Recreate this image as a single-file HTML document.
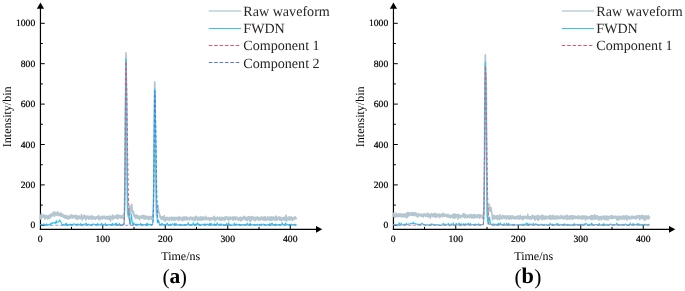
<!DOCTYPE html>
<html><head><meta charset="utf-8"><style>
html,body{margin:0;padding:0;background:#fff;width:685px;height:291px;overflow:hidden}
svg{display:block;will-change:transform}
.tl{stroke:#000;stroke-width:0.22px}
text{font-family:"Liberation Serif",serif;text-rendering:geometricPrecision}
</style></head><body>
<svg width="685" height="291" viewBox="0 0 685 291" fill="#000">
<g transform="translate(0,0)">
<line x1="40.45" y1="229.9" x2="40.45" y2="8" stroke="#000" stroke-width="1.2"/>
<path d="M36.85,8.8 L40.45,2.4 L44.050000000000004,8.8 Z" fill="#000"/>
<line x1="39.85" y1="229.3" x2="316" y2="229.3" stroke="#000" stroke-width="1.2"/>
<path d="M316,225.9 L322.3,229.3 L316,232.70000000000002 Z" fill="#000"/>
<line x1="40.45" y1="225.30" x2="44.75" y2="225.30" stroke="#000" stroke-width="1"/>
<text x="35.2" y="228.30" text-anchor="end" font-size="9.6" class="tl">0</text>
<line x1="40.45" y1="205.10" x2="42.85" y2="205.10" stroke="#000" stroke-width="1"/>
<line x1="40.45" y1="184.90" x2="44.75" y2="184.90" stroke="#000" stroke-width="1"/>
<text x="35.2" y="187.90" text-anchor="end" font-size="9.6" class="tl">200</text>
<line x1="40.45" y1="164.70" x2="42.85" y2="164.70" stroke="#000" stroke-width="1"/>
<line x1="40.45" y1="144.50" x2="44.75" y2="144.50" stroke="#000" stroke-width="1"/>
<text x="35.2" y="147.50" text-anchor="end" font-size="9.6" class="tl">400</text>
<line x1="40.45" y1="124.30" x2="42.85" y2="124.30" stroke="#000" stroke-width="1"/>
<line x1="40.45" y1="104.10" x2="44.75" y2="104.10" stroke="#000" stroke-width="1"/>
<text x="35.2" y="107.10" text-anchor="end" font-size="9.6" class="tl">600</text>
<line x1="40.45" y1="83.90" x2="42.85" y2="83.90" stroke="#000" stroke-width="1"/>
<line x1="40.45" y1="63.70" x2="44.75" y2="63.70" stroke="#000" stroke-width="1"/>
<text x="35.2" y="66.70" text-anchor="end" font-size="9.6" class="tl">800</text>
<line x1="40.45" y1="43.50" x2="42.85" y2="43.50" stroke="#000" stroke-width="1"/>
<line x1="40.45" y1="23.30" x2="44.75" y2="23.30" stroke="#000" stroke-width="1"/>
<text x="35.2" y="26.30" text-anchor="end" font-size="9.6" class="tl">1000</text>
<text x="40.25" y="241.7" text-anchor="middle" font-size="9.6" class="tl">0</text>
<line x1="71.50" y1="229.3" x2="71.50" y2="226.9" stroke="#000" stroke-width="1"/>
<line x1="102.75" y1="229.3" x2="102.75" y2="225.0" stroke="#000" stroke-width="1"/>
<text x="102.75" y="241.7" text-anchor="middle" font-size="9.6" class="tl">100</text>
<line x1="134.00" y1="229.3" x2="134.00" y2="226.9" stroke="#000" stroke-width="1"/>
<line x1="165.25" y1="229.3" x2="165.25" y2="225.0" stroke="#000" stroke-width="1"/>
<text x="165.25" y="241.7" text-anchor="middle" font-size="9.6" class="tl">200</text>
<line x1="196.50" y1="229.3" x2="196.50" y2="226.9" stroke="#000" stroke-width="1"/>
<line x1="227.75" y1="229.3" x2="227.75" y2="225.0" stroke="#000" stroke-width="1"/>
<text x="227.75" y="241.7" text-anchor="middle" font-size="9.6" class="tl">300</text>
<line x1="259.00" y1="229.3" x2="259.00" y2="226.9" stroke="#000" stroke-width="1"/>
<line x1="290.25" y1="229.3" x2="290.25" y2="225.0" stroke="#000" stroke-width="1"/>
<text x="290.25" y="241.7" text-anchor="middle" font-size="9.6" class="tl">400</text>
<text x="180.7" y="260" text-anchor="middle" font-size="12">Time/ns</text>
<text transform="translate(11.2,116.8) rotate(-90)" text-anchor="middle" font-size="12">Intensity/bin</text>
</g>
<g transform="translate(353,0)">
<line x1="40.45" y1="229.9" x2="40.45" y2="8" stroke="#000" stroke-width="1.2"/>
<path d="M36.85,8.8 L40.45,2.4 L44.050000000000004,8.8 Z" fill="#000"/>
<line x1="39.85" y1="229.3" x2="316" y2="229.3" stroke="#000" stroke-width="1.2"/>
<path d="M316,225.9 L322.3,229.3 L316,232.70000000000002 Z" fill="#000"/>
<line x1="40.45" y1="225.30" x2="44.75" y2="225.30" stroke="#000" stroke-width="1"/>
<text x="35.2" y="228.30" text-anchor="end" font-size="9.6" class="tl">0</text>
<line x1="40.45" y1="205.10" x2="42.85" y2="205.10" stroke="#000" stroke-width="1"/>
<line x1="40.45" y1="184.90" x2="44.75" y2="184.90" stroke="#000" stroke-width="1"/>
<text x="35.2" y="187.90" text-anchor="end" font-size="9.6" class="tl">200</text>
<line x1="40.45" y1="164.70" x2="42.85" y2="164.70" stroke="#000" stroke-width="1"/>
<line x1="40.45" y1="144.50" x2="44.75" y2="144.50" stroke="#000" stroke-width="1"/>
<text x="35.2" y="147.50" text-anchor="end" font-size="9.6" class="tl">400</text>
<line x1="40.45" y1="124.30" x2="42.85" y2="124.30" stroke="#000" stroke-width="1"/>
<line x1="40.45" y1="104.10" x2="44.75" y2="104.10" stroke="#000" stroke-width="1"/>
<text x="35.2" y="107.10" text-anchor="end" font-size="9.6" class="tl">600</text>
<line x1="40.45" y1="83.90" x2="42.85" y2="83.90" stroke="#000" stroke-width="1"/>
<line x1="40.45" y1="63.70" x2="44.75" y2="63.70" stroke="#000" stroke-width="1"/>
<text x="35.2" y="66.70" text-anchor="end" font-size="9.6" class="tl">800</text>
<line x1="40.45" y1="43.50" x2="42.85" y2="43.50" stroke="#000" stroke-width="1"/>
<line x1="40.45" y1="23.30" x2="44.75" y2="23.30" stroke="#000" stroke-width="1"/>
<text x="35.2" y="26.30" text-anchor="end" font-size="9.6" class="tl">1000</text>
<text x="40.25" y="241.7" text-anchor="middle" font-size="9.6" class="tl">0</text>
<line x1="71.50" y1="229.3" x2="71.50" y2="226.9" stroke="#000" stroke-width="1"/>
<line x1="102.75" y1="229.3" x2="102.75" y2="225.0" stroke="#000" stroke-width="1"/>
<text x="102.75" y="241.7" text-anchor="middle" font-size="9.6" class="tl">100</text>
<line x1="134.00" y1="229.3" x2="134.00" y2="226.9" stroke="#000" stroke-width="1"/>
<line x1="165.25" y1="229.3" x2="165.25" y2="225.0" stroke="#000" stroke-width="1"/>
<text x="165.25" y="241.7" text-anchor="middle" font-size="9.6" class="tl">200</text>
<line x1="196.50" y1="229.3" x2="196.50" y2="226.9" stroke="#000" stroke-width="1"/>
<line x1="227.75" y1="229.3" x2="227.75" y2="225.0" stroke="#000" stroke-width="1"/>
<text x="227.75" y="241.7" text-anchor="middle" font-size="9.6" class="tl">300</text>
<line x1="259.00" y1="229.3" x2="259.00" y2="226.9" stroke="#000" stroke-width="1"/>
<line x1="290.25" y1="229.3" x2="290.25" y2="225.0" stroke="#000" stroke-width="1"/>
<text x="290.25" y="241.7" text-anchor="middle" font-size="9.6" class="tl">400</text>
<text x="180.7" y="260" text-anchor="middle" font-size="12">Time/ns</text>
<text transform="translate(11.2,116.8) rotate(-90)" text-anchor="middle" font-size="12">Intensity/bin</text>
</g>
<g transform="translate(0,0)" fill="none" stroke-linejoin="round">
<polyline points="40.25,214.72 40.38,218.99 40.50,216.23 40.62,217.14 40.75,217.03 40.88,216.81 41.00,218.49 41.12,216.83 41.25,217.42 41.38,213.53 41.50,216.40 41.62,216.94 41.75,216.88 41.88,217.23 42.00,217.59 42.12,216.98 42.25,216.17 42.38,216.84 42.50,215.72 42.62,216.80 42.75,216.59 42.88,215.18 43.00,216.11 43.12,217.08 43.25,216.78 43.38,216.11 43.50,214.82 43.62,216.86 43.75,216.84 43.88,215.68 44.00,217.44 44.12,216.89 44.25,215.79 44.38,216.07 44.50,216.53 44.62,215.99 44.75,219.24 44.88,215.67 45.00,217.51 45.12,218.16 45.25,216.36 45.38,215.96 45.50,217.03 45.62,217.61 45.75,216.59 45.88,216.66 46.00,215.31 46.12,215.92 46.25,216.43 46.38,215.58 46.50,216.80 46.62,217.47 46.75,216.07 46.88,216.07 47.00,216.81 47.12,217.34 47.25,216.40 47.38,218.93 47.50,215.97 47.62,216.16 47.75,218.14 47.88,216.56 48.00,217.51 48.12,215.91 48.25,218.50 48.38,217.46 48.50,215.95 48.62,215.54 48.75,218.62 48.88,217.08 49.00,216.31 49.12,217.18 49.25,215.14 49.38,217.72 49.50,216.28 49.62,217.59 49.75,215.30 49.88,216.59 50.00,216.86 50.12,218.04 50.25,214.80 50.38,215.56 50.50,215.45 50.62,214.97 50.75,215.57 50.88,216.35 51.00,216.36 51.12,216.22 51.25,214.06 51.38,216.54 51.50,215.60 51.62,215.20 51.75,214.57 51.88,214.12 52.00,215.70 52.12,216.05 52.25,214.36 52.38,213.16 52.50,213.53 52.62,214.00 52.75,214.48 52.88,213.92 53.00,214.42 53.12,213.43 53.25,214.93 53.38,214.07 53.50,214.29 53.62,213.69 53.75,213.98 53.88,211.82 54.00,212.80 54.12,212.80 54.25,216.09 54.38,214.51 54.50,214.76 54.62,213.69 54.75,216.31 54.88,213.10 55.00,213.20 55.12,215.40 55.25,215.10 55.38,214.93 55.50,214.15 55.62,213.59 55.75,212.29 55.88,214.37 56.00,213.48 56.12,214.05 56.25,212.55 56.38,213.50 56.50,212.92 56.62,215.19 56.75,214.37 56.88,214.95 57.00,212.79 57.12,213.58 57.25,214.47 57.38,214.61 57.50,213.74 57.62,214.84 57.75,215.05 57.88,213.74 58.00,211.90 58.12,214.42 58.25,214.71 58.38,215.28 58.50,215.43 58.62,213.70 58.75,213.40 58.88,214.18 59.00,213.88 59.12,214.08 59.25,214.06 59.38,215.61 59.50,214.62 59.62,214.09 59.75,214.92 59.88,214.63 60.00,214.95 60.12,214.50 60.25,213.40 60.38,214.58 60.50,214.38 60.62,213.53 60.75,213.76 60.88,212.87 61.00,216.48 61.12,213.86 61.25,215.22 61.38,214.78 61.50,214.26 61.62,214.18 61.75,214.36 61.88,215.33 62.00,214.12 62.12,216.02 62.25,216.03 62.38,215.29 62.50,216.67 62.62,214.26 62.75,215.43 62.88,214.44 63.00,216.56 63.12,216.95 63.25,216.48 63.38,215.97 63.50,217.21 63.62,216.32 63.75,216.70 63.88,215.19 64.00,217.32 64.12,215.74 64.25,217.32 64.38,217.63 64.50,217.40 64.62,217.86 64.75,216.63 64.88,215.82 65.00,216.64 65.12,216.22 65.25,215.30 65.38,216.58 65.50,216.66 65.62,217.11 65.75,218.36 65.88,216.17 66.00,218.52 66.12,216.29 66.25,216.92 66.38,215.87 66.50,216.99 66.62,217.71 66.75,216.62 66.88,217.48 67.00,217.14 67.12,216.94 67.25,217.11 67.38,217.17 67.50,217.77 67.62,217.18 67.75,218.99 67.88,217.16 68.00,218.13 68.12,215.98 68.25,215.84 68.38,218.83 68.50,216.88 68.62,217.14 68.75,217.99 68.88,216.52 69.00,217.45 69.12,218.66 69.25,217.27 69.38,217.16 69.50,216.92 69.62,218.17 69.75,216.45 69.88,216.34 70.00,218.09 70.12,217.64 70.25,217.10 70.38,217.55 70.50,215.41 70.62,216.84 70.75,217.97 70.88,217.76 71.00,217.09 71.12,214.90 71.25,217.20 71.38,216.92 71.50,216.56 71.62,217.08 71.75,214.93 71.88,217.54 72.00,216.36 72.12,216.90 72.25,216.47 72.38,218.15 72.50,215.41 72.62,217.17 72.75,217.03 72.88,217.93 73.00,217.74 73.12,216.54 73.25,216.15 73.38,216.37 73.50,215.95 73.62,216.41 73.75,217.06 73.88,216.31 74.00,216.54 74.12,217.18 74.25,216.42 74.38,215.90 74.50,216.88 74.62,217.43 74.75,216.44 74.88,215.34 75.00,217.31 75.12,217.20 75.25,217.24 75.38,215.99 75.50,218.83 75.62,216.79 75.75,216.02 75.88,217.89 76.00,215.76 76.12,216.65 76.25,217.66 76.38,216.96 76.50,218.58 76.62,217.68 76.75,215.46 76.88,218.00 77.00,215.45 77.12,217.25 77.25,216.25 77.38,217.14 77.50,219.27 77.62,217.72 77.75,217.02 77.88,218.27 78.00,218.45 78.12,216.86 78.25,217.81 78.38,218.79 78.50,217.85 78.62,216.42 78.75,217.67 78.88,216.36 79.00,215.82 79.12,217.21 79.25,218.29 79.38,218.46 79.50,217.28 79.62,216.44 79.75,217.01 79.88,216.76 80.00,217.68 80.12,217.00 80.25,217.72 80.38,217.59 80.50,218.49 80.62,218.75 80.75,217.75 80.88,218.33 81.00,218.20 81.12,216.69 81.25,217.42 81.38,214.61 81.50,216.47 81.62,217.92 81.75,216.61 81.88,217.01 82.00,217.98 82.12,216.33 82.25,218.07 82.38,220.20 82.50,216.63 82.62,217.94 82.75,215.99 82.88,217.98 83.00,218.48 83.12,215.95 83.25,218.39 83.38,217.21 83.50,216.06 83.62,217.30 83.75,217.49 83.88,217.32 84.00,216.64 84.12,218.18 84.25,216.86 84.38,216.90 84.50,215.27 84.62,217.76 84.75,218.30 84.88,216.77 85.00,217.83 85.12,217.20 85.25,217.35 85.38,216.39 85.50,218.09 85.62,217.57 85.75,219.86 85.88,218.32 86.00,216.07 86.12,218.14 86.25,218.16 86.38,218.65 86.50,216.98 86.62,217.36 86.75,218.63 86.88,216.91 87.00,217.30 87.12,216.84 87.25,218.14 87.38,215.94 87.50,217.17 87.62,217.67 87.75,218.05 87.88,217.80 88.00,216.78 88.12,217.83 88.25,216.58 88.38,217.05 88.50,216.34 88.62,216.84 88.75,217.66 88.88,219.38 89.00,217.33 89.12,216.88 89.25,217.47 89.38,217.11 89.50,218.06 89.62,217.98 89.75,218.51 89.88,216.37 90.00,217.50 90.12,218.11 90.25,218.89 90.38,217.80 90.50,216.32 90.62,217.23 90.75,218.34 90.88,216.34 91.00,216.35 91.12,216.77 91.25,216.95 91.38,216.61 91.50,217.19 91.62,216.97 91.75,218.42 91.88,216.31 92.00,217.49 92.12,215.83 92.25,219.61 92.38,217.06 92.50,216.81 92.62,218.04 92.75,217.31 92.88,217.03 93.00,217.20 93.12,218.24 93.25,217.87 93.38,216.80 93.50,216.56 93.62,217.66 93.75,217.68 93.88,217.57 94.00,216.79 94.12,218.74 94.25,219.00 94.38,217.65 94.50,218.80 94.62,218.32 94.75,217.69 94.88,217.33 95.00,218.77 95.12,217.04 95.25,219.43 95.38,217.28 95.50,219.25 95.62,218.97 95.75,217.20 95.88,218.17 96.00,218.54 96.12,218.21 96.25,217.37 96.38,217.85 96.50,217.83 96.62,216.82 96.75,218.47 96.88,218.25 97.00,218.30 97.12,216.73 97.25,216.89 97.38,216.62 97.50,217.85 97.62,217.96 97.75,217.03 97.88,218.19 98.00,217.05 98.12,217.15 98.25,218.47 98.38,217.90 98.50,217.93 98.62,216.21 98.75,215.42 98.88,217.92 99.00,217.81 99.12,219.95 99.25,217.63 99.38,217.83 99.50,218.82 99.62,217.10 99.75,219.28 99.88,218.03 100.00,217.70 100.12,218.99 100.25,217.03 100.38,216.85 100.50,219.11 100.62,219.13 100.75,217.27 100.88,217.85 101.00,218.95 101.12,218.10 101.25,217.93 101.38,217.96 101.50,217.06 101.62,217.47 101.75,216.18 101.88,216.55 102.00,217.20 102.12,216.83 102.25,216.60 102.38,217.17 102.50,218.96 102.62,217.03 102.75,217.76 102.88,216.32 103.00,217.74 103.12,217.34 103.25,217.52 103.38,216.26 103.50,217.66 103.62,218.08 103.75,217.54 103.88,218.23 104.00,217.68 104.12,217.83 104.25,217.57 104.38,216.04 104.50,218.20 104.62,217.79 104.75,218.01 104.88,217.20 105.00,218.92 105.12,218.47 105.25,217.86 105.38,217.32 105.50,217.87 105.62,218.29 105.75,218.63 105.88,217.35 106.00,216.49 106.12,217.53 106.25,217.65 106.38,217.41 106.50,218.70 106.62,218.12 106.75,218.07 106.88,217.55 107.00,217.86 107.12,218.96 107.25,216.78 107.38,216.25 107.50,218.07 107.62,217.46 107.75,217.58 107.88,217.10 108.00,219.20 108.12,216.33 108.25,218.26 108.38,216.65 108.50,217.75 108.62,218.19 108.75,217.96 108.88,216.99 109.00,218.63 109.12,218.17 109.25,218.27 109.38,219.42 109.50,216.61 109.62,217.28 109.75,217.83 109.88,216.72 110.00,218.68 110.12,217.85 110.25,216.17 110.38,216.86 110.50,219.82 110.62,220.84 110.75,218.70 110.88,216.73 111.00,218.15 111.12,217.90 111.25,217.11 111.38,218.49 111.50,217.45 111.62,216.90 111.75,217.18 111.88,217.23 112.00,218.14 112.12,217.09 112.25,217.94 112.38,216.32 112.50,215.12 112.62,218.18 112.75,219.49 112.88,217.85 113.00,217.08 113.12,216.44 113.25,216.39 113.38,218.10 113.50,218.09 113.62,216.15 113.75,218.33 113.88,216.28 114.00,217.48 114.12,216.54 114.25,216.57 114.38,216.49 114.50,216.43 114.62,218.09 114.75,216.88 114.88,217.12 115.00,216.83 115.12,215.95 115.25,217.33 115.38,217.72 115.50,217.72 115.62,217.31 115.75,216.31 115.88,217.75 116.00,215.90 116.12,216.69 116.25,217.16 116.38,218.17 116.50,216.69 116.62,216.27 116.75,218.54 116.88,215.78 117.00,215.34 117.12,216.55 117.25,216.40 117.38,214.61 117.50,215.70 117.62,217.67 117.75,216.84 117.88,216.97 118.00,216.96 118.12,219.01 118.25,216.11 118.38,217.41 118.50,216.66 118.62,216.94 118.75,216.01 118.88,217.09 119.00,217.56 119.12,216.32 119.25,215.51 119.38,217.11 119.50,215.54 119.62,216.57 119.75,217.31 119.88,215.40 120.00,217.58 120.12,215.87 120.25,217.28 120.38,216.40 120.50,217.96 120.62,217.59 120.75,215.83 120.88,216.64 121.00,216.78 121.12,217.22 121.25,216.40 121.38,218.11 121.50,217.86 121.63,216.96 121.75,217.59 121.88,217.47 122.00,216.88 122.12,216.94 122.25,217.02 122.38,215.27 122.50,215.88 122.62,215.67 122.75,216.84 122.88,217.28 123.00,218.17 123.12,217.14 123.25,218.74 123.38,217.33 123.50,216.05 123.62,215.19 123.75,215.67 123.88,217.11 124.00,215.38 124.13,215.74 124.25,212.81 124.38,211.36 124.50,206.86 124.62,199.91 124.75,193.87 124.88,182.35 125.00,171.27 125.12,155.87 125.25,136.13 125.38,116.22 125.50,98.81 125.62,80.42 125.75,67.48 125.88,57.02 126.00,52.77 126.12,56.91 126.25,66.68 126.38,81.79 126.50,97.95 126.63,117.08 126.75,136.82 126.88,155.32 127.00,172.62 127.12,182.88 127.25,194.78 127.38,202.44 127.50,206.97 127.62,213.26 127.75,213.62 127.88,215.08 128.00,215.39 128.12,214.85 128.25,215.73 128.38,217.68 128.50,215.85 128.62,214.63 128.75,213.72 128.88,213.84 129.00,212.84 129.12,209.43 129.25,208.46 129.38,207.99 129.50,209.25 129.62,206.22 129.75,211.24 129.88,209.87 130.00,208.66 130.12,211.69 130.25,211.95 130.38,213.47 130.50,210.84 130.62,212.59 130.75,210.08 130.88,208.89 131.00,208.59 131.12,205.48 131.25,206.54 131.38,205.14 131.50,204.27 131.62,204.84 131.75,204.68 131.88,205.27 132.00,207.64 132.12,209.18 132.25,210.40 132.38,211.33 132.50,211.07 132.62,212.57 132.75,212.29 132.88,212.85 133.00,213.52 133.12,211.86 133.25,213.57 133.38,212.63 133.50,211.40 133.62,214.06 133.75,213.47 133.88,215.35 134.00,214.83 134.12,216.24 134.25,215.64 134.38,216.19 134.50,215.90 134.62,214.80 134.75,216.20 134.88,215.98 135.00,216.73 135.12,216.97 135.25,217.55 135.38,218.48 135.50,216.75 135.62,215.31 135.75,216.39 135.88,217.33 136.00,215.30 136.12,217.24 136.25,217.42 136.38,217.97 136.50,217.74 136.62,217.08 136.75,215.00 136.88,217.05 137.00,217.82 137.12,217.43 137.25,217.08 137.38,218.47 137.50,216.76 137.62,216.23 137.75,216.59 137.88,216.33 138.00,218.10 138.12,218.48 138.25,215.71 138.38,215.90 138.50,218.35 138.62,216.73 138.75,216.91 138.88,216.43 139.00,216.75 139.12,217.41 139.25,216.77 139.38,216.81 139.50,217.01 139.62,218.69 139.75,219.76 139.88,217.72 140.00,218.51 140.12,216.76 140.25,216.34 140.38,216.77 140.50,217.36 140.62,216.96 140.75,215.95 140.88,217.72 141.00,216.19 141.12,216.40 141.25,216.82 141.38,215.72 141.50,217.75 141.62,216.21 141.75,217.96 141.88,217.82 142.00,218.10 142.12,216.71 142.25,218.00 142.38,217.09 142.50,218.20 142.62,216.16 142.75,215.46 142.88,216.96 143.00,215.65 143.12,216.67 143.25,215.18 143.38,217.12 143.50,218.68 143.62,215.84 143.75,217.35 143.88,218.21 144.00,217.87 144.12,218.78 144.25,217.43 144.38,218.28 144.50,215.91 144.62,216.69 144.75,218.86 144.88,218.73 145.00,217.86 145.12,219.13 145.25,217.46 145.38,217.40 145.50,218.09 145.62,217.89 145.75,216.93 145.88,216.08 146.00,216.02 146.12,217.39 146.25,216.64 146.38,218.13 146.50,217.07 146.62,218.36 146.75,216.80 146.88,218.64 147.00,218.39 147.12,217.52 147.25,217.00 147.38,218.87 147.50,218.04 147.62,217.43 147.75,217.35 147.88,218.35 148.00,217.49 148.12,217.84 148.25,216.30 148.38,217.10 148.50,218.86 148.62,219.68 148.75,217.56 148.88,216.56 149.00,217.51 149.12,216.86 149.25,218.14 149.38,218.97 149.50,217.02 149.62,217.63 149.75,217.10 149.88,219.03 150.00,217.59 150.12,218.35 150.25,217.03 150.38,218.33 150.50,218.37 150.62,218.36 150.75,216.65 150.88,217.81 151.00,218.55 151.12,218.81 151.25,218.84 151.38,216.52 151.50,219.57 151.62,218.69 151.75,217.32 151.88,216.82 152.00,218.06 152.12,217.19 152.25,217.20 152.38,216.95 152.50,217.72 152.62,216.03 152.75,216.98 152.88,215.06 153.00,216.33 153.12,212.51 153.25,211.56 153.38,207.35 153.50,199.20 153.62,191.95 153.75,179.89 153.88,168.11 154.00,150.50 154.12,135.73 154.25,120.56 154.38,104.54 154.50,91.97 154.62,85.77 154.75,81.89 154.88,83.16 155.00,92.02 155.12,104.76 155.25,120.10 155.38,135.28 155.50,153.49 155.62,170.03 155.75,181.01 155.88,192.24 156.00,198.04 156.12,205.72 156.25,211.02 156.38,213.89 156.50,213.85 156.62,215.68 156.75,215.36 156.88,214.31 157.00,213.20 157.12,212.00 157.25,210.70 157.38,208.33 157.50,206.84 157.62,209.10 157.75,204.68 157.88,206.85 158.00,206.10 158.12,208.55 158.25,208.38 158.38,209.42 158.50,210.44 158.62,210.58 158.75,211.47 158.88,213.52 159.00,213.09 159.12,212.62 159.25,212.94 159.38,214.20 159.50,214.51 159.62,214.82 159.75,216.19 159.88,216.87 160.00,214.74 160.12,217.05 160.25,217.03 160.38,218.19 160.50,216.58 160.62,216.38 160.75,218.38 160.88,217.81 161.00,219.07 161.12,216.78 161.25,217.59 161.38,219.25 161.50,217.32 161.62,218.16 161.75,218.11 161.88,218.17 162.00,219.13 162.12,219.01 162.25,217.94 162.38,218.57 162.50,219.41 162.62,216.64 162.75,218.73 162.88,219.06 163.00,219.19 163.12,217.90 163.25,217.64 163.38,218.32 163.50,217.75 163.62,219.95 163.75,218.90 163.88,219.00 164.00,218.56 164.12,218.11 164.25,220.46 164.38,215.66 164.50,219.38 164.62,218.25 164.75,217.81 164.88,217.78 165.00,218.35 165.12,221.28 165.25,219.59 165.38,217.88 165.50,219.44 165.62,219.57 165.75,220.78 165.88,217.46 166.00,218.12 166.12,219.42 166.25,218.72 166.38,218.69 166.50,219.64 166.62,218.86 166.75,218.37 166.88,218.09 167.00,217.43 167.12,218.58 167.25,219.04 167.38,218.24 167.50,219.20 167.62,219.78 167.75,217.55 167.88,218.97 168.00,218.50 168.12,218.01 168.25,219.64 168.38,218.02 168.50,218.20 168.62,218.71 168.75,218.25 168.88,219.32 169.00,220.67 169.12,218.88 169.25,219.46 169.38,217.81 169.50,218.37 169.62,219.11 169.75,218.57 169.88,217.36 170.00,217.56 170.12,218.27 170.25,218.22 170.38,218.88 170.50,218.74 170.62,218.07 170.75,218.73 170.88,218.34 171.00,219.66 171.12,220.17 171.25,220.20 171.38,219.03 171.50,217.38 171.62,217.52 171.75,219.55 171.88,220.07 172.00,217.88 172.12,218.19 172.25,219.89 172.38,217.64 172.50,218.46 172.62,217.39 172.75,218.30 172.88,217.79 173.00,218.32 173.12,219.51 173.25,218.84 173.38,219.25 173.50,217.85 173.62,219.55 173.75,220.05 173.88,217.99 174.00,217.56 174.12,217.28 174.25,217.61 174.38,220.02 174.50,219.27 174.62,219.13 174.75,218.64 174.88,220.62 175.00,218.63 175.12,218.37 175.25,219.51 175.38,218.51 175.50,217.52 175.62,218.58 175.75,217.64 175.88,217.68 176.00,218.24 176.12,218.27 176.25,218.97 176.38,217.47 176.50,219.06 176.62,219.27 176.75,217.97 176.88,219.30 177.00,218.23 177.12,217.64 177.25,218.55 177.38,218.52 177.50,217.77 177.62,217.92 177.75,220.05 177.88,219.84 178.00,217.38 178.12,218.26 178.25,220.55 178.38,219.87 178.50,218.60 178.62,219.53 178.75,218.18 178.88,218.55 179.00,218.16 179.12,219.70 179.25,218.04 179.38,216.80 179.50,219.35 179.62,217.39 179.75,217.70 179.88,218.02 180.00,218.68 180.12,219.69 180.25,219.43 180.38,217.90 180.50,217.70 180.62,217.48 180.75,217.72 180.88,217.77 181.00,219.02 181.12,219.73 181.25,218.42 181.38,218.15 181.50,218.53 181.62,220.02 181.75,219.10 181.88,219.98 182.00,218.48 182.12,219.59 182.25,218.77 182.38,218.31 182.50,218.48 182.62,217.34 182.75,219.64 182.88,220.64 183.00,217.73 183.12,217.31 183.25,217.28 183.38,218.34 183.50,218.11 183.62,218.49 183.75,219.81 183.88,219.14 184.00,218.15 184.12,219.14 184.25,216.83 184.38,220.04 184.50,219.01 184.62,217.57 184.75,219.17 184.88,219.66 185.00,219.87 185.12,219.28 185.25,217.20 185.38,218.23 185.50,218.12 185.62,219.09 185.75,217.82 185.88,218.50 186.00,219.46 186.12,219.02 186.25,218.42 186.38,217.52 186.50,218.66 186.62,218.14 186.75,216.73 186.88,219.35 187.00,219.76 187.12,217.69 187.25,218.20 187.38,218.69 187.50,218.36 187.62,218.91 187.75,218.12 187.88,218.91 188.00,217.86 188.12,219.69 188.25,219.36 188.38,218.49 188.50,219.04 188.62,217.95 188.75,218.64 188.88,219.10 189.00,218.41 189.12,219.09 189.25,220.05 189.38,219.66 189.50,219.34 189.62,219.04 189.75,218.51 189.88,217.75 190.00,218.08 190.12,216.94 190.25,217.41 190.38,218.77 190.50,217.06 190.62,217.50 190.75,219.01 190.88,218.30 191.00,217.58 191.12,218.37 191.25,217.65 191.38,218.22 191.50,217.94 191.62,218.89 191.75,218.24 191.88,218.93 192.00,217.96 192.12,220.16 192.25,218.28 192.38,217.43 192.50,218.05 192.62,218.61 192.75,218.09 192.88,219.38 193.00,219.36 193.12,218.92 193.25,218.73 193.38,217.69 193.50,219.42 193.62,217.66 193.75,220.05 193.88,219.32 194.00,218.62 194.12,217.51 194.25,219.16 194.38,220.58 194.50,218.20 194.62,218.62 194.75,219.60 194.88,219.56 195.00,219.24 195.12,218.50 195.25,217.97 195.38,219.96 195.50,216.46 195.62,218.63 195.75,218.94 195.88,217.97 196.00,218.49 196.12,216.42 196.25,217.57 196.38,218.93 196.50,218.96 196.62,219.05 196.75,218.91 196.88,217.97 197.00,219.19 197.12,217.09 197.25,218.67 197.38,218.73 197.50,217.71 197.62,220.43 197.75,219.46 197.88,218.04 198.00,218.58 198.12,218.61 198.25,218.23 198.38,219.15 198.50,218.75 198.62,219.86 198.75,220.34 198.88,217.42 199.00,219.46 199.12,219.26 199.25,217.30 199.38,217.61 199.50,219.09 199.62,219.09 199.75,218.67 199.88,219.48 200.00,218.09 200.12,218.46 200.25,218.48 200.38,217.90 200.50,217.93 200.62,216.89 200.75,217.19 200.88,220.19 201.00,217.76 201.13,219.64 201.25,219.93 201.38,217.94 201.50,219.25 201.62,218.89 201.75,217.60 201.88,219.21 202.00,219.43 202.12,218.29 202.25,217.46 202.38,218.11 202.50,220.04 202.62,219.20 202.75,218.74 202.88,216.80 203.00,217.77 203.12,217.81 203.25,217.48 203.38,218.89 203.50,218.15 203.63,218.14 203.75,219.51 203.88,218.61 204.00,218.07 204.12,219.60 204.25,217.85 204.38,217.89 204.50,217.64 204.62,219.32 204.75,218.50 204.88,217.25 205.00,217.86 205.12,219.33 205.25,218.39 205.38,217.28 205.50,218.67 205.62,218.24 205.75,216.21 205.88,218.63 206.00,218.70 206.13,219.53 206.25,219.21 206.38,217.22 206.50,218.73 206.62,219.70 206.75,219.47 206.88,218.60 207.00,217.89 207.12,219.30 207.25,217.94 207.38,219.06 207.50,218.28 207.62,218.13 207.75,218.05 207.88,219.01 208.00,218.77 208.12,218.14 208.25,219.82 208.38,218.46 208.50,218.14 208.63,217.65 208.75,218.66 208.88,218.79 209.00,218.49 209.12,219.31 209.25,218.82 209.38,218.25 209.50,218.37 209.62,219.60 209.75,218.93 209.88,220.60 210.00,217.89 210.12,219.13 210.25,218.41 210.38,219.66 210.50,218.72 210.62,218.23 210.75,217.73 210.88,219.91 211.00,217.86 211.13,218.80 211.25,219.37 211.38,218.20 211.50,218.92 211.62,218.92 211.75,219.30 211.88,218.44 212.00,218.62 212.12,218.81 212.25,219.54 212.38,219.13 212.50,218.28 212.62,217.46 212.75,218.68 212.88,217.34 213.00,218.66 213.12,219.67 213.25,218.07 213.38,219.55 213.50,218.28 213.63,217.66 213.75,218.94 213.88,218.73 214.00,216.36 214.12,218.43 214.25,218.41 214.38,217.93 214.50,218.74 214.62,218.73 214.75,218.30 214.88,220.87 215.00,217.34 215.12,219.64 215.25,219.65 215.38,218.15 215.50,218.63 215.62,219.81 215.75,218.45 215.88,219.71 216.00,219.30 216.13,220.05 216.25,219.42 216.38,218.28 216.50,218.54 216.62,218.36 216.75,217.80 216.88,218.69 217.00,219.26 217.12,218.91 217.25,217.12 217.38,218.62 217.50,218.35 217.62,218.74 217.75,218.42 217.88,218.25 218.00,218.66 218.12,218.79 218.25,219.38 218.38,219.44 218.50,218.27 218.63,217.96 218.75,217.79 218.88,218.60 219.00,219.42 219.12,218.07 219.25,218.08 219.38,220.04 219.50,217.91 219.62,218.11 219.75,217.11 219.88,219.70 220.00,219.84 220.12,217.92 220.25,220.31 220.38,219.33 220.50,219.66 220.62,219.59 220.75,220.42 220.88,218.87 221.00,217.74 221.13,218.24 221.25,218.23 221.38,218.98 221.50,217.31 221.62,218.16 221.75,217.67 221.88,220.08 222.00,218.33 222.12,219.70 222.25,218.32 222.38,218.46 222.50,219.69 222.62,218.48 222.75,217.57 222.88,218.18 223.00,218.09 223.12,219.44 223.25,219.27 223.38,219.67 223.50,218.51 223.63,217.54 223.75,218.23 223.88,218.64 224.00,219.67 224.12,218.22 224.25,218.85 224.38,220.40 224.50,220.23 224.62,218.95 224.75,219.46 224.88,217.10 225.00,218.60 225.12,219.59 225.25,219.08 225.38,217.16 225.50,219.51 225.62,217.92 225.75,218.23 225.88,217.27 226.00,218.14 226.13,219.00 226.25,218.14 226.38,218.57 226.50,217.73 226.62,218.69 226.75,216.80 226.88,218.72 227.00,218.22 227.12,219.23 227.25,218.51 227.38,218.60 227.50,218.47 227.62,217.79 227.75,219.12 227.88,219.41 228.00,217.60 228.12,218.89 228.25,219.24 228.38,217.55 228.50,217.90 228.63,221.07 228.75,218.97 228.88,217.89 229.00,217.85 229.12,219.09 229.25,217.17 229.38,219.35 229.50,218.83 229.62,218.50 229.75,218.62 229.88,217.87 230.00,217.67 230.12,218.66 230.25,217.32 230.38,219.25 230.50,218.81 230.62,217.02 230.75,218.52 230.88,217.62 231.00,219.01 231.13,218.85 231.25,218.71 231.38,218.45 231.50,218.92 231.62,218.59 231.75,217.99 231.88,217.49 232.00,218.50 232.12,218.01 232.25,217.76 232.38,219.60 232.50,220.06 232.62,217.11 232.75,217.38 232.88,218.55 233.00,218.28 233.12,219.47 233.25,219.88 233.38,218.31 233.50,219.98 233.63,217.76 233.75,219.23 233.88,218.34 234.00,216.82 234.13,216.86 234.25,218.86 234.38,217.62 234.50,219.56 234.62,219.15 234.75,218.26 234.88,217.32 235.00,219.14 235.12,218.11 235.25,218.51 235.38,219.78 235.50,218.73 235.62,217.22 235.75,218.69 235.88,218.14 236.00,217.84 236.13,219.29 236.25,217.47 236.38,217.22 236.50,217.13 236.63,217.39 236.75,219.04 236.88,219.15 237.00,219.34 237.12,219.45 237.25,219.35 237.38,217.69 237.50,217.26 237.62,219.21 237.75,217.86 237.88,219.79 238.00,218.92 238.12,219.54 238.25,220.12 238.38,218.57 238.50,218.54 238.63,218.99 238.75,219.10 238.88,219.53 239.00,218.74 239.13,219.18 239.25,218.40 239.38,219.74 239.50,218.41 239.62,218.15 239.75,217.47 239.88,217.65 240.00,218.45 240.12,219.26 240.25,220.32 240.38,218.63 240.50,217.31 240.62,217.09 240.75,220.98 240.88,219.33 241.00,218.95 241.13,219.59 241.25,218.45 241.38,218.59 241.50,219.11 241.63,218.66 241.75,220.11 241.88,219.53 242.00,219.46 242.12,217.80 242.25,220.14 242.38,218.83 242.50,217.91 242.62,218.68 242.75,217.88 242.88,219.23 243.00,218.22 243.12,217.79 243.25,216.55 243.38,217.95 243.50,217.30 243.63,218.62 243.75,218.53 243.88,217.17 244.00,218.08 244.13,217.31 244.25,217.96 244.38,216.65 244.50,216.41 244.62,219.40 244.75,216.89 244.88,218.22 245.00,218.18 245.12,218.72 245.25,217.95 245.38,219.65 245.50,219.29 245.62,219.32 245.75,218.34 245.88,217.76 246.00,217.93 246.13,218.27 246.25,219.16 246.38,220.24 246.50,218.23 246.63,218.47 246.75,218.28 246.88,217.28 247.00,218.78 247.12,218.79 247.25,220.76 247.38,218.09 247.50,218.65 247.62,219.29 247.75,218.25 247.88,219.58 248.00,219.11 248.12,216.78 248.25,217.91 248.38,217.75 248.50,217.91 248.63,218.01 248.75,218.43 248.88,216.48 249.00,218.68 249.13,217.93 249.25,218.81 249.38,218.94 249.50,220.88 249.62,220.40 249.75,217.17 249.88,217.23 250.00,219.02 250.12,218.64 250.25,218.05 250.38,219.54 250.50,216.97 250.62,219.58 250.75,219.29 250.88,221.19 251.00,217.21 251.13,218.56 251.25,217.11 251.38,219.55 251.50,218.31 251.63,218.55 251.75,218.43 251.88,216.69 252.00,216.51 252.12,217.34 252.25,218.99 252.38,217.79 252.50,217.37 252.62,218.10 252.75,218.09 252.88,218.17 253.00,219.46 253.12,218.39 253.25,217.13 253.38,219.55 253.50,218.55 253.63,217.85 253.75,219.89 253.88,218.75 254.00,220.20 254.13,219.19 254.25,219.93 254.38,219.46 254.50,219.08 254.62,218.88 254.75,218.82 254.88,220.87 255.00,217.15 255.12,218.89 255.25,219.65 255.38,219.22 255.50,218.34 255.62,219.56 255.75,219.02 255.88,219.07 256.00,218.13 256.12,219.33 256.25,218.21 256.38,218.31 256.50,218.77 256.62,217.48 256.75,218.62 256.88,219.73 257.00,218.36 257.12,218.52 257.25,218.67 257.38,218.42 257.50,216.45 257.62,218.42 257.75,218.21 257.88,218.86 258.00,217.42 258.12,218.69 258.25,219.38 258.38,219.77 258.50,218.14 258.62,217.94 258.75,220.11 258.88,219.31 259.00,218.04 259.12,217.68 259.25,219.86 259.38,219.01 259.50,217.86 259.62,219.13 259.75,219.05 259.88,219.14 260.00,219.85 260.12,218.59 260.25,218.35 260.38,219.94 260.50,218.54 260.62,217.61 260.75,218.44 260.88,217.76 261.00,219.15 261.12,217.36 261.25,219.37 261.38,216.88 261.50,219.05 261.62,219.30 261.75,219.47 261.88,219.02 262.00,219.09 262.12,219.28 262.25,218.94 262.38,218.02 262.50,217.82 262.62,218.95 262.75,217.49 262.88,219.56 263.00,219.59 263.12,219.69 263.25,218.08 263.38,220.08 263.50,219.93 263.62,217.45 263.75,217.05 263.88,217.39 264.00,220.02 264.12,218.63 264.25,217.87 264.38,218.55 264.50,220.14 264.62,218.96 264.75,220.22 264.88,219.79 265.00,216.64 265.12,218.01 265.25,220.00 265.38,220.04 265.50,218.22 265.62,219.21 265.75,218.11 265.88,219.24 266.00,218.83 266.12,218.42 266.25,219.60 266.38,220.43 266.50,219.75 266.62,219.29 266.75,218.83 266.88,218.70 267.00,218.71 267.12,218.17 267.25,219.47 267.38,217.35 267.50,216.79 267.62,218.31 267.75,218.47 267.88,217.49 268.00,218.05 268.12,218.47 268.25,218.80 268.38,219.33 268.50,219.73 268.62,218.03 268.75,217.54 268.88,219.63 269.00,218.72 269.12,218.45 269.25,219.04 269.38,219.36 269.50,219.01 269.62,220.48 269.75,218.71 269.88,218.92 270.00,216.68 270.12,217.78 270.25,218.97 270.38,218.66 270.50,217.06 270.62,217.16 270.75,218.48 270.88,218.77 271.00,219.99 271.12,218.95 271.25,218.81 271.38,219.33 271.50,217.04 271.62,220.39 271.75,218.78 271.88,218.27 272.00,218.24 272.12,217.08 272.25,219.95 272.38,219.35 272.50,218.56 272.62,218.53 272.75,219.01 272.88,219.36 273.00,217.65 273.12,219.63 273.25,219.18 273.38,217.31 273.50,217.04 273.62,217.84 273.75,219.45 273.88,219.44 274.00,219.49 274.12,219.70 274.25,219.04 274.38,217.47 274.50,218.44 274.62,219.35 274.75,219.37 274.88,219.74 275.00,217.53 275.12,220.53 275.25,218.40 275.38,219.99 275.50,219.64 275.62,220.04 275.75,217.76 275.88,218.73 276.00,216.11 276.12,219.62 276.25,219.68 276.38,218.11 276.50,218.14 276.62,218.92 276.75,220.54 276.88,217.32 277.00,218.14 277.12,218.30 277.25,219.22 277.38,218.07 277.50,219.19 277.62,218.63 277.75,218.85 277.88,217.50 278.00,219.11 278.12,219.00 278.25,217.65 278.38,218.47 278.50,218.70 278.62,218.90 278.75,217.80 278.88,219.29 279.00,218.24 279.12,216.80 279.25,218.31 279.38,219.41 279.50,219.80 279.62,218.55 279.75,219.83 279.88,220.17 280.00,219.39 280.12,219.71 280.25,217.88 280.38,220.04 280.50,217.22 280.62,219.39 280.75,218.58 280.88,218.07 281.00,218.49 281.12,218.03 281.25,219.61 281.38,220.81 281.50,218.89 281.62,220.26 281.75,219.24 281.88,217.82 282.00,218.89 282.12,219.25 282.25,219.75 282.38,218.98 282.50,218.87 282.62,220.18 282.75,218.43 282.88,219.71 283.00,218.51 283.12,219.13 283.25,217.79 283.38,217.91 283.50,218.70 283.62,218.81 283.75,218.30 283.88,217.42 284.00,217.71 284.12,218.55 284.25,218.40 284.38,217.23 284.50,220.21 284.62,218.18 284.75,219.52 284.88,217.42 285.00,219.14 285.12,218.78 285.25,219.68 285.38,218.66 285.50,217.93 285.62,217.11 285.75,219.84 285.88,219.07 286.00,215.02 286.12,217.78 286.25,218.66 286.38,218.16 286.50,221.13 286.62,217.14 286.75,218.50 286.88,219.98 287.00,217.55 287.12,219.23 287.25,219.59 287.38,218.15 287.50,218.26 287.62,219.06 287.75,218.70 287.88,219.89 288.00,219.98 288.12,217.80 288.25,217.41 288.38,218.23 288.50,218.29 288.62,219.00 288.75,218.75 288.88,219.50 289.00,217.00 289.12,219.16 289.25,218.25 289.38,218.63 289.50,219.94 289.62,216.83 289.75,218.98 289.88,219.35 290.00,218.53 290.12,219.47 290.25,218.61 290.38,219.53 290.50,218.11 290.62,218.58 290.75,219.91 290.88,217.67 291.00,218.45 291.12,219.66 291.25,218.30 291.38,218.23 291.50,216.90 291.62,219.43 291.75,217.83 291.88,218.72 292.00,218.05 292.12,218.87 292.25,218.68 292.38,218.16 292.50,219.73 292.62,220.58 292.75,218.63 292.88,219.04 293.00,218.54 293.12,218.02 293.25,218.82 293.38,217.51 293.50,218.66 293.62,218.51 293.75,217.84 293.88,218.07 294.00,218.69 294.12,218.49 294.25,219.31 294.38,219.18 294.50,218.51 294.62,217.85 294.75,219.01 294.88,217.82 295.00,216.79 295.12,216.60 295.25,218.57 295.38,217.62 295.50,218.03 295.62,217.86 295.75,217.81 295.88,218.10 296.00,217.82 296.12,218.41 296.25,218.83 296.38,218.35 296.50,218.13" stroke="#b4c6d0" stroke-width="1.6"/>
<polyline points="40.25,224.33 40.38,224.39 40.50,224.45 40.62,224.51 40.75,224.57 40.88,224.55 41.00,224.52 41.12,224.49 41.25,224.47 41.38,224.42 41.50,224.37 41.62,224.32 41.75,224.27 41.88,224.44 42.00,224.61 42.12,224.78 42.25,224.94 42.38,224.90 42.50,224.85 42.62,224.80 42.75,224.75 42.88,224.70 43.00,224.64 43.12,224.58 43.25,224.53 43.38,224.33 43.50,224.14 43.62,223.94 43.75,223.75 43.88,224.05 44.00,224.36 44.12,224.66 44.25,224.97 44.38,224.82 44.50,224.68 44.62,224.54 44.75,224.40 44.88,224.47 45.00,224.55 45.12,224.62 45.25,224.70 45.38,224.76 45.50,224.83 45.62,224.90 45.75,224.96 45.88,224.76 46.00,224.55 46.12,224.35 46.25,224.14 46.38,224.13 46.50,224.11 46.62,224.09 46.75,224.08 46.88,224.23 47.00,224.38 47.12,224.53 47.25,224.68 47.38,224.73 47.50,224.78 47.62,224.82 47.75,224.87 47.88,224.81 48.00,224.76 48.12,224.70 48.25,224.65 48.38,224.62 48.50,224.58 48.62,224.55 48.75,224.52 48.88,224.62 49.00,224.72 49.12,224.81 49.25,224.91 49.38,224.86 49.50,224.81 49.62,224.76 49.75,224.71 49.88,224.44 50.00,224.17 50.12,223.90 50.25,223.63 50.38,223.93 50.50,224.23 50.62,224.54 50.75,224.84 50.88,224.46 51.00,224.08 51.12,223.71 51.25,223.33 51.38,223.32 51.50,223.30 51.62,223.29 51.75,223.28 51.88,223.11 52.00,222.94 52.12,222.77 52.25,222.59 52.38,222.77 52.50,222.95 52.62,223.12 52.75,223.30 52.88,223.25 53.00,223.20 53.12,223.14 53.25,223.09 53.38,223.03 53.50,222.97 53.62,222.91 53.75,222.85 53.88,222.86 54.00,222.88 54.12,222.89 54.25,222.91 54.38,222.76 54.50,222.61 54.62,222.46 54.75,222.31 54.88,222.55 55.00,222.80 55.12,223.04 55.25,223.28 55.38,223.22 55.50,223.17 55.62,223.11 55.75,223.05 55.88,222.46 56.00,221.86 56.12,221.27 56.25,220.67 56.38,221.19 56.50,221.71 56.62,222.23 56.75,222.75 56.88,222.59 57.00,222.44 57.12,222.29 57.25,222.13 57.38,222.15 57.50,222.16 57.62,222.18 57.75,222.19 57.88,222.07 58.00,221.96 58.12,221.84 58.25,221.73 58.38,221.71 58.50,221.70 58.62,221.68 58.75,221.66 58.88,221.57 59.00,221.48 59.12,221.39 59.25,221.30 59.38,220.91 59.50,220.52 59.62,220.13 59.75,219.74 59.88,220.08 60.00,220.42 60.12,220.76 60.25,221.09 60.38,221.25 60.50,221.41 60.62,221.57 60.75,221.73 60.88,221.94 61.00,222.14 61.12,222.35 61.25,222.56 61.38,222.86 61.50,223.17 61.62,223.48 61.75,223.78 61.88,224.03 62.00,224.28 62.12,224.53 62.25,224.78 62.38,224.84 62.50,224.91 62.62,224.97 62.75,225.04 62.88,224.84 63.00,224.64 63.12,224.44 63.25,224.25 63.38,224.32 63.50,224.40 63.62,224.47 63.75,224.54 63.88,224.75 64.00,224.95 64.12,225.15 64.25,225.36 64.38,225.18 64.50,224.99 64.62,224.81 64.75,224.63 64.88,224.43 65.00,224.22 65.12,224.02 65.25,223.81 65.38,223.98 65.50,224.14 65.62,224.31 65.75,224.47 65.88,224.15 66.00,223.83 66.12,223.51 66.25,223.19 66.38,223.62 66.50,224.04 66.62,224.47 66.75,224.89 66.88,224.84 67.00,224.79 67.12,224.73 67.25,224.68 67.38,224.84 67.50,225.00 67.62,225.16 67.75,225.33 67.88,225.15 68.00,224.97 68.12,224.79 68.25,224.60 68.38,224.59 68.50,224.58 68.62,224.56 68.75,224.55 68.88,224.71 69.00,224.88 69.12,225.04 69.25,225.20 69.38,225.01 69.50,224.82 69.62,224.63 69.75,224.44 69.88,224.33 70.00,224.22 70.12,224.10 70.25,223.99 70.38,224.15 70.50,224.31 70.62,224.47 70.75,224.63 70.88,224.74 71.00,224.86 71.12,224.97 71.25,225.08 71.38,224.94 71.50,224.80 71.62,224.65 71.75,224.51 71.88,224.51 72.00,224.51 72.12,224.51 72.25,224.52 72.38,224.56 72.50,224.60 72.62,224.64 72.75,224.68 72.88,224.46 73.00,224.23 73.12,224.01 73.25,223.78 73.38,223.95 73.50,224.12 73.62,224.29 73.75,224.46 73.88,224.43 74.00,224.40 74.12,224.36 74.25,224.33 74.38,224.22 74.50,224.12 74.62,224.02 74.75,223.92 74.88,224.04 75.00,224.16 75.12,224.28 75.25,224.40 75.38,224.51 75.50,224.62 75.62,224.73 75.75,224.84 75.88,224.79 76.00,224.74 76.12,224.69 76.25,224.63 76.38,224.62 76.50,224.60 76.62,224.59 76.75,224.57 76.88,224.59 77.00,224.60 77.12,224.62 77.25,224.64 77.38,224.45 77.50,224.26 77.62,224.07 77.75,223.88 77.88,224.05 78.00,224.22 78.12,224.39 78.25,224.56 78.38,224.63 78.50,224.69 78.62,224.76 78.75,224.83 78.88,224.73 79.00,224.64 79.12,224.54 79.25,224.44 79.38,224.57 79.50,224.71 79.62,224.85 79.75,224.98 79.88,224.88 80.00,224.77 80.12,224.67 80.25,224.57 80.38,224.31 80.50,224.05 80.62,223.79 80.75,223.53 80.88,223.85 81.00,224.17 81.12,224.49 81.25,224.81 81.38,224.80 81.50,224.79 81.62,224.77 81.75,224.76 81.88,224.81 82.00,224.85 82.12,224.89 82.25,224.94 82.38,224.86 82.50,224.78 82.62,224.71 82.75,224.63 82.88,224.69 83.00,224.75 83.12,224.80 83.25,224.86 83.38,224.69 83.50,224.52 83.62,224.35 83.75,224.18 83.88,224.25 84.00,224.33 84.12,224.41 84.25,224.48 84.38,224.55 84.50,224.61 84.62,224.67 84.75,224.73 84.88,224.50 85.00,224.28 85.12,224.05 85.25,223.82 85.38,223.89 85.50,223.96 85.62,224.02 85.75,224.09 85.88,223.83 86.00,223.57 86.12,223.32 86.25,223.06 86.38,223.43 86.50,223.79 86.62,224.16 86.75,224.53 86.88,224.55 87.00,224.57 87.12,224.59 87.25,224.61 87.38,224.61 87.50,224.61 87.62,224.61 87.75,224.62 87.88,224.66 88.00,224.71 88.12,224.75 88.25,224.80 88.38,224.63 88.50,224.46 88.62,224.30 88.75,224.13 88.88,224.25 89.00,224.37 89.12,224.49 89.25,224.61 89.38,224.72 89.50,224.84 89.62,224.96 89.75,225.07 89.88,225.02 90.00,224.96 90.12,224.91 90.25,224.85 90.38,224.99 90.50,225.12 90.62,225.26 90.75,225.40 90.88,225.17 91.00,224.94 91.12,224.71 91.25,224.48 91.38,224.47 91.50,224.46 91.62,224.46 91.75,224.45 91.88,224.38 92.00,224.31 92.12,224.23 92.25,224.16 92.38,224.14 92.50,224.12 92.62,224.09 92.75,224.07 92.88,224.06 93.00,224.04 93.12,224.03 93.25,224.01 93.38,224.14 93.50,224.27 93.62,224.41 93.75,224.54 93.88,224.50 94.00,224.46 94.12,224.42 94.25,224.38 94.38,224.40 94.50,224.41 94.62,224.43 94.75,224.44 94.88,224.53 95.00,224.62 95.12,224.72 95.25,224.81 95.38,224.72 95.50,224.62 95.62,224.53 95.75,224.44 95.88,224.46 96.00,224.48 96.12,224.50 96.25,224.53 96.38,224.46 96.50,224.40 96.62,224.34 96.75,224.28 96.88,224.38 97.00,224.48 97.12,224.58 97.25,224.67 97.38,224.39 97.50,224.11 97.62,223.82 97.75,223.54 97.88,223.85 98.00,224.17 98.12,224.49 98.25,224.81 98.38,224.80 98.50,224.79 98.62,224.78 98.75,224.77 98.88,224.80 99.00,224.83 99.12,224.86 99.25,224.88 99.38,224.85 99.50,224.82 99.62,224.79 99.75,224.76 99.88,224.70 100.00,224.65 100.12,224.59 100.25,224.53 100.38,224.53 100.50,224.53 100.62,224.54 100.75,224.54 100.88,224.27 101.00,224.00 101.12,223.73 101.25,223.46 101.38,223.50 101.50,223.54 101.62,223.58 101.75,223.62 101.88,223.84 102.00,224.06 102.12,224.28 102.25,224.49 102.38,224.62 102.50,224.74 102.62,224.87 102.75,225.00 102.88,224.87 103.00,224.75 103.12,224.63 103.25,224.51 103.38,224.47 103.50,224.43 103.62,224.38 103.75,224.34 103.88,224.52 104.00,224.69 104.12,224.87 104.25,225.04 104.38,225.03 104.50,225.01 104.62,225.00 104.75,224.99 104.88,224.59 105.00,224.19 105.12,223.80 105.25,223.40 105.38,223.79 105.50,224.18 105.62,224.58 105.75,224.97 105.88,224.91 106.00,224.86 106.12,224.81 106.25,224.76 106.38,224.80 106.50,224.85 106.62,224.89 106.75,224.94 106.88,224.85 107.00,224.75 107.12,224.66 107.25,224.57 107.38,224.68 107.50,224.79 107.62,224.91 107.75,225.02 107.88,224.94 108.00,224.87 108.12,224.79 108.25,224.71 108.38,224.74 108.50,224.77 108.62,224.79 108.75,224.82 108.88,224.85 109.00,224.88 109.12,224.92 109.25,224.95 109.38,224.81 109.50,224.67 109.62,224.53 109.75,224.38 109.88,224.46 110.00,224.53 110.12,224.60 110.25,224.67 110.38,224.63 110.50,224.60 110.62,224.56 110.75,224.52 110.88,224.59 111.00,224.65 111.12,224.71 111.25,224.77 111.38,224.70 111.50,224.63 111.62,224.55 111.75,224.48 111.88,224.22 112.00,223.96 112.12,223.70 112.25,223.44 112.38,223.45 112.50,223.45 112.62,223.45 112.75,223.46 112.88,223.89 113.00,224.32 113.12,224.75 113.25,225.18 113.38,225.00 113.50,224.81 113.62,224.63 113.75,224.45 113.88,224.45 114.00,224.46 114.12,224.47 114.25,224.48 114.38,224.52 114.50,224.55 114.62,224.59 114.75,224.63 114.88,224.37 115.00,224.12 115.12,223.86 115.25,223.60 115.38,223.86 115.50,224.12 115.62,224.38 115.75,224.64 115.88,224.23 116.00,223.81 116.12,223.40 116.25,222.99 116.38,223.48 116.50,223.97 116.62,224.47 116.75,224.96 116.88,224.89 117.00,224.83 117.12,224.76 117.25,224.69 117.38,224.67 117.50,224.64 117.62,224.61 117.75,224.59 117.88,224.65 118.00,224.72 118.12,224.79 118.25,224.85 118.38,224.88 118.50,224.90 118.62,224.93 118.75,224.95 118.88,224.53 119.00,224.12 119.12,223.70 119.25,223.28 119.38,223.59 119.50,223.89 119.62,224.20 119.75,224.51 119.88,224.57 120.00,224.64 120.12,224.70 120.25,224.76 120.38,224.78 120.50,224.79 120.62,224.80 120.75,224.82 120.88,224.97 121.00,225.12 121.12,225.27 121.25,225.43 121.38,225.34 121.50,225.25 121.63,225.17 121.75,225.08 121.88,225.00 122.00,224.91 122.12,224.83 122.25,224.75 122.38,224.64 122.50,224.53 122.62,224.42 122.75,224.31 122.88,224.31 123.00,224.31 123.12,224.31 123.25,224.30 123.38,224.43 123.50,224.54 123.62,224.61 123.75,224.62 123.88,224.18 124.00,223.52 124.13,222.49 124.25,220.87 124.38,218.45 124.50,214.73 124.62,209.25 124.75,201.52 124.88,191.39 125.00,178.37 125.12,162.51 125.25,144.33 125.38,124.15 125.50,104.01 125.62,85.59 125.75,70.68 125.88,61.74 126.00,58.94 126.12,61.35 126.25,67.50 126.38,76.54 126.50,88.32 126.63,102.11 126.75,117.08 126.88,132.06 127.00,146.69 127.12,160.40 127.25,172.73 127.38,184.08 127.50,193.63 127.62,201.35 127.75,207.27 127.88,211.30 128.00,213.72 128.12,214.72 128.25,214.58 128.38,213.40 128.50,212.01 128.62,210.93 128.75,210.58 128.88,211.56 129.00,213.37 129.12,215.74 129.25,218.28 129.38,220.33 129.50,221.98 129.62,223.15 129.75,223.87 129.88,224.05 130.00,223.96 130.12,223.67 130.25,223.19 130.38,223.03 130.50,222.64 130.62,221.98 130.75,221.05 130.88,219.31 131.00,217.48 131.12,215.75 131.25,214.32 131.38,214.14 131.50,214.54 131.62,215.52 131.75,216.98 131.88,218.30 132.00,219.71 132.12,221.05 132.25,222.18 132.38,223.12 132.50,223.81 132.62,224.27 132.75,224.57 132.88,224.70 133.00,224.76 133.12,224.78 133.25,224.78 133.38,224.26 133.50,223.74 133.62,223.22 133.75,222.69 133.88,223.07 134.00,223.44 134.12,223.81 134.25,224.18 134.38,224.24 134.50,224.31 134.62,224.37 134.75,224.43 134.88,224.38 135.00,224.33 135.12,224.28 135.25,224.24 135.38,224.38 135.50,224.53 135.62,224.67 135.75,224.82 135.88,224.68 136.00,224.54 136.12,224.40 136.25,224.26 136.38,224.33 136.50,224.39 136.62,224.45 136.75,224.52 136.88,224.46 137.00,224.40 137.12,224.35 137.25,224.29 137.38,224.41 137.50,224.54 137.62,224.67 137.75,224.79 137.88,224.78 138.00,224.77 138.12,224.76 138.25,224.74 138.38,224.63 138.50,224.52 138.62,224.40 138.75,224.29 138.88,224.34 139.00,224.40 139.12,224.45 139.25,224.50 139.38,224.54 139.50,224.58 139.62,224.61 139.75,224.65 139.88,224.70 140.00,224.76 140.12,224.82 140.25,224.87 140.38,224.46 140.50,224.04 140.62,223.63 140.75,223.22 140.88,223.55 141.00,223.88 141.12,224.21 141.25,224.54 141.38,224.52 141.50,224.51 141.62,224.49 141.75,224.47 141.88,224.57 142.00,224.66 142.12,224.75 142.25,224.84 142.38,224.82 142.50,224.81 142.62,224.79 142.75,224.78 142.88,224.72 143.00,224.67 143.12,224.61 143.25,224.56 143.38,224.67 143.50,224.78 143.62,224.89 143.75,224.99 143.88,224.85 144.00,224.71 144.12,224.56 144.25,224.42 144.38,224.48 144.50,224.55 144.62,224.62 144.75,224.69 144.88,224.69 145.00,224.70 145.12,224.71 145.25,224.72 145.38,224.88 145.50,225.05 145.62,225.21 145.75,225.37 145.88,225.31 146.00,225.25 146.12,225.20 146.25,225.14 146.38,224.69 146.50,224.24 146.62,223.79 146.75,223.34 146.88,223.32 147.00,223.31 147.12,223.29 147.25,223.27 147.38,223.70 147.50,224.14 147.62,224.57 147.75,225.00 147.88,224.90 148.00,224.79 148.12,224.69 148.25,224.59 148.38,224.60 148.50,224.62 148.62,224.64 148.75,224.66 148.88,224.68 149.00,224.71 149.12,224.74 149.25,224.77 149.38,224.61 149.50,224.44 149.62,224.28 149.75,224.12 149.88,224.16 150.00,224.21 150.12,224.25 150.25,224.30 150.38,224.42 150.50,224.54 150.62,224.65 150.75,224.77 150.88,224.71 151.00,224.65 151.12,224.59 151.25,224.53 151.38,224.62 151.50,224.70 151.62,224.79 151.75,224.88 151.88,224.82 152.00,224.76 152.12,224.68 152.25,224.56 152.38,224.39 152.50,224.12 152.62,223.69 152.75,222.99 152.88,221.98 153.00,220.37 153.12,217.94 153.25,214.40 153.38,208.99 153.50,201.89 153.62,192.90 153.75,181.92 153.88,169.96 154.00,156.51 154.12,142.20 154.25,127.90 154.38,114.06 154.50,102.38 154.62,93.89 154.75,89.35 154.88,89.37 155.00,92.02 155.12,96.93 155.25,103.85 155.38,112.09 155.50,121.61 155.62,131.98 155.75,142.76 155.88,153.54 156.00,163.96 156.12,173.73 156.25,182.65 156.38,190.76 156.50,197.81 156.62,203.79 156.75,208.76 156.88,212.72 157.00,215.85 157.12,218.25 157.25,220.02 157.38,221.33 157.50,222.19 157.62,222.64 157.75,222.76 157.88,222.30 158.00,221.66 158.12,220.95 158.25,220.27 158.38,220.17 158.50,220.29 158.62,220.67 158.75,221.29 158.88,221.70 159.00,222.19 159.12,222.69 159.25,223.11 159.38,223.61 159.50,224.00 159.62,224.27 159.75,224.45 159.88,224.49 160.00,224.50 160.12,224.48 160.25,224.44 160.38,224.40 160.50,224.37 160.62,224.33 160.75,224.28 160.88,224.44 161.00,224.59 161.12,224.74 161.25,224.90 161.38,224.50 161.50,224.11 161.62,223.72 161.75,223.33 161.88,223.38 162.00,223.44 162.12,223.50 162.25,223.56 162.38,223.96 162.50,224.37 162.62,224.78 162.75,225.18 162.88,225.01 163.00,224.83 163.12,224.65 163.25,224.47 163.38,224.55 163.50,224.64 163.62,224.73 163.75,224.81 163.88,224.77 164.00,224.73 164.12,224.69 164.25,224.65 164.38,224.57 164.50,224.48 164.62,224.39 164.75,224.30 164.88,224.40 165.00,224.50 165.12,224.60 165.25,224.70 165.38,224.74 165.50,224.79 165.62,224.83 165.75,224.88 165.88,224.84 166.00,224.80 166.12,224.76 166.25,224.72 166.38,224.49 166.50,224.25 166.62,224.01 166.75,223.77 166.88,223.58 167.00,223.39 167.12,223.21 167.25,223.02 167.38,223.49 167.50,223.95 167.62,224.42 167.75,224.89 167.88,225.02 168.00,225.16 168.12,225.29 168.25,225.43 168.38,225.20 168.50,224.97 168.62,224.75 168.75,224.52 168.88,224.59 169.00,224.66 169.12,224.72 169.25,224.79 169.38,224.83 169.50,224.87 169.62,224.91 169.75,224.95 169.88,224.71 170.00,224.48 170.12,224.24 170.25,224.00 170.38,224.18 170.50,224.36 170.62,224.54 170.75,224.72 170.88,224.81 171.00,224.90 171.12,224.99 171.25,225.08 171.38,225.03 171.50,224.98 171.62,224.93 171.75,224.88 171.88,224.63 172.00,224.38 172.12,224.12 172.25,223.87 172.38,223.87 172.50,223.87 172.62,223.87 172.75,223.87 172.88,223.99 173.00,224.11 173.12,224.23 173.25,224.35 173.38,224.37 173.50,224.38 173.62,224.39 173.75,224.41 173.88,224.54 174.00,224.67 174.12,224.80 174.25,224.93 174.38,224.50 174.50,224.08 174.62,223.65 174.75,223.23 174.88,223.55 175.00,223.88 175.12,224.20 175.25,224.52 175.38,224.60 175.50,224.67 175.62,224.75 175.75,224.82 175.88,224.57 176.00,224.31 176.12,224.06 176.25,223.81 176.38,223.97 176.50,224.13 176.62,224.29 176.75,224.46 176.88,224.49 177.00,224.52 177.12,224.55 177.25,224.58 177.38,224.71 177.50,224.84 177.62,224.97 177.75,225.10 177.88,225.04 178.00,224.98 178.12,224.92 178.25,224.86 178.38,224.85 178.50,224.84 178.62,224.83 178.75,224.82 178.88,224.80 179.00,224.78 179.12,224.76 179.25,224.74 179.38,224.78 179.50,224.82 179.62,224.87 179.75,224.91 179.88,224.76 180.00,224.62 180.12,224.47 180.25,224.33 180.38,224.49 180.50,224.65 180.62,224.82 180.75,224.98 180.88,224.99 181.00,225.00 181.12,225.00 181.25,225.01 181.38,224.92 181.50,224.83 181.62,224.74 181.75,224.65 181.88,224.82 182.00,224.99 182.12,225.17 182.25,225.34 182.38,225.26 182.50,225.17 182.62,225.08 182.75,225.00 182.88,224.88 183.00,224.76 183.12,224.65 183.25,224.53 183.38,224.67 183.50,224.80 183.62,224.94 183.75,225.08 183.88,225.05 184.00,225.01 184.12,224.98 184.25,224.94 184.38,224.81 184.50,224.67 184.62,224.53 184.75,224.40 184.88,224.44 185.00,224.49 185.12,224.53 185.25,224.58 185.38,224.60 185.50,224.63 185.62,224.66 185.75,224.69 185.88,224.68 186.00,224.66 186.12,224.65 186.25,224.64 186.38,224.70 186.50,224.77 186.62,224.83 186.75,224.90 186.88,224.83 187.00,224.76 187.12,224.69 187.25,224.62 187.38,224.65 187.50,224.69 187.62,224.72 187.75,224.76 187.88,224.22 188.00,223.68 188.12,223.14 188.25,222.59 188.38,223.08 188.50,223.57 188.62,224.06 188.75,224.55 188.88,224.61 189.00,224.67 189.12,224.74 189.25,224.80 189.38,224.78 189.50,224.76 189.62,224.74 189.75,224.72 189.88,224.71 190.00,224.70 190.12,224.69 190.25,224.69 190.38,224.79 190.50,224.89 190.62,224.99 190.75,225.09 190.88,225.05 191.00,225.01 191.12,224.97 191.25,224.93 191.38,224.77 191.50,224.60 191.62,224.44 191.75,224.27 191.88,224.48 192.00,224.68 192.12,224.89 192.25,225.10 192.38,225.04 192.50,224.98 192.62,224.92 192.75,224.87 192.88,224.32 193.00,223.78 193.12,223.24 193.25,222.69 193.38,223.09 193.50,223.48 193.62,223.88 193.75,224.27 193.88,224.45 194.00,224.63 194.12,224.81 194.25,224.99 194.38,224.81 194.50,224.64 194.62,224.46 194.75,224.29 194.88,224.42 195.00,224.54 195.12,224.67 195.25,224.80 195.38,224.66 195.50,224.52 195.62,224.37 195.75,224.23 195.88,224.08 196.00,223.93 196.12,223.78 196.25,223.62 196.38,223.91 196.50,224.20 196.62,224.49 196.75,224.78 196.88,224.71 197.00,224.64 197.12,224.56 197.25,224.49 197.38,224.09 197.50,223.69 197.62,223.29 197.75,222.89 197.88,223.40 198.00,223.90 198.12,224.41 198.25,224.92 198.38,224.71 198.50,224.50 198.62,224.30 198.75,224.09 198.88,224.27 199.00,224.44 199.12,224.62 199.25,224.80 199.38,224.69 199.50,224.58 199.62,224.48 199.75,224.37 199.88,224.49 200.00,224.60 200.12,224.72 200.25,224.84 200.38,224.93 200.50,225.03 200.62,225.12 200.75,225.21 200.88,225.16 201.00,225.12 201.13,225.07 201.25,225.02 201.38,224.94 201.50,224.87 201.62,224.80 201.75,224.73 201.88,224.67 202.00,224.62 202.12,224.56 202.25,224.50 202.38,224.43 202.50,224.35 202.62,224.28 202.75,224.20 202.88,224.32 203.00,224.44 203.12,224.56 203.25,224.67 203.38,224.70 203.50,224.73 203.63,224.75 203.75,224.78 203.88,224.84 204.00,224.91 204.12,224.98 204.25,225.05 204.38,224.75 204.50,224.46 204.62,224.16 204.75,223.87 204.88,224.05 205.00,224.24 205.12,224.43 205.25,224.61 205.38,224.55 205.50,224.49 205.62,224.43 205.75,224.37 205.88,224.36 206.00,224.35 206.13,224.34 206.25,224.33 206.38,224.34 206.50,224.35 206.62,224.36 206.75,224.38 206.88,224.30 207.00,224.22 207.12,224.13 207.25,224.05 207.38,224.28 207.50,224.50 207.62,224.73 207.75,224.96 207.88,224.89 208.00,224.82 208.12,224.75 208.25,224.69 208.38,224.69 208.50,224.69 208.63,224.69 208.75,224.69 208.88,224.79 209.00,224.88 209.12,224.98 209.25,225.07 209.38,224.62 209.50,224.17 209.62,223.72 209.75,223.27 209.88,223.70 210.00,224.12 210.12,224.55 210.25,224.98 210.38,224.87 210.50,224.77 210.62,224.66 210.75,224.55 210.88,224.27 211.00,223.98 211.13,223.69 211.25,223.41 211.38,223.64 211.50,223.86 211.62,224.09 211.75,224.32 211.88,224.44 212.00,224.57 212.12,224.69 212.25,224.81 212.38,224.88 212.50,224.95 212.62,225.02 212.75,225.10 212.88,224.97 213.00,224.84 213.12,224.71 213.25,224.58 213.38,224.58 213.50,224.59 213.63,224.59 213.75,224.59 213.88,224.39 214.00,224.18 214.12,223.97 214.25,223.76 214.38,223.90 214.50,224.05 214.62,224.20 214.75,224.35 214.88,224.48 215.00,224.61 215.12,224.74 215.25,224.87 215.38,224.77 215.50,224.67 215.62,224.57 215.75,224.47 215.88,224.60 216.00,224.73 216.13,224.86 216.25,224.98 216.38,224.90 216.50,224.82 216.62,224.74 216.75,224.66 216.88,224.17 217.00,223.68 217.12,223.19 217.25,222.70 217.38,223.21 217.50,223.72 217.62,224.23 217.75,224.73 217.88,224.71 218.00,224.69 218.12,224.66 218.25,224.64 218.38,224.75 218.50,224.87 218.63,224.98 218.75,225.09 218.88,225.04 219.00,224.99 219.12,224.94 219.25,224.88 219.38,224.83 219.50,224.77 219.62,224.71 219.75,224.66 219.88,224.46 220.00,224.26 220.12,224.06 220.25,223.86 220.38,224.13 220.50,224.40 220.62,224.67 220.75,224.94 220.88,224.71 221.00,224.48 221.13,224.24 221.25,224.01 221.38,224.17 221.50,224.32 221.62,224.47 221.75,224.63 221.88,224.70 222.00,224.78 222.12,224.86 222.25,224.93 222.38,224.95 222.50,224.96 222.62,224.98 222.75,224.99 222.88,224.82 223.00,224.65 223.12,224.48 223.25,224.31 223.38,224.61 223.50,224.91 223.63,225.20 223.75,225.50 223.88,225.33 224.00,225.15 224.12,224.98 224.25,224.81 224.38,224.74 224.50,224.67 224.62,224.61 224.75,224.54 224.88,224.63 225.00,224.71 225.12,224.79 225.25,224.88 225.38,224.80 225.50,224.73 225.62,224.65 225.75,224.57 225.88,224.69 226.00,224.80 226.13,224.91 226.25,225.02 226.38,224.59 226.50,224.15 226.62,223.71 226.75,223.28 226.88,223.64 227.00,224.00 227.12,224.36 227.25,224.71 227.38,224.72 227.50,224.72 227.62,224.72 227.75,224.72 227.88,224.71 228.00,224.70 228.12,224.69 228.25,224.69 228.38,224.25 228.50,223.81 228.63,223.37 228.75,222.93 228.88,223.30 229.00,223.67 229.12,224.04 229.25,224.41 229.38,224.51 229.50,224.61 229.62,224.70 229.75,224.80 229.88,224.83 230.00,224.85 230.12,224.87 230.25,224.90 230.38,224.87 230.50,224.85 230.62,224.83 230.75,224.81 230.88,224.81 231.00,224.81 231.13,224.81 231.25,224.82 231.38,224.90 231.50,224.99 231.62,225.07 231.75,225.16 231.88,225.19 232.00,225.22 232.12,225.24 232.25,225.27 232.38,225.23 232.50,225.19 232.62,225.15 232.75,225.11 232.88,225.00 233.00,224.88 233.12,224.77 233.25,224.65 233.38,224.72 233.50,224.79 233.63,224.85 233.75,224.92 233.88,224.48 234.00,224.04 234.13,223.60 234.25,223.15 234.38,223.34 234.50,223.54 234.62,223.73 234.75,223.92 234.88,224.04 235.00,224.17 235.12,224.29 235.25,224.41 235.38,224.51 235.50,224.60 235.62,224.70 235.75,224.79 235.88,224.62 236.00,224.45 236.13,224.28 236.25,224.11 236.38,224.17 236.50,224.23 236.63,224.28 236.75,224.34 236.88,224.49 237.00,224.65 237.12,224.80 237.25,224.95 237.38,224.81 237.50,224.67 237.62,224.52 237.75,224.38 237.88,224.43 238.00,224.47 238.12,224.52 238.25,224.57 238.38,224.51 238.50,224.45 238.63,224.40 238.75,224.34 238.88,224.49 239.00,224.64 239.13,224.79 239.25,224.94 239.38,224.82 239.50,224.71 239.62,224.59 239.75,224.48 239.88,224.67 240.00,224.86 240.12,225.05 240.25,225.24 240.38,225.13 240.50,225.01 240.62,224.90 240.75,224.78 240.88,224.69 241.00,224.60 241.13,224.52 241.25,224.43 241.38,224.45 241.50,224.48 241.63,224.51 241.75,224.54 241.88,224.71 242.00,224.89 242.12,225.07 242.25,225.25 242.38,225.07 242.50,224.90 242.62,224.72 242.75,224.54 242.88,224.56 243.00,224.57 243.12,224.59 243.25,224.60 243.38,224.64 243.50,224.68 243.63,224.71 243.75,224.75 243.88,224.80 244.00,224.84 244.13,224.89 244.25,224.94 244.38,224.91 244.50,224.88 244.62,224.84 244.75,224.81 244.88,224.83 245.00,224.85 245.12,224.88 245.25,224.90 245.38,224.79 245.50,224.68 245.62,224.57 245.75,224.47 245.88,224.50 246.00,224.53 246.13,224.57 246.25,224.60 246.38,224.56 246.50,224.52 246.63,224.47 246.75,224.43 246.88,224.12 247.00,223.80 247.12,223.49 247.25,223.18 247.38,223.66 247.50,224.14 247.62,224.62 247.75,225.10 247.88,225.00 248.00,224.90 248.12,224.80 248.25,224.70 248.38,224.55 248.50,224.41 248.63,224.27 248.75,224.13 248.88,224.36 249.00,224.59 249.13,224.82 249.25,225.05 249.38,224.95 249.50,224.85 249.62,224.75 249.75,224.65 249.88,224.31 250.00,223.96 250.12,223.62 250.25,223.27 250.38,223.70 250.50,224.13 250.62,224.56 250.75,224.99 250.88,224.91 251.00,224.83 251.13,224.75 251.25,224.67 251.38,224.62 251.50,224.57 251.63,224.52 251.75,224.47 251.88,224.48 252.00,224.50 252.12,224.51 252.25,224.52 252.38,224.54 252.50,224.56 252.62,224.58 252.75,224.60 252.88,224.57 253.00,224.53 253.12,224.50 253.25,224.46 253.38,224.65 253.50,224.83 253.63,225.01 253.75,225.20 253.88,225.02 254.00,224.85 254.13,224.68 254.25,224.50 254.38,224.53 254.50,224.56 254.62,224.59 254.75,224.62 254.88,224.66 255.00,224.70 255.12,224.74 255.25,224.79 255.38,224.77 255.50,224.76 255.62,224.75 255.75,224.74 255.88,224.80 256.00,224.86 256.12,224.92 256.25,224.98 256.38,224.83 256.50,224.69 256.62,224.55 256.75,224.40 256.88,224.37 257.00,224.34 257.12,224.31 257.25,224.28 257.38,224.50 257.50,224.72 257.62,224.93 257.75,225.15 257.88,225.05 258.00,224.94 258.12,224.84 258.25,224.74 258.38,224.78 258.50,224.82 258.62,224.86 258.75,224.90 258.88,224.86 259.00,224.83 259.12,224.79 259.25,224.75 259.38,224.64 259.50,224.53 259.62,224.42 259.75,224.31 259.88,224.42 260.00,224.54 260.12,224.66 260.25,224.77 260.38,224.75 260.50,224.74 260.62,224.72 260.75,224.70 260.88,224.55 261.00,224.40 261.12,224.24 261.25,224.09 261.38,224.35 261.50,224.61 261.62,224.87 261.75,225.13 261.88,225.01 262.00,224.88 262.12,224.76 262.25,224.63 262.38,224.57 262.50,224.52 262.62,224.46 262.75,224.40 262.88,224.38 263.00,224.35 263.12,224.33 263.25,224.30 263.38,224.25 263.50,224.20 263.62,224.15 263.75,224.10 263.88,224.30 264.00,224.51 264.12,224.71 264.25,224.92 264.38,224.83 264.50,224.74 264.62,224.65 264.75,224.56 264.88,224.61 265.00,224.66 265.12,224.71 265.25,224.76 265.38,224.78 265.50,224.81 265.62,224.84 265.75,224.86 265.88,224.88 266.00,224.90 266.12,224.92 266.25,224.94 266.38,224.99 266.50,225.04 266.62,225.09 266.75,225.15 266.88,225.02 267.00,224.89 267.12,224.76 267.25,224.64 267.38,224.61 267.50,224.58 267.62,224.55 267.75,224.52 267.88,224.65 268.00,224.78 268.12,224.90 268.25,225.03 268.38,224.90 268.50,224.77 268.62,224.64 268.75,224.52 268.88,224.61 269.00,224.70 269.12,224.79 269.25,224.89 269.38,224.63 269.50,224.37 269.62,224.12 269.75,223.86 269.88,224.26 270.00,224.67 270.12,225.07 270.25,225.48 270.38,225.21 270.50,224.95 270.62,224.68 270.75,224.42 270.88,224.16 271.00,223.91 271.12,223.66 271.25,223.41 271.38,223.57 271.50,223.73 271.62,223.89 271.75,224.05 271.88,223.85 272.00,223.66 272.12,223.46 272.25,223.26 272.38,223.72 272.50,224.18 272.62,224.64 272.75,225.10 272.88,224.97 273.00,224.84 273.12,224.71 273.25,224.58 273.38,224.62 273.50,224.67 273.62,224.71 273.75,224.75 273.88,224.71 274.00,224.66 274.12,224.62 274.25,224.58 274.38,224.60 274.50,224.63 274.62,224.65 274.75,224.68 274.88,224.79 275.00,224.90 275.12,225.02 275.25,225.13 275.38,224.83 275.50,224.53 275.62,224.23 275.75,223.93 275.88,224.10 276.00,224.27 276.12,224.44 276.25,224.61 276.38,224.76 276.50,224.91 276.62,225.06 276.75,225.21 276.88,225.07 277.00,224.93 277.12,224.79 277.25,224.65 277.38,224.60 277.50,224.56 277.62,224.51 277.75,224.47 277.88,224.62 278.00,224.78 278.12,224.94 278.25,225.09 278.38,224.95 278.50,224.81 278.62,224.67 278.75,224.53 278.88,224.58 279.00,224.62 279.12,224.67 279.25,224.71 279.38,224.68 279.50,224.64 279.62,224.61 279.75,224.57 279.88,224.65 280.00,224.74 280.12,224.82 280.25,224.90 280.38,224.86 280.50,224.81 280.62,224.77 280.75,224.72 280.88,224.69 281.00,224.66 281.12,224.63 281.25,224.60 281.38,224.50 281.50,224.40 281.62,224.30 281.75,224.20 281.88,223.83 282.00,223.46 282.12,223.10 282.25,222.73 282.38,223.19 282.50,223.65 282.62,224.11 282.75,224.57 282.88,224.70 283.00,224.83 283.12,224.96 283.25,225.08 283.38,224.97 283.50,224.85 283.62,224.74 283.75,224.62 283.88,224.69 284.00,224.76 284.12,224.84 284.25,224.91 284.38,224.86 284.50,224.82 284.62,224.78 284.75,224.73 284.88,224.40 285.00,224.07 285.12,223.74 285.25,223.41 285.38,223.32 285.50,223.22 285.62,223.13 285.75,223.04 285.88,223.42 286.00,223.79 286.12,224.17 286.25,224.54 286.38,224.57 286.50,224.60 286.62,224.63 286.75,224.66 286.88,224.67 287.00,224.69 287.12,224.71 287.25,224.73 287.38,224.62 287.50,224.52 287.62,224.42 287.75,224.32 287.88,224.48 288.00,224.64 288.12,224.80 288.25,224.96 288.38,224.89 288.50,224.83 288.62,224.76 288.75,224.70 288.88,224.60 289.00,224.51 289.12,224.41 289.25,224.32 289.38,224.43 289.50,224.54 289.62,224.65 289.75,224.76 289.88,224.69 290.00,224.62 290.12,224.54 290.25,224.47 290.38,224.47 290.50,224.46 290.62,224.46 290.75,224.45 290.88,224.38 291.00,224.30 291.12,224.22 291.25,224.14 291.38,224.20 291.50,224.26 291.62,224.32 291.75,224.38 291.88,224.58 292.00,224.78 292.12,224.98 292.25,225.18 292.38,225.06 292.50,224.94 292.62,224.82 292.75,224.71 292.88,224.69 293.00,224.66 293.12,224.64 293.25,224.62 293.38,224.59 293.50,224.55 293.62,224.51 293.75,224.47 293.88,224.50 294.00,224.53 294.12,224.57 294.25,224.60 294.38,224.49 294.50,224.38 294.62,224.28 294.75,224.17 294.88,224.23 295.00,224.28 295.12,224.34 295.25,224.40 295.38,224.56 295.50,224.72 295.62,224.88 295.75,225.05 295.88,225.01 296.00,224.97 296.12,224.93 296.25,224.89 296.38,224.89 296.50,224.89" stroke="#36c4eb" stroke-width="1.15"/>
<polyline points="118.38,225.30 118.50,225.30 118.62,225.30 118.75,225.30 118.88,225.30 119.00,225.30 119.12,225.30 119.25,225.30 119.38,225.30 119.50,225.30 119.62,225.30 119.75,225.30 119.88,225.30 120.00,225.30 120.12,225.30 120.25,225.30 120.38,225.30 120.50,225.30 120.62,225.30 120.75,225.30 120.88,225.30 121.00,225.30 121.12,225.30 121.25,225.30 121.38,225.30 121.50,225.30 121.63,225.30 121.75,225.30 121.88,225.30 122.00,225.30 122.12,225.30 122.25,225.30 122.38,225.30 122.50,225.30 122.62,225.30 122.75,225.30 122.88,225.30 123.00,225.30 123.12,225.29 123.25,225.28 123.38,225.25 123.50,225.18 123.62,225.05 123.75,224.79 123.88,224.32 124.00,223.48 124.13,222.05 124.25,219.73 124.38,216.12 124.50,210.75 124.62,203.16 124.75,192.92 124.88,179.81 125.00,163.89 125.12,145.66 125.25,126.06 125.38,106.49 125.50,88.63 125.62,74.26 125.75,64.92 125.88,61.68 126.00,62.35 126.12,64.36 126.25,67.65 126.38,72.15 126.50,77.74 126.63,84.30 126.75,91.67 126.88,99.70 127.00,108.22 127.12,117.06 127.25,126.06 127.38,135.06 127.50,143.91 127.62,152.51 127.75,160.73 127.88,168.49 128.00,175.73 128.12,182.41 128.25,188.49 128.38,193.97 128.50,198.85 128.62,203.16 128.75,206.91 128.88,210.16 129.00,212.93 129.12,215.28 129.25,217.25 129.38,218.89 129.50,220.24 129.62,221.33 129.75,222.22 129.88,222.92 130.00,223.48 130.12,223.92 130.25,224.26 130.38,224.53 130.50,224.73 130.62,224.88 130.75,225.00 130.88,225.08 131.00,225.14 131.12,225.19 131.25,225.22 131.38,225.25 131.50,225.26 131.62,225.27 131.75,225.28 131.88,225.29 132.00,225.29 132.12,225.29 132.25,225.30 132.38,225.30 132.50,225.30 132.62,225.30 132.75,225.30 132.88,225.30 133.00,225.30 133.12,225.30 133.25,225.30 133.38,225.30 133.50,225.30 133.62,225.30 133.75,225.30 133.88,225.30 134.00,225.30" stroke="#e0566e" stroke-width="1" stroke-dasharray="3,2"/>
<polyline points="40.25,225.30 40.38,225.30 40.50,225.30 40.62,225.30 40.75,225.30 40.88,225.30 41.00,225.30 41.12,225.30 41.25,225.30 41.38,225.30 41.50,225.30 41.62,225.30 41.75,225.30 41.88,225.30 42.00,225.30 42.12,225.30 42.25,225.30 42.38,225.30 42.50,225.30 42.62,225.30 42.75,225.30 42.88,225.30 43.00,225.30 43.12,225.30 43.25,225.30 43.38,225.30 43.50,225.30 43.62,225.30 43.75,225.30 43.88,225.30 44.00,225.30 44.12,225.30 44.25,225.30 44.38,225.30 44.50,225.30 44.62,225.30 44.75,225.30 44.88,225.30 45.00,225.30 45.12,225.30 45.25,225.30 45.38,225.30 45.50,225.30 45.62,225.30 45.75,225.30 45.88,225.30 46.00,225.30 46.12,225.30 46.25,225.30 46.38,225.30 46.50,225.30 46.62,225.30 46.75,225.30 46.88,225.30 47.00,225.30 47.12,225.30 47.25,225.30 47.38,225.30 47.50,225.30 47.62,225.30 47.75,225.30 47.88,225.30 48.00,225.30 48.12,225.30 48.25,225.30 48.38,225.30 48.50,225.30 48.62,225.30 48.75,225.30 48.88,225.30 49.00,225.30 49.12,225.30 49.25,225.30 49.38,225.30 49.50,225.30 49.62,225.30 49.75,225.30 49.88,225.30 50.00,225.30 50.12,225.30 50.25,225.30 50.38,225.30 50.50,225.30 50.62,225.30 50.75,225.30 50.88,225.30 51.00,225.30 51.12,225.30 51.25,225.30 51.38,225.30 51.50,225.30 51.62,225.30 51.75,225.30 51.88,225.30 52.00,225.30 52.12,225.30 52.25,225.30 52.38,225.30 52.50,225.30 52.62,225.30 52.75,225.30 52.88,225.30 53.00,225.30 53.12,225.30 53.25,225.30 53.38,225.30 53.50,225.30 53.62,225.30 53.75,225.30 53.88,225.30 54.00,225.30 54.12,225.30 54.25,225.30 54.38,225.30 54.50,225.30 54.62,225.30 54.75,225.30 54.88,225.30 55.00,225.30 55.12,225.30 55.25,225.30 55.38,225.30 55.50,225.30 55.62,225.30 55.75,225.30 55.88,225.30 56.00,225.30 56.12,225.30 56.25,225.30 56.38,225.30 56.50,225.30 56.62,225.30 56.75,225.30 56.88,225.30 57.00,225.30 57.12,225.30 57.25,225.30 57.38,225.30 57.50,225.30 57.62,225.30 57.75,225.30 57.88,225.30 58.00,225.30 58.12,225.30 58.25,225.30 58.38,225.30 58.50,225.30 58.62,225.30 58.75,225.30 58.88,225.30 59.00,225.30 59.12,225.30 59.25,225.30 59.38,225.30 59.50,225.30 59.62,225.30 59.75,225.30 59.88,225.30 60.00,225.30 60.12,225.30 60.25,225.30 60.38,225.30 60.50,225.30 60.62,225.30 60.75,225.30 60.88,225.30 61.00,225.30 61.12,225.30 61.25,225.30 61.38,225.30 61.50,225.30 61.62,225.30 61.75,225.30 61.88,225.30 62.00,225.30 62.12,225.30 62.25,225.30 62.38,225.30 62.50,225.30 62.62,225.30 62.75,225.30 62.88,225.30 63.00,225.30 63.12,225.30 63.25,225.30 63.38,225.30 63.50,225.30 63.62,225.30 63.75,225.30 63.88,225.30 64.00,225.30 64.12,225.30 64.25,225.30 64.38,225.30 64.50,225.30 64.62,225.30 64.75,225.30 64.88,225.30 65.00,225.30 65.12,225.30 65.25,225.30 65.38,225.30 65.50,225.30 65.62,225.30 65.75,225.30 65.88,225.30 66.00,225.30 66.12,225.30 66.25,225.30 66.38,225.30 66.50,225.30 66.62,225.30 66.75,225.30 66.88,225.30 67.00,225.30 67.12,225.30 67.25,225.30 67.38,225.30 67.50,225.30 67.62,225.30 67.75,225.30 67.88,225.30 68.00,225.30 68.12,225.30 68.25,225.30 68.38,225.30 68.50,225.30 68.62,225.30 68.75,225.30 68.88,225.30 69.00,225.30 69.12,225.30 69.25,225.30 69.38,225.30 69.50,225.30 69.62,225.30 69.75,225.30 69.88,225.30 70.00,225.30 70.12,225.30 70.25,225.30 70.38,225.30 70.50,225.30 70.62,225.30 70.75,225.30 70.88,225.30 71.00,225.30 71.12,225.30 71.25,225.30 71.38,225.30 71.50,225.30 71.62,225.30 71.75,225.30 71.88,225.30 72.00,225.30 72.12,225.30 72.25,225.30 72.38,225.30 72.50,225.30 72.62,225.30 72.75,225.30 72.88,225.30 73.00,225.30 73.12,225.30 73.25,225.30 73.38,225.30 73.50,225.30 73.62,225.30 73.75,225.30 73.88,225.30 74.00,225.30 74.12,225.30 74.25,225.30 74.38,225.30 74.50,225.30 74.62,225.30 74.75,225.30 74.88,225.30 75.00,225.30 75.12,225.30 75.25,225.30 75.38,225.30 75.50,225.30 75.62,225.30 75.75,225.30 75.88,225.30 76.00,225.30 76.12,225.30 76.25,225.30 76.38,225.30 76.50,225.30 76.62,225.30 76.75,225.30 76.88,225.30 77.00,225.30 77.12,225.30 77.25,225.30 77.38,225.30 77.50,225.30 77.62,225.30 77.75,225.30 77.88,225.30 78.00,225.30 78.12,225.30 78.25,225.30 78.38,225.30 78.50,225.30 78.62,225.30 78.75,225.30 78.88,225.30 79.00,225.30 79.12,225.30 79.25,225.30 79.38,225.30 79.50,225.30 79.62,225.30 79.75,225.30 79.88,225.30 80.00,225.30 80.12,225.30 80.25,225.30 80.38,225.30 80.50,225.30 80.62,225.30 80.75,225.30 80.88,225.30 81.00,225.30 81.12,225.30 81.25,225.30 81.38,225.30 81.50,225.30 81.62,225.30 81.75,225.30 81.88,225.30 82.00,225.30 82.12,225.30 82.25,225.30 82.38,225.30 82.50,225.30 82.62,225.30 82.75,225.30 82.88,225.30 83.00,225.30 83.12,225.30 83.25,225.30 83.38,225.30 83.50,225.30 83.62,225.30 83.75,225.30 83.88,225.30 84.00,225.30 84.12,225.30 84.25,225.30 84.38,225.30 84.50,225.30 84.62,225.30 84.75,225.30 84.88,225.30 85.00,225.30 85.12,225.30 85.25,225.30 85.38,225.30 85.50,225.30 85.62,225.30 85.75,225.30 85.88,225.30 86.00,225.30 86.12,225.30 86.25,225.30 86.38,225.30 86.50,225.30 86.62,225.30 86.75,225.30 86.88,225.30 87.00,225.30 87.12,225.30 87.25,225.30 87.38,225.30 87.50,225.30 87.62,225.30 87.75,225.30 87.88,225.30 88.00,225.30 88.12,225.30 88.25,225.30 88.38,225.30 88.50,225.30 88.62,225.30 88.75,225.30 88.88,225.30 89.00,225.30 89.12,225.30 89.25,225.30 89.38,225.30 89.50,225.30 89.62,225.30 89.75,225.30 89.88,225.30 90.00,225.30 90.12,225.30 90.25,225.30 90.38,225.30 90.50,225.30 90.62,225.30 90.75,225.30 90.88,225.30 91.00,225.30 91.12,225.30 91.25,225.30 91.38,225.30 91.50,225.30 91.62,225.30 91.75,225.30 91.88,225.30 92.00,225.30 92.12,225.30 92.25,225.30 92.38,225.30 92.50,225.30 92.62,225.30 92.75,225.30 92.88,225.30 93.00,225.30 93.12,225.30 93.25,225.30 93.38,225.30 93.50,225.30 93.62,225.30 93.75,225.30 93.88,225.30 94.00,225.30 94.12,225.30 94.25,225.30 94.38,225.30 94.50,225.30 94.62,225.30 94.75,225.30 94.88,225.30 95.00,225.30 95.12,225.30 95.25,225.30 95.38,225.30 95.50,225.30 95.62,225.30 95.75,225.30 95.88,225.30 96.00,225.30 96.12,225.30 96.25,225.30 96.38,225.30 96.50,225.30 96.62,225.30 96.75,225.30 96.88,225.30 97.00,225.30 97.12,225.30 97.25,225.30 97.38,225.30 97.50,225.30 97.62,225.30 97.75,225.30 97.88,225.30 98.00,225.30 98.12,225.30 98.25,225.30 98.38,225.30 98.50,225.30 98.62,225.30 98.75,225.30 98.88,225.30 99.00,225.30 99.12,225.30 99.25,225.30 99.38,225.30 99.50,225.30 99.62,225.30 99.75,225.30 99.88,225.30 100.00,225.30 100.12,225.30 100.25,225.30 100.38,225.30 100.50,225.30 100.62,225.30 100.75,225.30 100.88,225.30 101.00,225.30 101.12,225.30 101.25,225.30 101.38,225.30 101.50,225.30 101.62,225.30 101.75,225.30 101.88,225.30 102.00,225.30 102.12,225.30 102.25,225.30 102.38,225.30 102.50,225.30 102.62,225.30 102.75,225.30 102.88,225.30 103.00,225.30 103.12,225.30 103.25,225.30 103.38,225.30 103.50,225.30 103.62,225.30 103.75,225.30 103.88,225.30 104.00,225.30 104.12,225.30 104.25,225.30 104.38,225.30 104.50,225.30 104.62,225.30 104.75,225.30 104.88,225.30 105.00,225.30 105.12,225.30 105.25,225.30 105.38,225.30 105.50,225.30 105.62,225.30 105.75,225.30 105.88,225.30 106.00,225.30 106.12,225.30 106.25,225.30 106.38,225.30 106.50,225.30 106.62,225.30 106.75,225.30 106.88,225.30 107.00,225.30 107.12,225.30 107.25,225.30 107.38,225.30 107.50,225.30 107.62,225.30 107.75,225.30 107.88,225.30 108.00,225.30 108.12,225.30 108.25,225.30 108.38,225.30 108.50,225.30 108.62,225.30 108.75,225.30 108.88,225.30 109.00,225.30 109.12,225.30 109.25,225.30 109.38,225.30 109.50,225.30 109.62,225.30 109.75,225.30 109.88,225.30 110.00,225.30 110.12,225.30 110.25,225.30 110.38,225.30 110.50,225.30 110.62,225.30 110.75,225.30 110.88,225.30 111.00,225.30 111.12,225.30 111.25,225.30 111.38,225.30 111.50,225.30 111.62,225.30 111.75,225.30 111.88,225.30 112.00,225.30 112.12,225.30 112.25,225.30 112.38,225.30 112.50,225.30 112.62,225.30 112.75,225.30 112.88,225.30 113.00,225.30 113.12,225.30 113.25,225.30 113.38,225.30 113.50,225.30 113.62,225.30 113.75,225.30 113.88,225.30 114.00,225.30 114.12,225.30 114.25,225.30 114.38,225.30 114.50,225.30 114.62,225.30 114.75,225.30 114.88,225.30 115.00,225.30 115.12,225.30 115.25,225.30 115.38,225.30 115.50,225.30 115.62,225.30 115.75,225.30 115.88,225.30 116.00,225.30 116.12,225.30 116.25,225.30 116.38,225.30 116.50,225.30 116.62,225.30 116.75,225.30 116.88,225.30 117.00,225.30 117.12,225.30 117.25,225.30 117.38,225.30 117.50,225.30 117.62,225.30 117.75,225.30 117.88,225.30 118.00,225.30 118.12,225.30 118.25,225.30 118.38,225.30 118.50,225.30 118.62,225.30 118.75,225.30 118.88,225.30 119.00,225.30 119.12,225.30 119.25,225.30 119.38,225.30 119.50,225.30 119.62,225.30 119.75,225.30 119.88,225.30 120.00,225.30 120.12,225.30 120.25,225.30 120.38,225.30 120.50,225.30 120.62,225.30 120.75,225.30 120.88,225.30 121.00,225.30 121.12,225.30 121.25,225.30 121.38,225.30 121.50,225.30 121.63,225.30 121.75,225.30 121.88,225.30 122.00,225.30 122.12,225.30 122.25,225.30 122.38,225.30 122.50,225.30 122.62,225.30 122.75,225.30 122.88,225.30 123.00,225.30 123.12,225.30 123.25,225.30 123.38,225.30 123.50,225.30 123.62,225.30 123.75,225.30 123.88,225.30 124.00,225.30 124.13,225.30 124.25,225.30 124.38,225.30 124.50,225.30 124.62,225.30 124.75,225.30 124.88,225.30 125.00,225.30 125.12,225.30 125.25,225.30 125.38,225.30 125.50,225.30 125.62,225.30 125.75,225.30 125.88,225.30 126.00,225.30 126.12,225.30 126.25,225.30 126.38,225.30 126.50,225.30 126.63,225.30 126.75,225.30 126.88,225.30 127.00,225.30 127.12,225.30 127.25,225.30 127.38,225.30 127.50,225.30 127.62,225.30 127.75,225.30 127.88,225.30 128.00,225.30 128.12,225.30 128.25,225.30 128.38,225.30 128.50,225.30 128.62,225.30 128.75,225.30 128.88,225.30 129.00,225.30 129.12,225.30 129.25,225.30 129.38,225.30 129.50,225.30 129.62,225.30 129.75,225.30 129.88,225.30 130.00,225.30 130.12,225.30 130.25,225.30 130.38,225.30 130.50,225.30 130.62,225.30 130.75,225.30 130.88,225.30 131.00,225.30 131.12,225.30 131.25,225.30 131.38,225.30 131.50,225.30 131.62,225.30 131.75,225.30 131.88,225.30 132.00,225.30 132.12,225.30 132.25,225.30 132.38,225.30 132.50,225.30 132.62,225.30 132.75,225.30 132.88,225.30 133.00,225.30 133.12,225.30 133.25,225.30 133.38,225.30 133.50,225.30 133.62,225.30 133.75,225.30 133.88,225.30 134.00,225.30 134.12,225.30 134.25,225.30 134.38,225.30 134.50,225.30 134.62,225.30 134.75,225.30 134.88,225.30 135.00,225.30 135.12,225.30 135.25,225.30 135.38,225.30 135.50,225.30 135.62,225.30 135.75,225.30 135.88,225.30 136.00,225.30 136.12,225.30 136.25,225.30 136.38,225.30 136.50,225.30 136.62,225.30 136.75,225.30 136.88,225.30 137.00,225.30 137.12,225.30 137.25,225.30 137.38,225.30 137.50,225.30 137.62,225.30 137.75,225.30 137.88,225.30 138.00,225.30 138.12,225.30 138.25,225.30 138.38,225.30 138.50,225.30 138.62,225.30 138.75,225.30 138.88,225.30 139.00,225.30 139.12,225.30 139.25,225.30 139.38,225.30 139.50,225.30 139.62,225.30 139.75,225.30 139.88,225.30 140.00,225.30 140.12,225.30 140.25,225.30 140.38,225.30 140.50,225.30 140.62,225.30 140.75,225.30 140.88,225.30 141.00,225.30 141.12,225.30 141.25,225.30 141.38,225.30 141.50,225.30 141.62,225.30 141.75,225.30 141.88,225.30 142.00,225.30 142.12,225.30 142.25,225.30 142.38,225.30 142.50,225.30 142.62,225.30 142.75,225.30 142.88,225.30 143.00,225.30 143.12,225.30 143.25,225.30 143.38,225.30 143.50,225.30 143.62,225.30 143.75,225.30 143.88,225.30 144.00,225.30 144.12,225.30 144.25,225.30 144.38,225.30 144.50,225.30 144.62,225.30 144.75,225.30 144.88,225.30 145.00,225.30 145.12,225.30 145.25,225.30 145.38,225.30 145.50,225.30 145.62,225.30 145.75,225.30 145.88,225.30 146.00,225.30 146.12,225.30 146.25,225.30 146.38,225.30 146.50,225.30 146.62,225.30 146.75,225.30 146.88,225.30 147.00,225.30 147.12,225.30 147.25,225.30 147.38,225.30 147.50,225.30 147.62,225.30 147.75,225.30 147.88,225.30 148.00,225.30 148.12,225.30 148.25,225.30 148.38,225.30 148.50,225.30 148.62,225.30 148.75,225.30 148.88,225.30 149.00,225.30 149.12,225.30 149.25,225.30 149.38,225.30 149.50,225.30 149.62,225.30 149.75,225.30 149.88,225.30 150.00,225.30 150.12,225.30 150.25,225.30 150.38,225.30 150.50,225.30 150.62,225.30 150.75,225.30 150.88,225.30 151.00,225.30 151.12,225.30 151.25,225.30 151.38,225.30 151.50,225.30 151.62,225.30 151.75,225.29 151.88,225.29 152.00,225.27 152.12,225.24 152.25,225.17 152.38,225.05 152.50,224.83 152.62,224.45 152.75,223.81 152.88,222.77 153.00,221.14 153.12,218.69 153.25,215.15 153.38,210.21 153.50,203.59 153.62,195.08 153.75,184.61 153.88,172.29 154.00,158.48 154.12,143.82 154.25,129.18 154.38,115.59 154.50,104.15 154.62,95.87 154.75,91.52 154.88,91.16 155.00,92.63 155.12,95.54 155.25,99.78 155.38,105.23 155.50,111.70 155.62,119.00 155.75,126.94 155.88,135.28 156.00,143.82 156.12,152.37 156.25,160.74 156.38,168.78 156.50,176.36 156.62,183.39 156.75,189.81 156.88,195.57 157.00,200.68 157.12,205.13 157.25,208.96 157.38,212.21 157.50,214.93 157.62,217.17 157.75,219.00 157.88,220.47 158.00,221.64 158.12,222.56 158.25,223.26 158.38,223.81 158.50,224.22 158.62,224.52 158.75,224.75 158.88,224.91 159.00,225.03 159.12,225.12 159.25,225.18 159.38,225.22 159.50,225.24 159.62,225.26 159.75,225.28 159.88,225.28 160.00,225.29 160.12,225.29 160.25,225.30 160.38,225.30 160.50,225.30 160.62,225.30 160.75,225.30 160.88,225.30 161.00,225.30 161.12,225.30 161.25,225.30 161.38,225.30 161.50,225.30 161.62,225.30 161.75,225.30 161.88,225.30 162.00,225.30 162.12,225.30 162.25,225.30 162.38,225.30 162.50,225.30 162.62,225.30 162.75,225.30 162.88,225.30 163.00,225.30 163.12,225.30 163.25,225.30 163.38,225.30 163.50,225.30 163.62,225.30 163.75,225.30 163.88,225.30 164.00,225.30 164.12,225.30 164.25,225.30 164.38,225.30 164.50,225.30 164.62,225.30 164.75,225.30 164.88,225.30 165.00,225.30 165.12,225.30 165.25,225.30 165.38,225.30 165.50,225.30 165.62,225.30 165.75,225.30 165.88,225.30 166.00,225.30 166.12,225.30 166.25,225.30 166.38,225.30 166.50,225.30 166.62,225.30 166.75,225.30 166.88,225.30 167.00,225.30 167.12,225.30 167.25,225.30 167.38,225.30 167.50,225.30 167.62,225.30 167.75,225.30 167.88,225.30 168.00,225.30 168.12,225.30 168.25,225.30 168.38,225.30 168.50,225.30 168.62,225.30 168.75,225.30 168.88,225.30 169.00,225.30 169.12,225.30 169.25,225.30 169.38,225.30 169.50,225.30 169.62,225.30 169.75,225.30 169.88,225.30 170.00,225.30 170.12,225.30 170.25,225.30 170.38,225.30 170.50,225.30 170.62,225.30 170.75,225.30 170.88,225.30 171.00,225.30 171.12,225.30 171.25,225.30 171.38,225.30 171.50,225.30 171.62,225.30 171.75,225.30 171.88,225.30 172.00,225.30 172.12,225.30 172.25,225.30 172.38,225.30 172.50,225.30 172.62,225.30 172.75,225.30 172.88,225.30 173.00,225.30 173.12,225.30 173.25,225.30 173.38,225.30 173.50,225.30 173.62,225.30 173.75,225.30 173.88,225.30 174.00,225.30 174.12,225.30 174.25,225.30 174.38,225.30 174.50,225.30 174.62,225.30 174.75,225.30 174.88,225.30 175.00,225.30 175.12,225.30 175.25,225.30 175.38,225.30 175.50,225.30 175.62,225.30 175.75,225.30 175.88,225.30 176.00,225.30 176.12,225.30 176.25,225.30 176.38,225.30 176.50,225.30 176.62,225.30 176.75,225.30 176.88,225.30 177.00,225.30 177.12,225.30 177.25,225.30 177.38,225.30 177.50,225.30 177.62,225.30 177.75,225.30 177.88,225.30 178.00,225.30 178.12,225.30 178.25,225.30 178.38,225.30 178.50,225.30 178.62,225.30 178.75,225.30 178.88,225.30 179.00,225.30 179.12,225.30 179.25,225.30 179.38,225.30 179.50,225.30 179.62,225.30 179.75,225.30 179.88,225.30 180.00,225.30 180.12,225.30 180.25,225.30 180.38,225.30 180.50,225.30 180.62,225.30 180.75,225.30 180.88,225.30 181.00,225.30 181.12,225.30 181.25,225.30 181.38,225.30 181.50,225.30 181.62,225.30 181.75,225.30 181.88,225.30 182.00,225.30 182.12,225.30 182.25,225.30 182.38,225.30 182.50,225.30 182.62,225.30 182.75,225.30 182.88,225.30 183.00,225.30 183.12,225.30 183.25,225.30 183.38,225.30 183.50,225.30 183.62,225.30 183.75,225.30 183.88,225.30 184.00,225.30 184.12,225.30 184.25,225.30 184.38,225.30 184.50,225.30 184.62,225.30 184.75,225.30 184.88,225.30 185.00,225.30 185.12,225.30 185.25,225.30 185.38,225.30 185.50,225.30 185.62,225.30 185.75,225.30 185.88,225.30 186.00,225.30 186.12,225.30 186.25,225.30 186.38,225.30 186.50,225.30 186.62,225.30 186.75,225.30 186.88,225.30 187.00,225.30 187.12,225.30 187.25,225.30 187.38,225.30 187.50,225.30 187.62,225.30 187.75,225.30 187.88,225.30 188.00,225.30 188.12,225.30 188.25,225.30 188.38,225.30 188.50,225.30 188.62,225.30 188.75,225.30 188.88,225.30 189.00,225.30 189.12,225.30 189.25,225.30 189.38,225.30 189.50,225.30 189.62,225.30 189.75,225.30 189.88,225.30 190.00,225.30 190.12,225.30 190.25,225.30 190.38,225.30 190.50,225.30 190.62,225.30 190.75,225.30 190.88,225.30 191.00,225.30 191.12,225.30 191.25,225.30 191.38,225.30 191.50,225.30 191.62,225.30 191.75,225.30 191.88,225.30 192.00,225.30 192.12,225.30 192.25,225.30 192.38,225.30 192.50,225.30 192.62,225.30 192.75,225.30 192.88,225.30 193.00,225.30 193.12,225.30 193.25,225.30 193.38,225.30 193.50,225.30 193.62,225.30 193.75,225.30 193.88,225.30 194.00,225.30 194.12,225.30 194.25,225.30 194.38,225.30 194.50,225.30 194.62,225.30 194.75,225.30 194.88,225.30 195.00,225.30 195.12,225.30 195.25,225.30 195.38,225.30 195.50,225.30 195.62,225.30 195.75,225.30 195.88,225.30 196.00,225.30 196.12,225.30 196.25,225.30 196.38,225.30 196.50,225.30 196.62,225.30 196.75,225.30 196.88,225.30 197.00,225.30 197.12,225.30 197.25,225.30 197.38,225.30 197.50,225.30 197.62,225.30 197.75,225.30 197.88,225.30 198.00,225.30 198.12,225.30 198.25,225.30 198.38,225.30 198.50,225.30 198.62,225.30 198.75,225.30 198.88,225.30 199.00,225.30 199.12,225.30 199.25,225.30 199.38,225.30 199.50,225.30 199.62,225.30 199.75,225.30 199.88,225.30 200.00,225.30 200.12,225.30 200.25,225.30 200.38,225.30 200.50,225.30 200.62,225.30 200.75,225.30 200.88,225.30 201.00,225.30 201.13,225.30 201.25,225.30 201.38,225.30 201.50,225.30 201.62,225.30 201.75,225.30 201.88,225.30 202.00,225.30 202.12,225.30 202.25,225.30 202.38,225.30 202.50,225.30 202.62,225.30 202.75,225.30 202.88,225.30 203.00,225.30 203.12,225.30 203.25,225.30 203.38,225.30 203.50,225.30 203.63,225.30 203.75,225.30 203.88,225.30 204.00,225.30 204.12,225.30 204.25,225.30 204.38,225.30 204.50,225.30 204.62,225.30 204.75,225.30 204.88,225.30 205.00,225.30 205.12,225.30 205.25,225.30 205.38,225.30 205.50,225.30 205.62,225.30 205.75,225.30 205.88,225.30 206.00,225.30 206.13,225.30 206.25,225.30 206.38,225.30 206.50,225.30 206.62,225.30 206.75,225.30 206.88,225.30 207.00,225.30 207.12,225.30 207.25,225.30 207.38,225.30 207.50,225.30 207.62,225.30 207.75,225.30 207.88,225.30 208.00,225.30 208.12,225.30 208.25,225.30 208.38,225.30 208.50,225.30 208.63,225.30 208.75,225.30 208.88,225.30 209.00,225.30 209.12,225.30 209.25,225.30 209.38,225.30 209.50,225.30 209.62,225.30 209.75,225.30 209.88,225.30 210.00,225.30 210.12,225.30 210.25,225.30 210.38,225.30 210.50,225.30 210.62,225.30 210.75,225.30 210.88,225.30 211.00,225.30 211.13,225.30 211.25,225.30 211.38,225.30 211.50,225.30 211.62,225.30 211.75,225.30 211.88,225.30 212.00,225.30 212.12,225.30 212.25,225.30 212.38,225.30 212.50,225.30 212.62,225.30 212.75,225.30 212.88,225.30 213.00,225.30 213.12,225.30 213.25,225.30 213.38,225.30 213.50,225.30 213.63,225.30 213.75,225.30 213.88,225.30 214.00,225.30 214.12,225.30 214.25,225.30 214.38,225.30 214.50,225.30 214.62,225.30 214.75,225.30 214.88,225.30 215.00,225.30 215.12,225.30 215.25,225.30 215.38,225.30 215.50,225.30 215.62,225.30 215.75,225.30 215.88,225.30 216.00,225.30 216.13,225.30 216.25,225.30 216.38,225.30 216.50,225.30 216.62,225.30 216.75,225.30 216.88,225.30 217.00,225.30 217.12,225.30 217.25,225.30 217.38,225.30 217.50,225.30 217.62,225.30 217.75,225.30 217.88,225.30 218.00,225.30 218.12,225.30 218.25,225.30 218.38,225.30 218.50,225.30 218.63,225.30 218.75,225.30 218.88,225.30 219.00,225.30 219.12,225.30 219.25,225.30 219.38,225.30 219.50,225.30 219.62,225.30 219.75,225.30 219.88,225.30 220.00,225.30 220.12,225.30 220.25,225.30 220.38,225.30 220.50,225.30 220.62,225.30 220.75,225.30 220.88,225.30 221.00,225.30 221.13,225.30 221.25,225.30 221.38,225.30 221.50,225.30 221.62,225.30 221.75,225.30 221.88,225.30 222.00,225.30 222.12,225.30 222.25,225.30 222.38,225.30 222.50,225.30 222.62,225.30 222.75,225.30 222.88,225.30 223.00,225.30 223.12,225.30 223.25,225.30 223.38,225.30 223.50,225.30 223.63,225.30 223.75,225.30 223.88,225.30 224.00,225.30 224.12,225.30 224.25,225.30 224.38,225.30 224.50,225.30 224.62,225.30 224.75,225.30 224.88,225.30 225.00,225.30 225.12,225.30 225.25,225.30 225.38,225.30 225.50,225.30 225.62,225.30 225.75,225.30 225.88,225.30 226.00,225.30 226.13,225.30 226.25,225.30 226.38,225.30 226.50,225.30 226.62,225.30 226.75,225.30 226.88,225.30 227.00,225.30 227.12,225.30 227.25,225.30 227.38,225.30 227.50,225.30 227.62,225.30 227.75,225.30 227.88,225.30 228.00,225.30 228.12,225.30 228.25,225.30 228.38,225.30 228.50,225.30 228.63,225.30 228.75,225.30 228.88,225.30 229.00,225.30 229.12,225.30 229.25,225.30 229.38,225.30 229.50,225.30 229.62,225.30 229.75,225.30 229.88,225.30 230.00,225.30 230.12,225.30 230.25,225.30 230.38,225.30 230.50,225.30 230.62,225.30 230.75,225.30 230.88,225.30 231.00,225.30 231.13,225.30 231.25,225.30 231.38,225.30 231.50,225.30 231.62,225.30 231.75,225.30 231.88,225.30 232.00,225.30 232.12,225.30 232.25,225.30 232.38,225.30 232.50,225.30 232.62,225.30 232.75,225.30 232.88,225.30 233.00,225.30 233.12,225.30 233.25,225.30 233.38,225.30 233.50,225.30 233.63,225.30 233.75,225.30 233.88,225.30 234.00,225.30 234.13,225.30 234.25,225.30 234.38,225.30 234.50,225.30 234.62,225.30 234.75,225.30 234.88,225.30 235.00,225.30 235.12,225.30 235.25,225.30 235.38,225.30 235.50,225.30 235.62,225.30 235.75,225.30 235.88,225.30 236.00,225.30 236.13,225.30 236.25,225.30 236.38,225.30 236.50,225.30 236.63,225.30 236.75,225.30 236.88,225.30 237.00,225.30 237.12,225.30 237.25,225.30 237.38,225.30 237.50,225.30 237.62,225.30 237.75,225.30 237.88,225.30 238.00,225.30 238.12,225.30 238.25,225.30 238.38,225.30 238.50,225.30 238.63,225.30 238.75,225.30 238.88,225.30 239.00,225.30 239.13,225.30 239.25,225.30 239.38,225.30 239.50,225.30 239.62,225.30 239.75,225.30 239.88,225.30 240.00,225.30 240.12,225.30 240.25,225.30 240.38,225.30 240.50,225.30 240.62,225.30 240.75,225.30 240.88,225.30 241.00,225.30 241.13,225.30 241.25,225.30 241.38,225.30 241.50,225.30 241.63,225.30 241.75,225.30 241.88,225.30 242.00,225.30 242.12,225.30 242.25,225.30 242.38,225.30 242.50,225.30 242.62,225.30 242.75,225.30 242.88,225.30 243.00,225.30 243.12,225.30 243.25,225.30 243.38,225.30 243.50,225.30 243.63,225.30 243.75,225.30 243.88,225.30 244.00,225.30 244.13,225.30 244.25,225.30 244.38,225.30 244.50,225.30 244.62,225.30 244.75,225.30 244.88,225.30 245.00,225.30 245.12,225.30 245.25,225.30 245.38,225.30 245.50,225.30 245.62,225.30 245.75,225.30 245.88,225.30 246.00,225.30 246.13,225.30 246.25,225.30 246.38,225.30 246.50,225.30 246.63,225.30 246.75,225.30 246.88,225.30 247.00,225.30 247.12,225.30 247.25,225.30 247.38,225.30 247.50,225.30 247.62,225.30 247.75,225.30 247.88,225.30 248.00,225.30 248.12,225.30 248.25,225.30 248.38,225.30 248.50,225.30 248.63,225.30 248.75,225.30 248.88,225.30 249.00,225.30 249.13,225.30 249.25,225.30 249.38,225.30 249.50,225.30 249.62,225.30 249.75,225.30 249.88,225.30 250.00,225.30 250.12,225.30 250.25,225.30 250.38,225.30 250.50,225.30 250.62,225.30 250.75,225.30 250.88,225.30 251.00,225.30 251.13,225.30 251.25,225.30 251.38,225.30 251.50,225.30 251.63,225.30 251.75,225.30 251.88,225.30 252.00,225.30 252.12,225.30 252.25,225.30 252.38,225.30 252.50,225.30 252.62,225.30 252.75,225.30 252.88,225.30 253.00,225.30 253.12,225.30 253.25,225.30 253.38,225.30 253.50,225.30 253.63,225.30 253.75,225.30 253.88,225.30 254.00,225.30 254.13,225.30 254.25,225.30 254.38,225.30 254.50,225.30 254.62,225.30 254.75,225.30 254.88,225.30 255.00,225.30 255.12,225.30 255.25,225.30 255.38,225.30 255.50,225.30 255.62,225.30 255.75,225.30 255.88,225.30 256.00,225.30 256.12,225.30 256.25,225.30 256.38,225.30 256.50,225.30 256.62,225.30 256.75,225.30 256.88,225.30 257.00,225.30 257.12,225.30 257.25,225.30 257.38,225.30 257.50,225.30 257.62,225.30 257.75,225.30 257.88,225.30 258.00,225.30 258.12,225.30 258.25,225.30 258.38,225.30 258.50,225.30 258.62,225.30 258.75,225.30 258.88,225.30 259.00,225.30 259.12,225.30 259.25,225.30 259.38,225.30 259.50,225.30 259.62,225.30 259.75,225.30 259.88,225.30 260.00,225.30 260.12,225.30 260.25,225.30 260.38,225.30 260.50,225.30 260.62,225.30 260.75,225.30 260.88,225.30 261.00,225.30 261.12,225.30 261.25,225.30 261.38,225.30 261.50,225.30 261.62,225.30 261.75,225.30 261.88,225.30 262.00,225.30 262.12,225.30 262.25,225.30 262.38,225.30 262.50,225.30 262.62,225.30 262.75,225.30 262.88,225.30 263.00,225.30 263.12,225.30 263.25,225.30 263.38,225.30 263.50,225.30 263.62,225.30 263.75,225.30 263.88,225.30 264.00,225.30 264.12,225.30 264.25,225.30 264.38,225.30 264.50,225.30 264.62,225.30 264.75,225.30 264.88,225.30 265.00,225.30 265.12,225.30 265.25,225.30 265.38,225.30 265.50,225.30 265.62,225.30 265.75,225.30 265.88,225.30 266.00,225.30 266.12,225.30 266.25,225.30 266.38,225.30 266.50,225.30 266.62,225.30 266.75,225.30 266.88,225.30 267.00,225.30 267.12,225.30 267.25,225.30 267.38,225.30 267.50,225.30 267.62,225.30 267.75,225.30 267.88,225.30 268.00,225.30 268.12,225.30 268.25,225.30 268.38,225.30 268.50,225.30 268.62,225.30 268.75,225.30 268.88,225.30 269.00,225.30 269.12,225.30 269.25,225.30 269.38,225.30 269.50,225.30 269.62,225.30 269.75,225.30 269.88,225.30 270.00,225.30 270.12,225.30 270.25,225.30 270.38,225.30 270.50,225.30 270.62,225.30 270.75,225.30 270.88,225.30 271.00,225.30 271.12,225.30 271.25,225.30 271.38,225.30 271.50,225.30 271.62,225.30 271.75,225.30 271.88,225.30 272.00,225.30 272.12,225.30 272.25,225.30 272.38,225.30 272.50,225.30 272.62,225.30 272.75,225.30 272.88,225.30 273.00,225.30 273.12,225.30 273.25,225.30 273.38,225.30 273.50,225.30 273.62,225.30 273.75,225.30 273.88,225.30 274.00,225.30 274.12,225.30 274.25,225.30 274.38,225.30 274.50,225.30 274.62,225.30 274.75,225.30 274.88,225.30 275.00,225.30 275.12,225.30 275.25,225.30 275.38,225.30 275.50,225.30 275.62,225.30 275.75,225.30 275.88,225.30 276.00,225.30 276.12,225.30 276.25,225.30 276.38,225.30 276.50,225.30 276.62,225.30 276.75,225.30 276.88,225.30 277.00,225.30 277.12,225.30 277.25,225.30 277.38,225.30 277.50,225.30 277.62,225.30 277.75,225.30 277.88,225.30 278.00,225.30 278.12,225.30 278.25,225.30 278.38,225.30 278.50,225.30 278.62,225.30 278.75,225.30 278.88,225.30 279.00,225.30 279.12,225.30 279.25,225.30 279.38,225.30 279.50,225.30 279.62,225.30 279.75,225.30 279.88,225.30 280.00,225.30 280.12,225.30 280.25,225.30 280.38,225.30 280.50,225.30 280.62,225.30 280.75,225.30 280.88,225.30 281.00,225.30 281.12,225.30 281.25,225.30 281.38,225.30 281.50,225.30 281.62,225.30 281.75,225.30 281.88,225.30 282.00,225.30 282.12,225.30 282.25,225.30 282.38,225.30 282.50,225.30 282.62,225.30 282.75,225.30 282.88,225.30 283.00,225.30 283.12,225.30 283.25,225.30 283.38,225.30 283.50,225.30 283.62,225.30 283.75,225.30 283.88,225.30 284.00,225.30 284.12,225.30 284.25,225.30 284.38,225.30 284.50,225.30 284.62,225.30 284.75,225.30 284.88,225.30 285.00,225.30 285.12,225.30 285.25,225.30 285.38,225.30 285.50,225.30 285.62,225.30 285.75,225.30 285.88,225.30 286.00,225.30 286.12,225.30 286.25,225.30 286.38,225.30 286.50,225.30 286.62,225.30 286.75,225.30 286.88,225.30 287.00,225.30 287.12,225.30 287.25,225.30 287.38,225.30 287.50,225.30 287.62,225.30 287.75,225.30 287.88,225.30 288.00,225.30 288.12,225.30 288.25,225.30 288.38,225.30 288.50,225.30 288.62,225.30 288.75,225.30 288.88,225.30 289.00,225.30 289.12,225.30 289.25,225.30 289.38,225.30 289.50,225.30 289.62,225.30 289.75,225.30 289.88,225.30 290.00,225.30 290.12,225.30 290.25,225.30 290.38,225.30 290.50,225.30 290.62,225.30 290.75,225.30 290.88,225.30 291.00,225.30 291.12,225.30 291.25,225.30 291.38,225.30 291.50,225.30 291.62,225.30 291.75,225.30 291.88,225.30 292.00,225.30 292.12,225.30 292.25,225.30 292.38,225.30 292.50,225.30 292.62,225.30 292.75,225.30 292.88,225.30 293.00,225.30 293.12,225.30 293.25,225.30 293.38,225.30 293.50,225.30 293.62,225.30 293.75,225.30 293.88,225.30 294.00,225.30 294.12,225.30 294.25,225.30 294.38,225.30 294.50,225.30 294.62,225.30 294.75,225.30 294.88,225.30 295.00,225.30 295.12,225.30 295.25,225.30 295.38,225.30 295.50,225.30 295.62,225.30 295.75,225.30 295.88,225.30 296.00,225.30 296.12,225.30 296.25,225.30 296.38,225.30 296.50,225.30" stroke="#5577d6" stroke-width="1" stroke-dasharray="3,2"/>
</g>
<g transform="translate(353,0)" fill="none" stroke-linejoin="round">
<polyline points="40.25,214.96 40.38,214.34 40.50,214.70 40.62,213.37 40.75,215.82 40.88,216.56 41.00,214.84 41.12,214.12 41.25,215.72 41.38,215.29 41.50,215.90 41.62,216.47 41.75,215.98 41.88,217.22 42.00,215.05 42.12,214.87 42.25,214.48 42.38,216.07 42.50,215.90 42.62,216.87 42.75,216.66 42.88,214.48 43.00,212.68 43.12,216.29 43.25,215.67 43.38,214.44 43.50,215.95 43.62,214.77 43.75,215.59 43.88,215.59 44.00,214.47 44.12,215.54 44.25,216.49 44.38,214.54 44.50,215.28 44.62,215.82 44.75,216.05 44.88,214.77 45.00,215.98 45.12,215.19 45.25,214.37 45.38,215.41 45.50,214.29 45.62,216.59 45.75,214.74 45.88,214.81 46.00,213.56 46.12,215.28 46.25,214.47 46.38,215.45 46.50,216.29 46.62,216.12 46.75,215.96 46.88,214.58 47.00,216.03 47.12,215.26 47.25,214.46 47.38,214.14 47.50,214.43 47.62,213.91 47.75,216.35 47.88,215.75 48.00,215.00 48.12,214.26 48.25,214.83 48.38,216.00 48.50,215.47 48.62,216.82 48.75,214.54 48.88,216.95 49.00,215.08 49.12,214.28 49.25,214.44 49.38,216.78 49.50,215.08 49.62,215.60 49.75,215.55 49.88,213.74 50.00,215.00 50.12,216.60 50.25,216.26 50.38,214.60 50.50,215.04 50.62,216.30 50.75,216.80 50.88,215.76 51.00,215.65 51.12,214.47 51.25,215.80 51.38,214.60 51.50,214.09 51.62,216.70 51.75,215.75 51.88,213.75 52.00,215.60 52.12,215.19 52.25,214.27 52.38,215.87 52.50,215.54 52.62,216.68 52.75,214.62 52.88,215.58 53.00,215.45 53.12,217.49 53.25,214.18 53.38,214.43 53.50,215.80 53.62,213.90 53.75,217.30 53.88,215.07 54.00,216.56 54.12,212.44 54.25,217.39 54.38,216.07 54.50,215.62 54.62,214.15 54.75,214.10 54.88,214.49 55.00,215.06 55.12,212.81 55.25,215.45 55.38,214.46 55.50,213.10 55.62,215.85 55.75,215.43 55.88,213.62 56.00,214.20 56.12,215.82 56.25,214.54 56.38,212.75 56.50,214.75 56.62,213.73 56.75,214.34 56.88,215.07 57.00,212.90 57.12,213.47 57.25,213.23 57.38,214.46 57.50,214.20 57.62,214.06 57.75,213.83 57.88,214.54 58.00,214.66 58.12,212.95 58.25,215.18 58.38,214.54 58.50,214.46 58.62,214.57 58.75,215.20 58.88,214.78 59.00,213.30 59.12,214.37 59.25,214.71 59.38,212.45 59.50,215.24 59.62,213.02 59.75,213.65 59.88,215.24 60.00,214.35 60.12,214.33 60.25,212.76 60.38,213.12 60.50,214.23 60.62,215.08 60.75,215.56 60.88,214.15 61.00,215.31 61.12,214.18 61.25,214.21 61.38,213.68 61.50,213.12 61.62,213.96 61.75,213.64 61.88,214.26 62.00,213.15 62.12,213.38 62.25,212.67 62.38,212.90 62.50,214.89 62.62,215.59 62.75,213.65 62.88,213.21 63.00,214.93 63.12,212.93 63.25,214.27 63.38,214.47 63.50,214.08 63.62,215.76 63.75,216.01 63.88,214.83 64.00,215.63 64.12,214.59 64.25,214.60 64.38,217.03 64.50,215.41 64.62,214.20 64.75,216.89 64.88,215.07 65.00,216.04 65.12,216.64 65.25,213.80 65.38,213.86 65.50,215.28 65.62,215.38 65.75,213.65 65.88,213.85 66.00,215.00 66.12,214.20 66.25,214.94 66.38,215.35 66.50,214.50 66.62,215.49 66.75,214.57 66.88,215.36 67.00,215.58 67.12,215.70 67.25,214.76 67.38,214.33 67.50,214.82 67.62,216.04 67.75,214.67 67.88,216.09 68.00,216.32 68.12,215.47 68.25,214.54 68.38,214.66 68.50,214.79 68.62,214.03 68.75,214.52 68.88,215.66 69.00,214.61 69.12,215.59 69.25,214.98 69.38,214.80 69.50,215.42 69.62,216.74 69.75,215.49 69.88,215.65 70.00,215.46 70.12,215.76 70.25,216.41 70.38,216.86 70.50,214.76 70.62,214.64 70.75,215.03 70.88,215.42 71.00,213.57 71.12,214.76 71.25,215.36 71.38,214.61 71.50,215.45 71.62,214.73 71.75,215.12 71.88,214.89 72.00,215.33 72.12,215.80 72.25,214.92 72.38,214.35 72.50,216.23 72.62,215.88 72.75,216.39 72.88,214.58 73.00,215.59 73.12,214.57 73.25,216.12 73.38,214.63 73.50,215.92 73.62,215.82 73.75,214.90 73.88,215.75 74.00,215.94 74.12,214.57 74.25,215.46 74.38,214.25 74.50,213.07 74.62,215.92 74.75,215.71 74.88,216.80 75.00,216.49 75.12,214.85 75.25,215.13 75.38,215.15 75.50,214.99 75.62,216.19 75.75,216.96 75.88,214.42 76.00,215.19 76.12,214.37 76.25,215.45 76.38,214.72 76.50,215.90 76.62,215.43 76.75,215.57 76.88,215.08 77.00,214.14 77.12,214.83 77.25,218.09 77.38,215.53 77.50,215.42 77.62,214.69 77.75,215.31 77.88,216.08 78.00,216.16 78.12,215.75 78.25,216.09 78.38,214.14 78.50,214.89 78.62,215.40 78.75,214.56 78.88,213.47 79.00,215.64 79.12,215.48 79.25,215.73 79.38,216.59 79.50,216.04 79.62,216.32 79.75,215.02 79.88,215.05 80.00,214.66 80.12,216.18 80.25,214.56 80.38,216.37 80.50,215.64 80.62,214.29 80.75,214.34 80.88,214.48 81.00,213.54 81.12,214.52 81.25,215.71 81.38,215.68 81.50,216.19 81.62,215.27 81.75,216.18 81.88,216.06 82.00,216.39 82.12,217.04 82.25,213.21 82.38,214.67 82.50,217.40 82.62,215.09 82.75,216.01 82.88,217.47 83.00,215.70 83.12,215.31 83.25,214.98 83.38,214.49 83.50,216.29 83.62,215.56 83.75,214.90 83.88,215.02 84.00,215.16 84.12,215.43 84.25,214.39 84.38,216.68 84.50,216.90 84.62,213.93 84.75,215.14 84.88,214.51 85.00,215.32 85.12,215.87 85.25,215.96 85.38,215.41 85.50,215.97 85.62,215.60 85.75,215.61 85.88,214.79 86.00,214.81 86.12,214.07 86.25,216.19 86.38,215.58 86.50,214.66 86.62,215.22 86.75,217.78 86.88,215.21 87.00,215.55 87.12,215.98 87.25,215.92 87.38,216.20 87.50,214.47 87.62,214.91 87.75,215.35 87.88,214.52 88.00,214.69 88.12,216.30 88.25,216.51 88.38,216.47 88.50,214.86 88.62,215.56 88.75,214.43 88.88,215.07 89.00,215.73 89.12,216.70 89.25,215.79 89.38,213.50 89.50,216.18 89.62,216.30 89.75,215.75 89.88,214.31 90.00,215.59 90.12,216.57 90.25,216.12 90.38,215.69 90.50,215.49 90.62,214.64 90.75,213.29 90.88,214.33 91.00,215.00 91.12,215.60 91.25,216.32 91.38,215.06 91.50,214.42 91.62,214.84 91.75,215.71 91.88,214.99 92.00,215.80 92.12,215.75 92.25,215.82 92.38,215.55 92.50,215.69 92.62,214.70 92.75,215.63 92.88,215.72 93.00,214.69 93.12,215.01 93.25,214.62 93.38,216.34 93.50,214.46 93.62,215.67 93.75,216.62 93.88,215.81 94.00,216.80 94.12,216.59 94.25,216.06 94.38,214.83 94.50,216.92 94.62,215.44 94.75,215.95 94.88,214.30 95.00,215.54 95.12,215.18 95.25,214.45 95.38,216.72 95.50,216.04 95.62,217.09 95.75,216.51 95.88,215.46 96.00,215.91 96.12,215.39 96.25,216.13 96.38,216.40 96.50,215.90 96.62,216.58 96.75,216.80 96.88,217.24 97.00,215.92 97.12,215.42 97.25,216.93 97.38,216.26 97.50,217.92 97.62,216.93 97.75,215.81 97.88,217.05 98.00,215.49 98.12,216.25 98.25,215.56 98.38,216.40 98.50,217.19 98.62,215.93 98.75,215.26 98.88,216.39 99.00,215.57 99.12,216.56 99.25,216.24 99.38,214.81 99.50,215.96 99.62,216.78 99.75,215.45 99.88,215.90 100.00,216.42 100.12,215.33 100.25,218.57 100.38,215.44 100.50,214.25 100.62,215.69 100.75,217.66 100.88,214.74 101.00,213.70 101.12,215.45 101.25,216.92 101.38,216.57 101.50,216.09 101.62,215.80 101.75,214.92 101.88,215.47 102.00,218.00 102.12,216.25 102.25,216.11 102.38,214.31 102.50,216.51 102.62,217.24 102.75,216.27 102.88,215.75 103.00,217.65 103.12,215.02 103.25,216.12 103.38,215.26 103.50,215.39 103.62,215.53 103.75,214.75 103.88,214.51 104.00,216.38 104.12,216.08 104.25,215.08 104.38,215.88 104.50,216.56 104.62,215.94 104.75,216.80 104.88,216.48 105.00,219.13 105.12,215.91 105.25,214.38 105.38,215.38 105.50,215.41 105.62,215.87 105.75,216.73 105.88,215.59 106.00,215.99 106.12,216.17 106.25,215.83 106.38,216.56 106.50,215.93 106.62,215.46 106.75,215.15 106.88,215.93 107.00,215.32 107.12,215.90 107.25,218.11 107.38,217.82 107.50,216.25 107.62,217.08 107.75,215.56 107.88,217.27 108.00,216.45 108.12,216.58 108.25,216.76 108.38,216.62 108.50,216.11 108.62,216.01 108.75,216.57 108.88,215.94 109.00,215.61 109.12,216.28 109.25,216.73 109.38,216.72 109.50,216.54 109.62,216.59 109.75,216.04 109.88,213.68 110.00,215.10 110.12,216.08 110.25,215.58 110.38,215.58 110.50,214.97 110.62,214.83 110.75,216.99 110.88,214.10 111.00,216.89 111.12,216.03 111.25,216.87 111.38,217.66 111.50,217.74 111.62,214.33 111.75,214.77 111.88,217.01 112.00,217.13 112.12,214.77 112.25,217.00 112.38,215.71 112.50,214.28 112.62,215.44 112.75,214.78 112.88,215.93 113.00,217.68 113.12,216.88 113.25,217.76 113.38,215.85 113.50,217.34 113.62,216.04 113.75,216.61 113.88,216.79 114.00,215.70 114.12,216.60 114.25,216.93 114.38,215.27 114.50,216.21 114.62,217.53 114.75,215.10 114.88,217.48 115.00,215.98 115.12,215.72 115.25,216.44 115.38,216.96 115.50,216.50 115.62,216.53 115.75,217.22 115.88,215.43 116.00,216.77 116.12,216.88 116.25,214.97 116.38,216.90 116.50,217.62 116.62,216.29 116.75,216.22 116.88,216.20 117.00,214.33 117.12,216.75 117.25,215.01 117.38,215.43 117.50,214.91 117.62,216.32 117.75,216.52 117.88,216.42 118.00,215.95 118.12,215.35 118.25,214.72 118.38,217.85 118.50,215.25 118.62,215.89 118.75,216.19 118.88,217.18 119.00,215.92 119.12,217.90 119.25,215.09 119.38,217.09 119.50,216.34 119.62,216.39 119.75,215.71 119.88,217.46 120.00,215.48 120.12,215.86 120.25,214.82 120.38,215.97 120.50,216.36 120.62,217.98 120.75,216.59 120.88,214.74 121.00,216.67 121.12,216.71 121.25,216.38 121.38,215.47 121.50,217.87 121.63,214.60 121.75,215.72 121.88,215.60 122.00,216.27 122.12,214.45 122.25,216.66 122.38,215.51 122.50,216.17 122.62,217.42 122.75,216.39 122.88,215.61 123.00,216.52 123.12,216.64 123.25,216.28 123.38,217.06 123.50,217.29 123.62,216.20 123.75,217.13 123.88,215.75 124.00,215.62 124.13,215.09 124.25,215.38 124.38,216.53 124.50,215.89 124.62,217.33 124.75,215.88 124.88,216.73 125.00,215.03 125.12,216.92 125.25,216.12 125.38,216.98 125.50,215.71 125.62,215.70 125.75,217.20 125.88,214.48 126.00,215.83 126.12,217.58 126.25,217.11 126.38,217.96 126.50,218.12 126.63,216.42 126.75,218.20 126.88,215.94 127.00,217.79 127.12,216.64 127.25,214.72 127.38,216.62 127.50,216.32 127.62,215.15 127.75,216.58 127.88,215.80 128.00,217.04 128.12,216.64 128.25,216.18 128.38,216.29 128.50,217.01 128.62,216.11 128.75,215.76 128.88,215.74 129.00,216.30 129.12,217.20 129.25,215.72 129.38,215.57 129.50,217.26 129.62,218.47 129.75,216.52 129.88,215.38 130.00,215.44 130.12,217.15 130.25,214.52 130.38,215.95 130.50,213.20 130.62,212.64 130.75,208.50 130.88,204.57 131.00,198.91 131.12,189.30 131.25,179.06 131.38,164.45 131.50,147.46 131.62,129.14 131.75,107.98 131.88,89.29 132.00,74.03 132.12,63.00 132.25,55.20 132.38,54.69 132.50,58.70 132.62,66.42 132.75,73.29 132.88,75.12 133.00,76.43 133.12,75.02 133.25,80.87 133.38,93.96 133.50,118.18 133.62,146.70 133.75,172.30 133.88,193.18 134.00,204.59 134.12,211.88 134.25,214.99 134.38,217.52 134.50,215.85 134.62,215.65 134.75,216.87 134.88,216.05 135.00,216.49 135.12,214.27 135.25,213.85 135.38,211.24 135.50,210.34 135.62,208.32 135.75,208.39 135.88,208.18 136.00,206.03 136.12,206.24 136.25,204.19 136.38,206.20 136.50,205.93 136.62,207.74 136.75,209.50 136.88,211.44 137.00,210.84 137.12,210.33 137.25,210.77 137.38,210.21 137.50,209.71 137.62,210.63 137.75,208.62 137.88,209.30 138.00,208.54 138.12,207.50 138.25,211.10 138.38,210.34 138.50,210.77 138.62,211.18 138.75,213.18 138.88,215.00 139.00,214.39 139.12,215.30 139.25,218.00 139.38,216.74 139.50,218.66 139.62,219.71 139.75,218.34 139.88,218.36 140.00,219.50 140.12,215.86 140.25,218.79 140.38,217.24 140.50,216.92 140.62,215.58 140.75,217.89 140.88,216.09 141.00,218.61 141.12,217.59 141.25,217.93 141.38,218.47 141.50,217.24 141.62,215.79 141.75,215.60 141.88,216.92 142.00,218.59 142.12,218.29 142.25,216.98 142.38,217.01 142.50,217.02 142.62,217.79 142.75,218.38 142.88,217.12 143.00,217.56 143.12,216.23 143.25,218.18 143.38,216.75 143.50,216.28 143.62,215.71 143.75,215.72 143.88,218.48 144.00,218.62 144.12,217.39 144.25,218.33 144.38,219.73 144.50,216.16 144.62,217.07 144.75,216.57 144.88,217.35 145.00,216.44 145.12,217.28 145.25,217.39 145.38,215.74 145.50,218.59 145.62,217.02 145.75,218.99 145.88,216.13 146.00,217.73 146.12,218.64 146.25,219.21 146.38,217.73 146.50,215.69 146.62,217.06 146.75,218.97 146.88,219.42 147.00,214.89 147.12,218.06 147.25,218.90 147.38,217.40 147.50,216.99 147.62,216.06 147.75,217.72 147.88,218.20 148.00,216.90 148.12,218.29 148.25,217.20 148.38,217.37 148.50,216.62 148.62,218.19 148.75,218.17 148.88,217.27 149.00,217.10 149.12,218.91 149.25,218.30 149.38,217.38 149.50,217.89 149.62,215.41 149.75,216.87 149.88,216.37 150.00,217.62 150.12,217.46 150.25,217.43 150.38,216.55 150.50,217.85 150.62,216.07 150.75,218.23 150.88,216.61 151.00,217.29 151.12,217.88 151.25,216.06 151.38,216.62 151.50,217.71 151.62,218.26 151.75,216.76 151.88,218.29 152.00,217.03 152.12,218.38 152.25,217.44 152.38,218.35 152.50,217.72 152.62,215.99 152.75,215.91 152.88,217.98 153.00,217.79 153.12,219.10 153.25,217.26 153.38,216.48 153.50,218.33 153.62,218.39 153.75,217.21 153.88,218.07 154.00,217.36 154.12,216.09 154.25,217.10 154.38,216.90 154.50,215.77 154.62,217.30 154.75,216.88 154.88,217.47 155.00,218.24 155.12,216.03 155.25,218.83 155.38,217.45 155.50,218.61 155.62,218.30 155.75,218.73 155.88,217.77 156.00,217.09 156.12,216.31 156.25,219.29 156.38,217.32 156.50,217.90 156.62,218.11 156.75,217.64 156.88,217.34 157.00,217.63 157.12,217.52 157.25,215.49 157.38,217.43 157.50,217.21 157.62,218.59 157.75,216.51 157.88,218.01 158.00,217.61 158.12,218.24 158.25,217.61 158.38,218.39 158.50,218.73 158.62,218.82 158.75,217.88 158.88,217.51 159.00,216.85 159.12,215.98 159.25,215.79 159.38,218.11 159.50,218.18 159.62,216.82 159.75,218.34 159.88,216.47 160.00,216.54 160.12,218.40 160.25,216.81 160.38,216.17 160.50,217.08 160.62,217.76 160.75,217.65 160.88,217.05 161.00,218.17 161.12,217.17 161.25,217.70 161.38,218.17 161.50,218.39 161.62,216.97 161.75,218.32 161.88,217.28 162.00,219.19 162.12,217.67 162.25,217.38 162.38,217.16 162.50,216.61 162.62,217.00 162.75,216.96 162.88,217.73 163.00,218.44 163.12,218.56 163.25,218.19 163.38,217.26 163.50,216.55 163.62,217.16 163.75,217.29 163.88,216.78 164.00,217.78 164.12,217.32 164.25,217.58 164.38,217.29 164.50,217.68 164.62,218.67 164.75,217.83 164.88,218.23 165.00,215.89 165.12,216.16 165.25,218.06 165.38,218.28 165.50,217.47 165.62,218.87 165.75,216.34 165.88,217.54 166.00,217.93 166.12,216.53 166.25,216.31 166.38,217.36 166.50,216.57 166.62,219.03 166.75,218.20 166.88,218.28 167.00,219.00 167.12,216.71 167.25,215.30 167.38,218.72 167.50,218.03 167.62,216.53 167.75,217.78 167.88,217.52 168.00,218.25 168.12,217.21 168.25,218.41 168.38,216.82 168.50,217.04 168.62,217.17 168.75,218.22 168.88,217.72 169.00,217.09 169.12,218.34 169.25,218.42 169.38,219.61 169.50,218.02 169.62,217.66 169.75,216.65 169.88,218.63 170.00,218.86 170.12,216.42 170.25,216.52 170.38,218.57 170.50,217.99 170.62,219.21 170.75,217.59 170.88,216.34 171.00,216.80 171.12,218.50 171.25,217.27 171.38,218.19 171.50,217.24 171.62,218.03 171.75,216.95 171.88,216.37 172.00,217.23 172.12,217.19 172.25,217.16 172.38,216.72 172.50,217.90 172.62,217.68 172.75,217.66 172.88,216.31 173.00,217.37 173.12,217.00 173.25,217.85 173.38,218.76 173.50,217.80 173.62,217.08 173.75,217.80 173.88,218.04 174.00,217.86 174.12,217.04 174.25,217.12 174.38,217.51 174.50,218.38 174.62,218.14 174.75,214.21 174.88,217.67 175.00,216.95 175.12,217.24 175.25,218.78 175.38,216.30 175.50,217.44 175.62,218.34 175.75,216.82 175.88,218.04 176.00,217.23 176.12,218.73 176.25,217.68 176.38,216.91 176.50,217.97 176.62,218.81 176.75,218.27 176.88,216.91 177.00,218.98 177.12,218.80 177.25,216.82 177.38,217.42 177.50,217.57 177.62,217.94 177.75,217.17 177.88,216.77 178.00,217.12 178.12,219.13 178.25,216.95 178.38,219.04 178.50,215.96 178.62,217.94 178.75,216.98 178.88,217.23 179.00,218.12 179.12,216.43 179.25,217.32 179.38,215.58 179.50,216.91 179.62,217.21 179.75,215.21 179.88,216.23 180.00,217.48 180.12,218.23 180.25,215.73 180.38,216.36 180.50,216.36 180.62,217.78 180.75,218.04 180.88,218.30 181.00,216.43 181.12,217.62 181.25,216.88 181.38,219.48 181.50,216.54 181.62,218.15 181.75,219.99 181.88,218.67 182.00,217.12 182.12,216.10 182.25,220.04 182.38,218.77 182.50,217.39 182.62,218.95 182.75,217.92 182.88,218.48 183.00,217.45 183.12,218.91 183.25,217.86 183.38,218.33 183.50,217.43 183.62,217.61 183.75,216.62 183.88,217.33 184.00,215.92 184.12,219.03 184.25,217.78 184.38,216.83 184.50,217.44 184.62,219.98 184.75,217.24 184.88,217.99 185.00,215.26 185.12,217.63 185.25,216.90 185.38,218.42 185.50,216.89 185.62,220.12 185.75,218.48 185.88,217.89 186.00,219.02 186.12,216.62 186.25,217.52 186.38,215.99 186.50,218.85 186.62,218.30 186.75,216.92 186.88,218.00 187.00,216.75 187.12,216.92 187.25,218.22 187.38,217.41 187.50,217.02 187.62,217.29 187.75,217.71 187.88,217.97 188.00,217.73 188.12,216.60 188.25,215.59 188.38,218.84 188.50,218.46 188.62,217.67 188.75,216.16 188.88,218.31 189.00,215.34 189.12,215.38 189.25,219.74 189.38,216.87 189.50,216.94 189.62,217.90 189.75,219.24 189.88,217.24 190.00,217.87 190.12,216.39 190.25,216.96 190.38,218.37 190.50,215.65 190.62,215.76 190.75,216.08 190.88,217.42 191.00,216.60 191.12,217.37 191.25,217.98 191.38,219.22 191.50,217.20 191.62,219.32 191.75,216.80 191.88,218.74 192.00,217.26 192.12,217.73 192.25,218.53 192.38,218.43 192.50,218.00 192.62,216.06 192.75,217.11 192.88,217.72 193.00,216.69 193.12,218.57 193.25,218.90 193.38,218.31 193.50,216.51 193.62,217.76 193.75,217.38 193.88,217.38 194.00,217.89 194.12,216.33 194.25,216.83 194.38,218.31 194.50,218.48 194.62,217.55 194.75,218.38 194.88,217.52 195.00,216.83 195.12,217.47 195.25,217.34 195.38,217.99 195.50,218.28 195.62,218.49 195.75,216.30 195.88,218.25 196.00,217.45 196.12,217.42 196.25,217.11 196.38,217.84 196.50,219.04 196.62,215.55 196.75,218.54 196.88,216.96 197.00,218.55 197.12,216.90 197.25,218.54 197.38,215.92 197.50,217.09 197.62,219.03 197.75,215.93 197.88,219.32 198.00,217.85 198.12,216.47 198.25,217.90 198.38,216.31 198.50,217.49 198.62,218.09 198.75,216.34 198.88,217.49 199.00,217.98 199.12,216.63 199.25,217.78 199.38,218.84 199.50,218.23 199.62,215.19 199.75,215.36 199.88,219.02 200.00,216.78 200.12,216.36 200.25,217.80 200.38,216.89 200.50,218.51 200.62,217.86 200.75,216.54 200.88,217.60 201.00,217.70 201.13,217.79 201.25,218.84 201.38,218.52 201.50,218.07 201.62,217.68 201.75,218.39 201.88,215.76 202.00,219.24 202.12,218.60 202.25,218.18 202.38,217.06 202.50,218.94 202.62,217.32 202.75,218.38 202.88,218.32 203.00,217.15 203.12,216.77 203.25,216.57 203.38,218.68 203.50,216.57 203.63,216.55 203.75,217.24 203.88,217.12 204.00,217.51 204.12,217.69 204.25,216.72 204.38,215.94 204.50,217.78 204.62,217.19 204.75,216.63 204.88,218.86 205.00,215.96 205.12,217.17 205.25,216.13 205.38,217.79 205.50,218.35 205.62,217.65 205.75,217.22 205.88,218.40 206.00,216.63 206.13,217.25 206.25,218.52 206.38,217.05 206.50,217.64 206.62,217.46 206.75,217.88 206.88,218.18 207.00,218.66 207.12,217.38 207.25,217.44 207.38,217.02 207.50,218.16 207.62,217.06 207.75,216.68 207.88,218.60 208.00,217.29 208.12,215.37 208.25,217.97 208.38,217.79 208.50,217.54 208.63,218.00 208.75,216.67 208.88,217.58 209.00,217.61 209.12,218.26 209.25,216.99 209.38,217.60 209.50,217.90 209.62,217.81 209.75,216.00 209.88,217.52 210.00,217.26 210.12,216.23 210.25,217.61 210.38,216.60 210.50,218.48 210.62,216.89 210.75,219.53 210.88,217.38 211.00,217.93 211.13,218.20 211.25,216.49 211.38,216.82 211.50,216.70 211.62,216.09 211.75,217.02 211.88,216.97 212.00,217.57 212.12,215.73 212.25,216.67 212.38,218.26 212.50,218.34 212.62,218.23 212.75,218.22 212.88,216.30 213.00,217.24 213.12,216.52 213.25,218.25 213.38,218.25 213.50,216.37 213.63,219.43 213.75,218.66 213.88,219.53 214.00,218.17 214.12,215.09 214.25,218.26 214.38,216.54 214.50,215.98 214.62,218.16 214.75,218.21 214.88,217.22 215.00,216.90 215.12,219.02 215.25,218.30 215.38,215.98 215.50,218.30 215.62,217.18 215.75,216.56 215.88,217.85 216.00,217.70 216.13,218.06 216.25,218.16 216.38,218.11 216.50,219.08 216.62,218.01 216.75,217.74 216.88,216.86 217.00,217.93 217.12,218.16 217.25,215.75 217.38,217.55 217.50,217.75 217.62,218.03 217.75,217.54 217.88,218.35 218.00,218.02 218.12,218.34 218.25,218.68 218.38,217.96 218.50,218.84 218.63,215.91 218.75,218.63 218.88,215.88 219.00,217.23 219.12,216.70 219.25,216.16 219.38,219.09 219.50,215.99 219.62,217.07 219.75,217.98 219.88,218.23 220.00,217.18 220.12,219.03 220.25,215.83 220.38,217.66 220.50,216.77 220.62,217.39 220.75,217.89 220.88,217.85 221.00,218.30 221.13,216.30 221.25,217.49 221.38,216.99 221.50,217.03 221.62,216.84 221.75,217.05 221.88,216.28 222.00,218.07 222.12,218.40 222.25,217.57 222.38,217.77 222.50,217.40 222.62,216.36 222.75,216.55 222.88,216.92 223.00,218.18 223.12,216.97 223.25,217.28 223.38,216.74 223.50,217.45 223.63,217.82 223.75,217.33 223.88,218.12 224.00,218.27 224.12,217.23 224.25,217.44 224.38,216.52 224.50,217.31 224.62,218.54 224.75,216.17 224.88,215.93 225.00,218.47 225.12,218.01 225.25,216.54 225.38,217.28 225.50,218.83 225.62,216.40 225.75,217.38 225.88,217.16 226.00,216.37 226.13,218.08 226.25,218.14 226.38,216.86 226.50,216.61 226.62,217.37 226.75,216.40 226.88,217.08 227.00,216.46 227.12,218.23 227.25,217.67 227.38,216.50 227.50,218.27 227.62,218.22 227.75,217.36 227.88,217.74 228.00,218.36 228.12,219.01 228.25,216.24 228.38,217.44 228.50,216.18 228.63,218.31 228.75,217.43 228.88,217.64 229.00,217.41 229.12,218.95 229.25,216.37 229.38,217.77 229.50,217.31 229.62,218.42 229.75,216.09 229.88,218.92 230.00,215.77 230.12,217.89 230.25,217.84 230.38,218.15 230.50,216.23 230.62,218.31 230.75,218.33 230.88,218.40 231.00,217.08 231.13,217.03 231.25,218.19 231.38,217.05 231.50,216.11 231.62,216.89 231.75,217.18 231.88,218.47 232.00,216.10 232.12,216.90 232.25,218.84 232.38,218.22 232.50,220.08 232.62,217.07 232.75,218.68 232.88,217.79 233.00,216.27 233.12,218.86 233.25,216.76 233.38,217.84 233.50,218.56 233.63,216.37 233.75,217.18 233.88,218.20 234.00,217.08 234.13,218.12 234.25,218.37 234.38,217.92 234.50,216.65 234.62,219.05 234.75,218.78 234.88,216.76 235.00,218.87 235.12,217.77 235.25,217.86 235.38,218.77 235.50,218.27 235.62,217.70 235.75,217.66 235.88,217.00 236.00,217.38 236.13,216.74 236.25,217.39 236.38,217.98 236.50,217.00 236.63,217.17 236.75,216.78 236.88,217.72 237.00,217.70 237.12,217.69 237.25,218.95 237.38,217.16 237.50,218.19 237.62,218.27 237.75,217.91 237.88,215.65 238.00,218.30 238.12,216.18 238.25,219.51 238.38,217.83 238.50,215.80 238.63,217.40 238.75,217.21 238.88,218.08 239.00,219.37 239.13,217.09 239.25,216.70 239.38,216.57 239.50,215.78 239.62,217.62 239.75,217.06 239.88,219.52 240.00,217.86 240.12,217.41 240.25,216.36 240.38,215.83 240.50,216.04 240.62,217.11 240.75,217.66 240.88,217.60 241.00,217.57 241.13,217.40 241.25,216.44 241.38,217.71 241.50,219.06 241.63,218.63 241.75,214.81 241.88,216.28 242.00,217.99 242.12,217.77 242.25,216.86 242.38,217.25 242.50,217.23 242.62,219.35 242.75,218.80 242.88,217.39 243.00,216.88 243.12,217.23 243.25,216.06 243.38,217.47 243.50,217.28 243.63,217.46 243.75,216.62 243.88,218.08 244.00,215.63 244.13,218.51 244.25,216.79 244.38,216.85 244.50,216.05 244.62,218.56 244.75,218.36 244.88,217.78 245.00,216.85 245.12,216.72 245.25,219.91 245.38,217.81 245.50,217.29 245.62,217.20 245.75,217.19 245.88,217.66 246.00,217.42 246.13,219.27 246.25,216.72 246.38,219.78 246.50,217.70 246.63,218.39 246.75,217.24 246.88,218.46 247.00,216.74 247.12,217.23 247.25,216.98 247.38,216.55 247.50,216.50 247.62,217.74 247.75,216.80 247.88,217.11 248.00,216.85 248.12,217.42 248.25,219.91 248.38,217.80 248.50,217.59 248.63,218.03 248.75,218.23 248.88,217.44 249.00,218.21 249.13,216.97 249.25,216.42 249.38,217.57 249.50,216.79 249.62,218.67 249.75,218.50 249.88,217.87 250.00,218.46 250.12,217.53 250.25,217.50 250.38,216.10 250.50,218.05 250.62,216.41 250.75,218.50 250.88,217.78 251.00,216.80 251.13,217.26 251.25,219.80 251.38,217.60 251.50,217.13 251.63,218.94 251.75,217.97 251.88,217.84 252.00,217.19 252.12,216.39 252.25,218.80 252.38,218.38 252.50,216.12 252.62,216.46 252.75,215.98 252.88,217.57 253.00,216.61 253.12,219.75 253.25,217.13 253.38,218.43 253.50,218.84 253.63,218.54 253.75,216.63 253.88,216.18 254.00,217.99 254.13,217.87 254.25,216.46 254.38,218.16 254.50,217.31 254.62,216.97 254.75,216.44 254.88,217.79 255.00,220.11 255.12,217.72 255.25,216.90 255.38,217.97 255.50,218.07 255.62,218.41 255.75,217.14 255.88,217.39 256.00,217.29 256.12,217.54 256.25,216.37 256.38,217.23 256.50,217.60 256.62,218.56 256.75,217.91 256.88,217.54 257.00,216.18 257.12,217.10 257.25,217.84 257.38,216.84 257.50,216.95 257.62,217.94 257.75,217.11 257.88,218.53 258.00,217.43 258.12,215.68 258.25,216.63 258.38,216.95 258.50,216.72 258.62,216.88 258.75,218.59 258.88,217.94 259.00,218.15 259.12,217.09 259.25,216.68 259.38,215.66 259.50,217.65 259.62,218.55 259.75,217.25 259.88,217.55 260.00,217.27 260.12,217.49 260.25,217.05 260.38,218.04 260.50,217.24 260.62,216.61 260.75,217.34 260.88,217.01 261.00,218.09 261.12,216.72 261.25,217.60 261.38,218.11 261.50,217.71 261.62,217.86 261.75,217.66 261.88,218.01 262.00,215.96 262.12,216.69 262.25,217.08 262.38,217.09 262.50,217.60 262.62,216.77 262.75,217.72 262.88,217.58 263.00,218.22 263.12,216.42 263.25,216.45 263.38,216.52 263.50,216.51 263.62,219.67 263.75,217.43 263.88,216.60 264.00,217.07 264.12,218.95 264.25,217.25 264.38,216.91 264.50,218.02 264.62,218.58 264.75,218.08 264.88,220.24 265.00,217.31 265.12,218.32 265.25,217.85 265.38,217.72 265.50,217.65 265.62,216.13 265.75,218.34 265.88,217.79 266.00,219.51 266.12,218.20 266.25,219.34 266.38,216.90 266.50,217.61 266.62,218.15 266.75,216.80 266.88,218.53 267.00,217.76 267.12,218.35 267.25,218.45 267.38,217.81 267.50,218.15 267.62,217.73 267.75,218.60 267.88,219.02 268.00,216.35 268.12,217.25 268.25,217.92 268.38,217.39 268.50,218.50 268.62,217.24 268.75,218.91 268.88,217.15 269.00,217.24 269.12,217.63 269.25,216.92 269.38,217.64 269.50,216.03 269.62,216.99 269.75,218.95 269.88,218.47 270.00,216.06 270.12,218.06 270.25,217.24 270.38,218.05 270.50,216.17 270.62,216.55 270.75,216.81 270.88,217.92 271.00,217.81 271.12,216.27 271.25,218.04 271.38,219.49 271.50,216.11 271.62,216.63 271.75,218.72 271.88,217.27 272.00,216.97 272.12,217.32 272.25,216.00 272.38,216.37 272.50,218.23 272.62,217.64 272.75,216.66 272.88,216.64 273.00,217.82 273.12,216.47 273.25,218.26 273.38,216.75 273.50,219.12 273.62,217.07 273.75,215.63 273.88,216.12 274.00,218.25 274.12,220.21 274.25,217.25 274.38,216.53 274.50,217.41 274.62,217.29 274.75,218.78 274.88,218.01 275.00,218.69 275.12,218.71 275.25,218.04 275.38,216.24 275.50,217.20 275.62,218.26 275.75,217.70 275.88,218.42 276.00,218.08 276.12,217.39 276.25,218.94 276.38,217.30 276.50,218.15 276.62,216.57 276.75,218.43 276.88,217.38 277.00,218.36 277.12,217.10 277.25,219.18 277.38,218.06 277.50,218.37 277.62,219.04 277.75,217.92 277.88,217.75 278.00,218.13 278.12,218.51 278.25,218.21 278.38,218.24 278.50,216.62 278.62,217.09 278.75,216.36 278.88,216.70 279.00,215.90 279.12,217.49 279.25,217.27 279.38,217.43 279.50,217.86 279.62,216.89 279.75,217.14 279.88,217.04 280.00,217.24 280.12,216.52 280.25,218.75 280.38,216.94 280.50,217.50 280.62,218.04 280.75,217.76 280.88,217.01 281.00,216.71 281.12,217.66 281.25,216.81 281.38,217.12 281.50,216.52 281.62,216.52 281.75,216.75 281.88,217.77 282.00,218.46 282.12,216.19 282.25,218.19 282.38,216.70 282.50,217.38 282.62,215.95 282.75,217.54 282.88,217.72 283.00,219.31 283.12,216.88 283.25,217.45 283.38,217.99 283.50,217.80 283.62,216.28 283.75,217.08 283.88,216.67 284.00,217.65 284.12,217.15 284.25,216.57 284.38,217.67 284.50,216.25 284.62,217.64 284.75,215.67 284.88,217.91 285.00,217.81 285.12,217.29 285.25,217.71 285.38,217.49 285.50,217.42 285.62,216.28 285.75,217.83 285.88,216.33 286.00,216.60 286.12,217.26 286.25,217.57 286.38,215.67 286.50,219.68 286.62,217.81 286.75,217.50 286.88,216.90 287.00,217.35 287.12,216.55 287.25,216.89 287.38,216.40 287.50,217.93 287.62,216.96 287.75,215.88 287.88,217.97 288.00,217.20 288.12,218.66 288.25,217.02 288.38,218.09 288.50,216.82 288.62,218.44 288.75,217.36 288.88,218.33 289.00,217.43 289.12,217.03 289.25,215.33 289.38,217.03 289.50,216.98 289.62,215.74 289.75,216.44 289.88,218.37 290.00,216.93 290.12,217.31 290.25,216.67 290.38,216.95 290.50,219.04 290.62,217.95 290.75,215.80 290.88,216.67 291.00,218.24 291.12,217.91 291.25,217.72 291.38,218.72 291.50,220.53 291.62,217.04 291.75,218.49 291.88,218.18 292.00,218.25 292.12,217.92 292.25,217.97 292.38,216.14 292.50,217.86 292.62,217.02 292.75,217.59 292.88,216.38 293.00,217.46 293.12,219.43 293.25,215.89 293.38,216.02 293.50,216.94 293.62,219.04 293.75,216.34 293.88,217.24 294.00,218.33 294.12,218.09 294.25,216.49 294.38,218.17 294.50,217.73 294.62,218.28 294.75,217.09 294.88,218.40 295.00,217.04 295.12,217.86 295.25,215.67 295.38,218.00 295.50,217.48 295.62,216.66 295.75,216.75 295.88,218.98 296.00,217.39 296.12,217.18 296.25,216.91 296.38,217.70 296.50,216.15" stroke="#b4c6d0" stroke-width="1.6"/>
<polyline points="40.25,224.35 40.38,224.47 40.50,224.59 40.62,224.72 40.75,224.84 40.88,224.89 41.00,224.94 41.12,224.99 41.25,225.04 41.38,224.97 41.50,224.90 41.62,224.83 41.75,224.75 41.88,224.71 42.00,224.66 42.12,224.62 42.25,224.57 42.38,224.53 42.50,224.49 42.62,224.46 42.75,224.42 42.88,224.58 43.00,224.74 43.12,224.90 43.25,225.05 43.38,225.02 43.50,224.98 43.62,224.95 43.75,224.91 43.88,225.00 44.00,225.09 44.12,225.18 44.25,225.28 44.38,225.21 44.50,225.14 44.62,225.07 44.75,225.00 44.88,224.85 45.00,224.70 45.12,224.55 45.25,224.40 45.38,224.33 45.50,224.26 45.62,224.19 45.75,224.12 45.88,223.81 46.00,223.51 46.12,223.21 46.25,222.90 46.38,223.36 46.50,223.82 46.62,224.28 46.75,224.74 46.88,224.75 47.00,224.76 47.12,224.77 47.25,224.78 47.38,224.62 47.50,224.46 47.62,224.30 47.75,224.14 47.88,223.89 48.00,223.63 48.12,223.38 48.25,223.12 48.38,223.50 48.50,223.87 48.62,224.25 48.75,224.63 48.88,224.68 49.00,224.73 49.12,224.78 49.25,224.83 49.38,224.85 49.50,224.86 49.62,224.88 49.75,224.89 49.88,224.83 50.00,224.78 50.12,224.72 50.25,224.66 50.38,224.53 50.50,224.40 50.62,224.27 50.75,224.13 50.88,224.27 51.00,224.41 51.12,224.55 51.25,224.69 51.38,224.69 51.50,224.70 51.62,224.70 51.75,224.70 51.88,224.65 52.00,224.60 52.12,224.55 52.25,224.49 52.38,224.52 52.50,224.55 52.62,224.58 52.75,224.61 52.88,224.24 53.00,223.87 53.12,223.50 53.25,223.13 53.38,223.53 53.50,223.93 53.62,224.32 53.75,224.72 53.88,224.62 54.00,224.53 54.12,224.43 54.25,224.34 54.38,224.38 54.50,224.41 54.62,224.45 54.75,224.49 54.88,224.36 55.00,224.23 55.12,224.10 55.25,223.97 55.38,223.99 55.50,224.02 55.62,224.05 55.75,224.07 55.88,224.11 56.00,224.16 56.12,224.20 56.25,224.24 56.38,224.20 56.50,224.16 56.62,224.12 56.75,224.08 56.88,224.02 57.00,223.97 57.12,223.91 57.25,223.85 57.38,223.72 57.50,223.59 57.62,223.47 57.75,223.34 57.88,223.38 58.00,223.43 58.12,223.47 58.25,223.52 58.38,223.52 58.50,223.52 58.62,223.52 58.75,223.52 58.88,223.60 59.00,223.68 59.12,223.76 59.25,223.84 59.38,223.87 59.50,223.90 59.62,223.93 59.75,223.96 59.88,223.51 60.00,223.06 60.12,222.62 60.25,222.17 60.38,222.55 60.50,222.94 60.62,223.32 60.75,223.71 60.88,223.65 61.00,223.58 61.12,223.52 61.25,223.46 61.38,223.49 61.50,223.53 61.62,223.57 61.75,223.61 61.88,223.55 62.00,223.49 62.12,223.43 62.25,223.37 62.38,223.55 62.50,223.72 62.62,223.90 62.75,224.08 62.88,224.04 63.00,224.00 63.12,223.96 63.25,223.92 63.38,223.95 63.50,223.98 63.62,224.00 63.75,224.03 63.88,224.11 64.00,224.18 64.12,224.26 64.25,224.34 64.38,224.45 64.50,224.55 64.62,224.66 64.75,224.77 64.88,224.70 65.00,224.62 65.12,224.55 65.25,224.48 65.38,224.37 65.50,224.27 65.62,224.17 65.75,224.07 65.88,224.28 66.00,224.49 66.12,224.69 66.25,224.90 66.38,224.74 66.50,224.57 66.62,224.40 66.75,224.23 66.88,224.25 67.00,224.26 67.12,224.27 67.25,224.28 67.38,224.37 67.50,224.45 67.62,224.54 67.75,224.62 67.88,224.60 68.00,224.58 68.12,224.56 68.25,224.54 68.38,224.22 68.50,223.89 68.62,223.57 68.75,223.25 68.88,223.25 69.00,223.25 69.12,223.25 69.25,223.25 69.38,223.51 69.50,223.77 69.62,224.03 69.75,224.29 69.88,224.31 70.00,224.34 70.12,224.36 70.25,224.38 70.38,224.40 70.50,224.41 70.62,224.42 70.75,224.44 70.88,224.49 71.00,224.54 71.12,224.60 71.25,224.65 71.38,224.68 71.50,224.71 71.62,224.74 71.75,224.77 71.88,224.74 72.00,224.71 72.12,224.69 72.25,224.66 72.38,224.77 72.50,224.88 72.62,224.99 72.75,225.10 72.88,225.07 73.00,225.04 73.12,225.02 73.25,224.99 73.38,224.92 73.50,224.85 73.62,224.79 73.75,224.72 73.88,224.85 74.00,224.98 74.12,225.12 74.25,225.25 74.38,225.12 74.50,225.00 74.62,224.87 74.75,224.74 74.88,224.75 75.00,224.76 75.12,224.77 75.25,224.78 75.38,224.79 75.50,224.79 75.62,224.79 75.75,224.80 75.88,224.79 76.00,224.79 76.12,224.79 76.25,224.78 76.38,224.82 76.50,224.86 76.62,224.90 76.75,224.94 76.88,224.74 77.00,224.55 77.12,224.35 77.25,224.16 77.38,224.44 77.50,224.73 77.62,225.01 77.75,225.30 77.88,225.21 78.00,225.13 78.12,225.04 78.25,224.96 78.38,224.65 78.50,224.35 78.62,224.04 78.75,223.73 78.88,223.96 79.00,224.20 79.12,224.43 79.25,224.66 79.38,224.62 79.50,224.58 79.62,224.54 79.75,224.50 79.88,224.44 80.00,224.37 80.12,224.31 80.25,224.25 80.38,224.43 80.50,224.61 80.62,224.79 80.75,224.96 80.88,224.87 81.00,224.77 81.12,224.67 81.25,224.57 81.38,224.68 81.50,224.79 81.62,224.90 81.75,225.01 81.88,224.96 82.00,224.90 82.12,224.84 82.25,224.78 82.38,224.73 82.50,224.68 82.62,224.63 82.75,224.58 82.88,224.73 83.00,224.88 83.12,225.03 83.25,225.18 83.38,225.09 83.50,225.00 83.62,224.90 83.75,224.81 83.88,224.84 84.00,224.88 84.12,224.91 84.25,224.94 84.38,224.87 84.50,224.80 84.62,224.73 84.75,224.66 84.88,224.63 85.00,224.59 85.12,224.56 85.25,224.53 85.38,224.69 85.50,224.86 85.62,225.02 85.75,225.18 85.88,225.08 86.00,224.99 86.12,224.89 86.25,224.80 86.38,224.89 86.50,224.98 86.62,225.07 86.75,225.16 86.88,225.22 87.00,225.29 87.12,225.35 87.25,225.42 87.38,225.33 87.50,225.25 87.62,225.16 87.75,225.08 87.88,225.05 88.00,225.01 88.12,224.98 88.25,224.95 88.38,224.99 88.50,225.03 88.62,225.07 88.75,225.11 88.88,225.10 89.00,225.09 89.12,225.09 89.25,225.08 89.38,224.91 89.50,224.74 89.62,224.57 89.75,224.40 89.88,224.11 90.00,223.82 90.12,223.53 90.25,223.24 90.38,223.55 90.50,223.85 90.62,224.15 90.75,224.46 90.88,224.43 91.00,224.41 91.12,224.38 91.25,224.36 91.38,224.44 91.50,224.53 91.62,224.62 91.75,224.71 91.88,224.54 92.00,224.37 92.12,224.20 92.25,224.03 92.38,224.18 92.50,224.33 92.62,224.48 92.75,224.63 92.88,224.65 93.00,224.67 93.12,224.69 93.25,224.71 93.38,224.78 93.50,224.85 93.62,224.91 93.75,224.98 93.88,224.95 94.00,224.91 94.12,224.88 94.25,224.85 94.38,224.80 94.50,224.75 94.62,224.70 94.75,224.64 94.88,224.31 95.00,223.97 95.12,223.63 95.25,223.30 95.38,223.64 95.50,223.99 95.62,224.33 95.75,224.68 95.88,224.67 96.00,224.66 96.12,224.66 96.25,224.65 96.38,224.77 96.50,224.89 96.62,225.01 96.75,225.13 96.88,225.09 97.00,225.05 97.12,225.01 97.25,224.97 97.38,224.95 97.50,224.92 97.62,224.89 97.75,224.86 97.88,224.61 98.00,224.35 98.12,224.09 98.25,223.83 98.38,224.16 98.50,224.48 98.62,224.81 98.75,225.13 98.88,225.04 99.00,224.95 99.12,224.87 99.25,224.78 99.38,224.83 99.50,224.89 99.62,224.95 99.75,225.00 99.88,224.48 100.00,223.95 100.12,223.43 100.25,222.90 100.38,223.42 100.50,223.94 100.62,224.46 100.75,224.98 100.88,224.91 101.00,224.84 101.12,224.76 101.25,224.69 101.38,224.85 101.50,225.00 101.62,225.16 101.75,225.32 101.88,225.19 102.00,225.06 102.12,224.93 102.25,224.80 102.38,224.72 102.50,224.64 102.62,224.56 102.75,224.48 102.88,224.19 103.00,223.90 103.12,223.61 103.25,223.32 103.38,223.63 103.50,223.95 103.62,224.26 103.75,224.57 103.88,224.61 104.00,224.64 104.12,224.67 104.25,224.70 104.38,224.74 104.50,224.77 104.62,224.81 104.75,224.85 104.88,224.79 105.00,224.73 105.12,224.67 105.25,224.62 105.38,224.34 105.50,224.06 105.62,223.78 105.75,223.50 105.88,223.44 106.00,223.37 106.12,223.31 106.25,223.24 106.38,223.66 106.50,224.08 106.62,224.50 106.75,224.93 106.88,224.71 107.00,224.49 107.12,224.28 107.25,224.06 107.38,224.43 107.50,224.80 107.62,225.17 107.75,225.54 107.88,225.34 108.00,225.14 108.12,224.94 108.25,224.73 108.38,224.49 108.50,224.25 108.62,224.01 108.75,223.77 108.88,224.07 109.00,224.37 109.12,224.67 109.25,224.98 109.38,224.87 109.50,224.75 109.62,224.64 109.75,224.53 109.88,224.58 110.00,224.62 110.12,224.67 110.25,224.71 110.38,224.45 110.50,224.18 110.62,223.92 110.75,223.65 110.88,223.98 111.00,224.31 111.12,224.64 111.25,224.97 111.38,224.88 111.50,224.80 111.62,224.71 111.75,224.63 111.88,224.66 112.00,224.69 112.12,224.72 112.25,224.76 112.38,224.47 112.50,224.19 112.62,223.90 112.75,223.61 112.88,223.91 113.00,224.20 113.12,224.50 113.25,224.79 113.38,224.67 113.50,224.55 113.62,224.42 113.75,224.30 113.88,224.28 114.00,224.26 114.12,224.24 114.25,224.22 114.38,224.34 114.50,224.46 114.62,224.58 114.75,224.69 114.88,224.31 115.00,223.92 115.12,223.54 115.25,223.15 115.38,223.49 115.50,223.82 115.62,224.16 115.75,224.49 115.88,224.52 116.00,224.55 116.12,224.58 116.25,224.61 116.38,224.68 116.50,224.75 116.62,224.82 116.75,224.89 116.88,224.49 117.00,224.09 117.12,223.68 117.25,223.28 117.38,223.54 117.50,223.80 117.62,224.06 117.75,224.32 117.88,224.36 118.00,224.39 118.12,224.42 118.25,224.45 118.38,224.55 118.50,224.66 118.62,224.76 118.75,224.86 118.88,224.82 119.00,224.78 119.12,224.74 119.25,224.70 119.38,224.72 119.50,224.74 119.62,224.76 119.75,224.79 119.88,224.68 120.00,224.58 120.12,224.48 120.25,224.37 120.38,224.50 120.50,224.62 120.62,224.74 120.75,224.87 120.88,224.74 121.00,224.62 121.12,224.50 121.25,224.38 121.38,224.35 121.50,224.33 121.63,224.30 121.75,224.28 121.88,224.41 122.00,224.53 122.12,224.66 122.25,224.78 122.38,224.61 122.50,224.44 122.62,224.28 122.75,224.11 122.88,224.28 123.00,224.46 123.12,224.63 123.25,224.81 123.38,224.80 123.50,224.80 123.62,224.80 123.75,224.80 123.88,224.73 124.00,224.66 124.13,224.60 124.25,224.53 124.38,224.62 124.50,224.71 124.62,224.80 124.75,224.89 124.88,224.84 125.00,224.80 125.12,224.75 125.25,224.71 125.38,224.46 125.50,224.21 125.62,223.96 125.75,223.70 125.88,223.99 126.00,224.28 126.12,224.57 126.25,224.85 126.38,224.82 126.50,224.78 126.63,224.75 126.75,224.72 126.88,224.82 127.00,224.92 127.12,225.02 127.25,225.12 127.38,224.97 127.50,224.83 127.62,224.68 127.75,224.54 127.88,224.54 128.00,224.53 128.12,224.53 128.25,224.53 128.38,224.59 128.50,224.65 128.62,224.71 128.75,224.77 128.88,224.72 129.00,224.66 129.12,224.61 129.25,224.55 129.38,224.55 129.50,224.55 129.62,224.54 129.75,224.53 129.88,224.60 130.00,224.64 130.12,224.61 130.25,224.46 130.38,223.90 130.50,222.97 130.62,221.46 130.75,219.06 130.88,215.49 131.00,210.19 131.12,202.68 131.25,192.54 131.38,179.58 131.50,163.85 131.62,145.81 131.75,126.42 131.88,106.92 132.00,89.12 132.12,74.78 132.25,65.44 132.38,62.33 132.50,64.34 132.62,70.04 132.75,79.04 132.88,90.77 133.00,104.47 133.12,119.35 133.25,134.59 133.38,148.80 133.50,162.09 133.62,174.04 133.75,184.39 133.88,194.01 134.00,201.95 134.12,208.33 134.25,213.34 134.38,216.71 134.50,219.13 134.62,220.82 134.75,221.94 134.88,222.91 135.00,223.56 135.12,223.97 135.25,224.17 135.38,223.94 135.50,223.49 135.62,222.81 135.75,221.90 135.88,220.99 136.00,219.95 136.12,218.91 136.25,218.03 136.38,217.36 136.50,217.14 136.62,217.40 136.75,218.10 136.88,219.05 137.00,220.16 137.12,221.27 137.25,222.26 137.38,223.08 137.50,223.68 137.62,224.08 137.75,224.32 137.88,224.51 138.00,224.62 138.12,224.68 138.25,224.72 138.38,224.65 138.50,224.57 138.62,224.49 138.75,224.41 138.88,224.41 139.00,224.40 139.12,224.40 139.25,224.39 139.38,224.56 139.50,224.73 139.62,224.91 139.75,225.08 139.88,224.74 140.00,224.41 140.12,224.07 140.25,223.74 140.38,223.85 140.50,223.97 140.62,224.09 140.75,224.20 140.88,224.24 141.00,224.27 141.12,224.30 141.25,224.33 141.38,224.51 141.50,224.68 141.62,224.86 141.75,225.04 141.88,225.01 142.00,224.98 142.12,224.95 142.25,224.92 142.38,224.72 142.50,224.53 142.62,224.34 142.75,224.14 142.88,224.35 143.00,224.56 143.12,224.76 143.25,224.97 143.38,224.81 143.50,224.66 143.62,224.50 143.75,224.35 143.88,224.57 144.00,224.80 144.12,225.03 144.25,225.26 144.38,225.13 144.50,225.01 144.62,224.88 144.75,224.75 144.88,224.39 145.00,224.03 145.12,223.67 145.25,223.31 145.38,223.63 145.50,223.95 145.62,224.28 145.75,224.60 145.88,224.53 146.00,224.46 146.12,224.40 146.25,224.33 146.38,224.39 146.50,224.44 146.62,224.50 146.75,224.56 146.88,224.11 147.00,223.66 147.12,223.22 147.25,222.77 147.38,223.17 147.50,223.56 147.62,223.96 147.75,224.35 147.88,224.32 148.00,224.29 148.12,224.25 148.25,224.22 148.38,224.31 148.50,224.41 148.62,224.50 148.75,224.59 148.88,224.76 149.00,224.92 149.12,225.08 149.25,225.24 149.38,225.21 149.50,225.19 149.62,225.16 149.75,225.14 149.88,224.96 150.00,224.79 150.12,224.61 150.25,224.44 150.38,224.46 150.50,224.48 150.62,224.50 150.75,224.52 150.88,224.29 151.00,224.06 151.12,223.83 151.25,223.60 151.38,223.89 151.50,224.19 151.62,224.49 151.75,224.79 151.88,224.80 152.00,224.81 152.12,224.82 152.25,224.84 152.38,224.94 152.50,225.03 152.62,225.13 152.75,225.23 152.88,225.18 153.00,225.13 153.12,225.08 153.25,225.03 153.38,224.57 153.50,224.10 153.62,223.63 153.75,223.17 153.88,223.61 154.00,224.04 154.12,224.48 154.25,224.91 154.38,224.98 154.50,225.05 154.62,225.12 154.75,225.19 154.88,224.97 155.00,224.75 155.12,224.54 155.25,224.32 155.38,224.09 155.50,223.87 155.62,223.65 155.75,223.42 155.88,223.73 156.00,224.04 156.12,224.35 156.25,224.66 156.38,224.67 156.50,224.68 156.62,224.69 156.75,224.70 156.88,224.71 157.00,224.72 157.12,224.73 157.25,224.74 157.38,224.82 157.50,224.89 157.62,224.96 157.75,225.04 157.88,224.90 158.00,224.76 158.12,224.63 158.25,224.49 158.38,224.59 158.50,224.70 158.62,224.80 158.75,224.90 158.88,224.93 159.00,224.96 159.12,224.99 159.25,225.03 159.38,224.87 159.50,224.71 159.62,224.54 159.75,224.38 159.88,224.47 160.00,224.55 160.12,224.63 160.25,224.71 160.38,224.67 160.50,224.64 160.62,224.60 160.75,224.57 160.88,224.74 161.00,224.92 161.12,225.10 161.25,225.28 161.38,225.02 161.50,224.76 161.62,224.50 161.75,224.24 161.88,224.42 162.00,224.61 162.12,224.79 162.25,224.98 162.38,225.00 162.50,225.02 162.62,225.04 162.75,225.06 162.88,225.01 163.00,224.96 163.12,224.91 163.25,224.85 163.38,224.89 163.50,224.93 163.62,224.97 163.75,225.01 163.88,225.01 164.00,225.00 164.12,225.00 164.25,224.99 164.38,224.89 164.50,224.79 164.62,224.70 164.75,224.60 164.88,224.53 165.00,224.46 165.12,224.39 165.25,224.32 165.38,224.44 165.50,224.56 165.62,224.69 165.75,224.81 165.88,224.79 166.00,224.77 166.12,224.75 166.25,224.73 166.38,224.73 166.50,224.72 166.62,224.72 166.75,224.72 166.88,224.71 167.00,224.70 167.12,224.69 167.25,224.68 167.38,224.78 167.50,224.89 167.62,224.99 167.75,225.09 167.88,224.88 168.00,224.67 168.12,224.47 168.25,224.26 168.38,224.48 168.50,224.70 168.62,224.92 168.75,225.14 168.88,225.09 169.00,225.03 169.12,224.97 169.25,224.92 169.38,224.73 169.50,224.54 169.62,224.34 169.75,224.15 169.88,224.30 170.00,224.46 170.12,224.61 170.25,224.77 170.38,224.83 170.50,224.89 170.62,224.96 170.75,225.02 170.88,224.94 171.00,224.86 171.12,224.78 171.25,224.70 171.38,224.54 171.50,224.38 171.62,224.23 171.75,224.07 171.88,224.23 172.00,224.39 172.12,224.55 172.25,224.71 172.38,224.79 172.50,224.88 172.62,224.96 172.75,225.05 172.88,224.58 173.00,224.11 173.12,223.63 173.25,223.16 173.38,223.32 173.50,223.48 173.62,223.64 173.75,223.79 173.88,224.09 174.00,224.38 174.12,224.67 174.25,224.97 174.38,224.58 174.50,224.18 174.62,223.79 174.75,223.40 174.88,223.89 175.00,224.38 175.12,224.88 175.25,225.37 175.38,225.17 175.50,224.98 175.62,224.79 175.75,224.60 175.88,224.61 176.00,224.63 176.12,224.65 176.25,224.66 176.38,224.44 176.50,224.22 176.62,223.99 176.75,223.77 176.88,224.05 177.00,224.34 177.12,224.62 177.25,224.91 177.38,224.76 177.50,224.62 177.62,224.48 177.75,224.33 177.88,224.38 178.00,224.43 178.12,224.48 178.25,224.53 178.38,224.48 178.50,224.43 178.62,224.38 178.75,224.33 178.88,224.47 179.00,224.61 179.12,224.75 179.25,224.89 179.38,224.80 179.50,224.70 179.62,224.60 179.75,224.50 179.88,224.22 180.00,223.93 180.12,223.65 180.25,223.36 180.38,223.60 180.50,223.84 180.62,224.08 180.75,224.31 180.88,224.48 181.00,224.65 181.12,224.82 181.25,224.98 181.38,224.92 181.50,224.86 181.62,224.79 181.75,224.73 181.88,224.77 182.00,224.82 182.12,224.86 182.25,224.91 182.38,224.60 182.50,224.30 182.62,224.00 182.75,223.70 182.88,223.95 183.00,224.21 183.12,224.47 183.25,224.72 183.38,224.60 183.50,224.47 183.62,224.35 183.75,224.22 183.88,224.24 184.00,224.25 184.12,224.27 184.25,224.29 184.38,224.41 184.50,224.53 184.62,224.64 184.75,224.76 184.88,224.69 185.00,224.62 185.12,224.54 185.25,224.47 185.38,224.58 185.50,224.68 185.62,224.79 185.75,224.89 185.88,224.94 186.00,224.99 186.12,225.03 186.25,225.08 186.38,225.13 186.50,225.17 186.62,225.22 186.75,225.26 186.88,225.19 187.00,225.12 187.12,225.04 187.25,224.97 187.38,224.77 187.50,224.56 187.62,224.36 187.75,224.16 187.88,224.28 188.00,224.41 188.12,224.54 188.25,224.67 188.38,224.65 188.50,224.62 188.62,224.60 188.75,224.57 188.88,224.53 189.00,224.50 189.12,224.46 189.25,224.42 189.38,224.64 189.50,224.86 189.62,225.07 189.75,225.29 189.88,225.16 190.00,225.04 190.12,224.92 190.25,224.80 190.38,224.78 190.50,224.76 190.62,224.74 190.75,224.72 190.88,224.63 191.00,224.54 191.12,224.45 191.25,224.36 191.38,224.43 191.50,224.49 191.62,224.55 191.75,224.61 191.88,224.76 192.00,224.91 192.12,225.06 192.25,225.21 192.38,225.21 192.50,225.22 192.62,225.22 192.75,225.22 192.88,225.08 193.00,224.93 193.12,224.79 193.25,224.64 193.38,224.65 193.50,224.66 193.62,224.66 193.75,224.67 193.88,224.79 194.00,224.90 194.12,225.02 194.25,225.13 194.38,225.13 194.50,225.13 194.62,225.13 194.75,225.13 194.88,225.03 195.00,224.92 195.12,224.81 195.25,224.71 195.38,224.81 195.50,224.91 195.62,225.01 195.75,225.11 195.88,224.99 196.00,224.87 196.12,224.75 196.25,224.63 196.38,224.67 196.50,224.72 196.62,224.76 196.75,224.80 196.88,224.42 197.00,224.04 197.12,223.66 197.25,223.27 197.38,223.50 197.50,223.72 197.62,223.95 197.75,224.17 197.88,224.37 198.00,224.57 198.12,224.77 198.25,224.97 198.38,224.99 198.50,225.01 198.62,225.04 198.75,225.06 198.88,224.82 199.00,224.58 199.12,224.34 199.25,224.09 199.38,224.43 199.50,224.76 199.62,225.09 199.75,225.42 199.88,225.20 200.00,224.97 200.12,224.74 200.25,224.52 200.38,224.52 200.50,224.53 200.62,224.54 200.75,224.55 200.88,224.59 201.00,224.63 201.13,224.67 201.25,224.71 201.38,224.72 201.50,224.73 201.62,224.74 201.75,224.75 201.88,224.75 202.00,224.76 202.12,224.76 202.25,224.76 202.38,224.87 202.50,224.97 202.62,225.08 202.75,225.18 202.88,224.84 203.00,224.50 203.12,224.16 203.25,223.81 203.38,224.05 203.50,224.28 203.63,224.52 203.75,224.75 203.88,224.69 204.00,224.63 204.12,224.57 204.25,224.51 204.38,224.22 204.50,223.94 204.62,223.66 204.75,223.37 204.88,223.64 205.00,223.91 205.12,224.18 205.25,224.45 205.38,224.48 205.50,224.50 205.62,224.53 205.75,224.55 205.88,224.74 206.00,224.93 206.13,225.13 206.25,225.32 206.38,225.23 206.50,225.14 206.62,225.05 206.75,224.96 206.88,224.86 207.00,224.76 207.12,224.66 207.25,224.56 207.38,224.64 207.50,224.71 207.62,224.79 207.75,224.86 207.88,224.84 208.00,224.81 208.12,224.78 208.25,224.75 208.38,224.69 208.50,224.62 208.63,224.56 208.75,224.50 208.88,224.63 209.00,224.76 209.12,224.90 209.25,225.03 209.38,224.94 209.50,224.86 209.62,224.77 209.75,224.69 209.88,224.59 210.00,224.48 210.12,224.38 210.25,224.28 210.38,224.39 210.50,224.50 210.62,224.62 210.75,224.73 210.88,224.78 211.00,224.84 211.13,224.89 211.25,224.94 211.38,224.67 211.50,224.41 211.62,224.14 211.75,223.87 211.88,224.11 212.00,224.36 212.12,224.60 212.25,224.85 212.38,224.91 212.50,224.97 212.62,225.03 212.75,225.10 212.88,224.96 213.00,224.83 213.12,224.69 213.25,224.56 213.38,224.60 213.50,224.64 213.63,224.69 213.75,224.73 213.88,224.87 214.00,225.00 214.12,225.14 214.25,225.27 214.38,225.05 214.50,224.83 214.62,224.61 214.75,224.40 214.88,224.55 215.00,224.70 215.12,224.85 215.25,225.01 215.38,224.93 215.50,224.86 215.62,224.79 215.75,224.72 215.88,224.69 216.00,224.66 216.13,224.64 216.25,224.61 216.38,224.65 216.50,224.69 216.62,224.73 216.75,224.77 216.88,224.86 217.00,224.94 217.12,225.02 217.25,225.10 217.38,225.18 217.50,225.25 217.62,225.33 217.75,225.41 217.88,225.28 218.00,225.15 218.12,225.03 218.25,224.90 218.38,224.84 218.50,224.79 218.63,224.73 218.75,224.67 218.88,224.78 219.00,224.88 219.12,224.98 219.25,225.09 219.38,225.03 219.50,224.97 219.62,224.91 219.75,224.85 219.88,224.73 220.00,224.61 220.12,224.49 220.25,224.37 220.38,224.54 220.50,224.70 220.62,224.86 220.75,225.02 220.88,224.67 221.00,224.31 221.13,223.95 221.25,223.59 221.38,223.85 221.50,224.11 221.62,224.37 221.75,224.63 221.88,224.74 222.00,224.86 222.12,224.97 222.25,225.08 222.38,224.96 222.50,224.85 222.62,224.73 222.75,224.62 222.88,224.66 223.00,224.71 223.12,224.76 223.25,224.80 223.38,224.69 223.50,224.58 223.63,224.47 223.75,224.36 223.88,224.38 224.00,224.41 224.12,224.43 224.25,224.45 224.38,224.47 224.50,224.50 224.62,224.52 224.75,224.54 224.88,224.67 225.00,224.80 225.12,224.92 225.25,225.05 225.38,224.95 225.50,224.85 225.62,224.74 225.75,224.64 225.88,224.56 226.00,224.47 226.13,224.39 226.25,224.30 226.38,224.40 226.50,224.50 226.62,224.60 226.75,224.69 226.88,224.61 227.00,224.52 227.12,224.43 227.25,224.35 227.38,224.47 227.50,224.58 227.62,224.70 227.75,224.82 227.88,224.73 228.00,224.64 228.12,224.56 228.25,224.47 228.38,224.58 228.50,224.69 228.63,224.81 228.75,224.92 228.88,224.71 229.00,224.49 229.12,224.28 229.25,224.07 229.38,224.23 229.50,224.40 229.62,224.56 229.75,224.73 229.88,224.84 230.00,224.95 230.12,225.05 230.25,225.16 230.38,225.12 230.50,225.08 230.62,225.04 230.75,225.00 230.88,224.74 231.00,224.47 231.13,224.20 231.25,223.93 231.38,224.01 231.50,224.09 231.62,224.17 231.75,224.25 231.88,224.36 232.00,224.47 232.12,224.58 232.25,224.69 232.38,224.39 232.50,224.08 232.62,223.77 232.75,223.47 232.88,223.51 233.00,223.55 233.12,223.59 233.25,223.63 233.38,223.71 233.50,223.80 233.63,223.88 233.75,223.96 233.88,224.24 234.00,224.51 234.13,224.79 234.25,225.07 234.38,224.97 234.50,224.88 234.62,224.78 234.75,224.69 234.88,224.78 235.00,224.87 235.12,224.96 235.25,225.06 235.38,225.05 235.50,225.05 235.62,225.05 235.75,225.04 235.88,224.91 236.00,224.77 236.13,224.64 236.25,224.50 236.38,224.70 236.50,224.89 236.63,225.08 236.75,225.28 236.88,224.98 237.00,224.68 237.12,224.38 237.25,224.08 237.38,224.12 237.50,224.16 237.62,224.20 237.75,224.24 237.88,224.47 238.00,224.70 238.12,224.93 238.25,225.17 238.38,224.62 238.50,224.07 238.63,223.53 238.75,222.98 238.88,223.34 239.00,223.70 239.13,224.06 239.25,224.43 239.38,224.41 239.50,224.39 239.62,224.38 239.75,224.36 239.88,224.42 240.00,224.47 240.12,224.53 240.25,224.58 240.38,224.67 240.50,224.76 240.62,224.85 240.75,224.94 240.88,224.90 241.00,224.86 241.13,224.82 241.25,224.78 241.38,224.76 241.50,224.74 241.63,224.72 241.75,224.70 241.88,224.64 242.00,224.59 242.12,224.54 242.25,224.49 242.38,224.48 242.50,224.47 242.62,224.46 242.75,224.46 242.88,224.48 243.00,224.49 243.12,224.51 243.25,224.53 243.38,224.52 243.50,224.51 243.63,224.50 243.75,224.49 243.88,224.71 244.00,224.93 244.13,225.16 244.25,225.38 244.38,225.26 244.50,225.14 244.62,225.01 244.75,224.89 244.88,224.77 245.00,224.65 245.12,224.52 245.25,224.40 245.38,224.52 245.50,224.63 245.62,224.75 245.75,224.87 245.88,224.51 246.00,224.15 246.13,223.80 246.25,223.44 246.38,223.82 246.50,224.19 246.63,224.57 246.75,224.94 246.88,224.90 247.00,224.86 247.12,224.81 247.25,224.77 247.38,224.81 247.50,224.85 247.62,224.89 247.75,224.93 247.88,225.03 248.00,225.12 248.12,225.22 248.25,225.32 248.38,225.15 248.50,224.97 248.63,224.80 248.75,224.63 248.88,224.62 249.00,224.62 249.13,224.62 249.25,224.61 249.38,224.71 249.50,224.80 249.62,224.90 249.75,224.99 249.88,225.08 250.00,225.16 250.12,225.25 250.25,225.33 250.38,224.90 250.50,224.47 250.62,224.03 250.75,223.60 250.88,223.98 251.00,224.35 251.13,224.73 251.25,225.11 251.38,224.94 251.50,224.78 251.63,224.62 251.75,224.45 251.88,224.55 252.00,224.64 252.12,224.73 252.25,224.82 252.38,224.92 252.50,225.02 252.62,225.11 252.75,225.21 252.88,225.15 253.00,225.08 253.12,225.02 253.25,224.95 253.38,224.77 253.50,224.59 253.63,224.41 253.75,224.23 253.88,224.37 254.00,224.52 254.13,224.67 254.25,224.81 254.38,224.86 254.50,224.90 254.62,224.95 254.75,225.00 254.88,224.96 255.00,224.92 255.12,224.88 255.25,224.84 255.38,224.90 255.50,224.97 255.62,225.03 255.75,225.10 255.88,224.95 256.00,224.81 256.12,224.66 256.25,224.51 256.38,224.50 256.50,224.50 256.62,224.49 256.75,224.48 256.88,224.34 257.00,224.20 257.12,224.06 257.25,223.92 257.38,224.06 257.50,224.19 257.62,224.32 257.75,224.46 257.88,224.47 258.00,224.47 258.12,224.48 258.25,224.49 258.38,224.56 258.50,224.64 258.62,224.71 258.75,224.79 258.88,224.81 259.00,224.83 259.12,224.85 259.25,224.87 259.38,224.84 259.50,224.81 259.62,224.77 259.75,224.74 259.88,224.72 260.00,224.71 260.12,224.69 260.25,224.68 260.38,224.65 260.50,224.63 260.62,224.61 260.75,224.59 260.88,224.63 261.00,224.67 261.12,224.71 261.25,224.75 261.38,224.73 261.50,224.71 261.62,224.69 261.75,224.67 261.88,224.72 262.00,224.78 262.12,224.83 262.25,224.88 262.38,224.90 262.50,224.93 262.62,224.95 262.75,224.98 262.88,224.84 263.00,224.70 263.12,224.56 263.25,224.42 263.38,224.09 263.50,223.75 263.62,223.42 263.75,223.09 263.88,223.45 264.00,223.81 264.12,224.17 264.25,224.54 264.38,224.47 264.50,224.40 264.62,224.33 264.75,224.26 264.88,224.43 265.00,224.60 265.12,224.78 265.25,224.95 265.38,224.94 265.50,224.93 265.62,224.93 265.75,224.92 265.88,224.90 266.00,224.88 266.12,224.87 266.25,224.85 266.38,224.76 266.50,224.67 266.62,224.58 266.75,224.49 266.88,224.65 267.00,224.82 267.12,224.99 267.25,225.15 267.38,225.10 267.50,225.04 267.62,224.99 267.75,224.94 267.88,224.83 268.00,224.72 268.12,224.62 268.25,224.51 268.38,224.68 268.50,224.85 268.62,225.02 268.75,225.19 268.88,225.03 269.00,224.86 269.12,224.70 269.25,224.54 269.38,224.47 269.50,224.41 269.62,224.34 269.75,224.28 269.88,224.36 270.00,224.45 270.12,224.53 270.25,224.62 270.38,224.71 270.50,224.80 270.62,224.89 270.75,224.98 270.88,224.95 271.00,224.92 271.12,224.89 271.25,224.87 271.38,224.91 271.50,224.94 271.62,224.98 271.75,225.02 271.88,224.74 272.00,224.46 272.12,224.17 272.25,223.89 272.38,224.03 272.50,224.18 272.62,224.32 272.75,224.46 272.88,224.46 273.00,224.45 273.12,224.45 273.25,224.44 273.38,224.68 273.50,224.91 273.62,225.15 273.75,225.38 273.88,225.28 274.00,225.17 274.12,225.07 274.25,224.96 274.38,224.88 274.50,224.80 274.62,224.72 274.75,224.64 274.88,224.69 275.00,224.74 275.12,224.79 275.25,224.84 275.38,224.99 275.50,225.14 275.62,225.29 275.75,225.44 275.88,225.25 276.00,225.06 276.12,224.87 276.25,224.67 276.38,224.65 276.50,224.63 276.62,224.60 276.75,224.58 276.88,224.22 277.00,223.87 277.12,223.51 277.25,223.16 277.38,223.56 277.50,223.96 277.62,224.36 277.75,224.76 277.88,224.68 278.00,224.61 278.12,224.54 278.25,224.47 278.38,224.64 278.50,224.81 278.62,224.98 278.75,225.15 278.88,225.06 279.00,224.98 279.12,224.90 279.25,224.82 279.38,224.58 279.50,224.34 279.62,224.11 279.75,223.87 279.88,223.84 280.00,223.81 280.12,223.78 280.25,223.75 280.38,224.05 280.50,224.35 280.62,224.65 280.75,224.95 280.88,224.84 281.00,224.73 281.12,224.62 281.25,224.51 281.38,224.44 281.50,224.37 281.62,224.30 281.75,224.23 281.88,224.30 282.00,224.37 282.12,224.44 282.25,224.51 282.38,224.51 282.50,224.50 282.62,224.49 282.75,224.48 282.88,224.45 283.00,224.43 283.12,224.40 283.25,224.37 283.38,224.59 283.50,224.81 283.62,225.03 283.75,225.25 283.88,225.08 284.00,224.92 284.12,224.75 284.25,224.59 284.38,224.30 284.50,224.01 284.62,223.73 284.75,223.44 284.88,223.65 285.00,223.86 285.12,224.08 285.25,224.29 285.38,224.37 285.50,224.45 285.62,224.53 285.75,224.61 285.88,224.45 286.00,224.30 286.12,224.14 286.25,223.99 286.38,224.16 286.50,224.33 286.62,224.51 286.75,224.68 286.88,224.78 287.00,224.89 287.12,224.99 287.25,225.09 287.38,224.94 287.50,224.78 287.62,224.62 287.75,224.46 287.88,224.65 288.00,224.83 288.12,225.02 288.25,225.20 288.38,225.10 288.50,224.99 288.62,224.89 288.75,224.79 288.88,224.80 289.00,224.81 289.12,224.82 289.25,224.83 289.38,224.74 289.50,224.64 289.62,224.54 289.75,224.44 289.88,224.52 290.00,224.59 290.12,224.66 290.25,224.73 290.38,224.79 290.50,224.85 290.62,224.91 290.75,224.98 290.88,224.87 291.00,224.76 291.12,224.64 291.25,224.53 291.38,224.46 291.50,224.38 291.62,224.30 291.75,224.23 291.88,224.43 292.00,224.63 292.12,224.83 292.25,225.03 292.38,224.85 292.50,224.68 292.62,224.50 292.75,224.33 292.88,224.48 293.00,224.62 293.12,224.77 293.25,224.92 293.38,224.89 293.50,224.86 293.62,224.83 293.75,224.79 293.88,224.79 294.00,224.79 294.12,224.79 294.25,224.79 294.38,224.85 294.50,224.91 294.62,224.97 294.75,225.03 294.88,224.84 295.00,224.64 295.12,224.45 295.25,224.26 295.38,224.32 295.50,224.38 295.62,224.44 295.75,224.50 295.88,224.51 296.00,224.53 296.12,224.54 296.25,224.55 296.38,224.55 296.50,224.55" stroke="#36c4eb" stroke-width="1.15"/>
<polyline points="40.25,225.30 40.38,225.30 40.50,225.30 40.62,225.30 40.75,225.30 40.88,225.30 41.00,225.30 41.12,225.30 41.25,225.30 41.38,225.30 41.50,225.30 41.62,225.30 41.75,225.30 41.88,225.30 42.00,225.30 42.12,225.30 42.25,225.30 42.38,225.30 42.50,225.30 42.62,225.30 42.75,225.30 42.88,225.30 43.00,225.30 43.12,225.30 43.25,225.30 43.38,225.30 43.50,225.30 43.62,225.30 43.75,225.30 43.88,225.30 44.00,225.30 44.12,225.30 44.25,225.30 44.38,225.30 44.50,225.30 44.62,225.30 44.75,225.30 44.88,225.30 45.00,225.30 45.12,225.30 45.25,225.30 45.38,225.30 45.50,225.30 45.62,225.30 45.75,225.30 45.88,225.30 46.00,225.30 46.12,225.30 46.25,225.30 46.38,225.30 46.50,225.30 46.62,225.30 46.75,225.30 46.88,225.30 47.00,225.30 47.12,225.30 47.25,225.30 47.38,225.30 47.50,225.30 47.62,225.30 47.75,225.30 47.88,225.30 48.00,225.30 48.12,225.30 48.25,225.30 48.38,225.30 48.50,225.30 48.62,225.30 48.75,225.30 48.88,225.30 49.00,225.30 49.12,225.30 49.25,225.30 49.38,225.30 49.50,225.30 49.62,225.30 49.75,225.30 49.88,225.30 50.00,225.30 50.12,225.30 50.25,225.30 50.38,225.30 50.50,225.30 50.62,225.30 50.75,225.30 50.88,225.30 51.00,225.30 51.12,225.30 51.25,225.30 51.38,225.30 51.50,225.30 51.62,225.30 51.75,225.30 51.88,225.30 52.00,225.30 52.12,225.30 52.25,225.30 52.38,225.30 52.50,225.30 52.62,225.30 52.75,225.30 52.88,225.30 53.00,225.30 53.12,225.30 53.25,225.30 53.38,225.30 53.50,225.30 53.62,225.30 53.75,225.30 53.88,225.30 54.00,225.30 54.12,225.30 54.25,225.30 54.38,225.30 54.50,225.30 54.62,225.30 54.75,225.30 54.88,225.30 55.00,225.30 55.12,225.30 55.25,225.30 55.38,225.30 55.50,225.30 55.62,225.30 55.75,225.30 55.88,225.30 56.00,225.30 56.12,225.30 56.25,225.30 56.38,225.30 56.50,225.30 56.62,225.30 56.75,225.30 56.88,225.30 57.00,225.30 57.12,225.30 57.25,225.30 57.38,225.30 57.50,225.30 57.62,225.30 57.75,225.30 57.88,225.30 58.00,225.30 58.12,225.30 58.25,225.30 58.38,225.30 58.50,225.30 58.62,225.30 58.75,225.30 58.88,225.30 59.00,225.30 59.12,225.30 59.25,225.30 59.38,225.30 59.50,225.30 59.62,225.30 59.75,225.30 59.88,225.30 60.00,225.30 60.12,225.30 60.25,225.30 60.38,225.30 60.50,225.30 60.62,225.30 60.75,225.30 60.88,225.30 61.00,225.30 61.12,225.30 61.25,225.30 61.38,225.30 61.50,225.30 61.62,225.30 61.75,225.30 61.88,225.30 62.00,225.30 62.12,225.30 62.25,225.30 62.38,225.30 62.50,225.30 62.62,225.30 62.75,225.30 62.88,225.30 63.00,225.30 63.12,225.30 63.25,225.30 63.38,225.30 63.50,225.30 63.62,225.30 63.75,225.30 63.88,225.30 64.00,225.30 64.12,225.30 64.25,225.30 64.38,225.30 64.50,225.30 64.62,225.30 64.75,225.30 64.88,225.30 65.00,225.30 65.12,225.30 65.25,225.30 65.38,225.30 65.50,225.30 65.62,225.30 65.75,225.30 65.88,225.30 66.00,225.30 66.12,225.30 66.25,225.30 66.38,225.30 66.50,225.30 66.62,225.30 66.75,225.30 66.88,225.30 67.00,225.30 67.12,225.30 67.25,225.30 67.38,225.30 67.50,225.30 67.62,225.30 67.75,225.30 67.88,225.30 68.00,225.30 68.12,225.30 68.25,225.30 68.38,225.30 68.50,225.30 68.62,225.30 68.75,225.30 68.88,225.30 69.00,225.30 69.12,225.30 69.25,225.30 69.38,225.30 69.50,225.30 69.62,225.30 69.75,225.30 69.88,225.30 70.00,225.30 70.12,225.30 70.25,225.30 70.38,225.30 70.50,225.30 70.62,225.30 70.75,225.30 70.88,225.30 71.00,225.30 71.12,225.30 71.25,225.30 71.38,225.30 71.50,225.30 71.62,225.30 71.75,225.30 71.88,225.30 72.00,225.30 72.12,225.30 72.25,225.30 72.38,225.30 72.50,225.30 72.62,225.30 72.75,225.30 72.88,225.30 73.00,225.30 73.12,225.30 73.25,225.30 73.38,225.30 73.50,225.30 73.62,225.30 73.75,225.30 73.88,225.30 74.00,225.30 74.12,225.30 74.25,225.30 74.38,225.30 74.50,225.30 74.62,225.30 74.75,225.30 74.88,225.30 75.00,225.30 75.12,225.30 75.25,225.30 75.38,225.30 75.50,225.30 75.62,225.30 75.75,225.30 75.88,225.30 76.00,225.30 76.12,225.30 76.25,225.30 76.38,225.30 76.50,225.30 76.62,225.30 76.75,225.30 76.88,225.30 77.00,225.30 77.12,225.30 77.25,225.30 77.38,225.30 77.50,225.30 77.62,225.30 77.75,225.30 77.88,225.30 78.00,225.30 78.12,225.30 78.25,225.30 78.38,225.30 78.50,225.30 78.62,225.30 78.75,225.30 78.88,225.30 79.00,225.30 79.12,225.30 79.25,225.30 79.38,225.30 79.50,225.30 79.62,225.30 79.75,225.30 79.88,225.30 80.00,225.30 80.12,225.30 80.25,225.30 80.38,225.30 80.50,225.30 80.62,225.30 80.75,225.30 80.88,225.30 81.00,225.30 81.12,225.30 81.25,225.30 81.38,225.30 81.50,225.30 81.62,225.30 81.75,225.30 81.88,225.30 82.00,225.30 82.12,225.30 82.25,225.30 82.38,225.30 82.50,225.30 82.62,225.30 82.75,225.30 82.88,225.30 83.00,225.30 83.12,225.30 83.25,225.30 83.38,225.30 83.50,225.30 83.62,225.30 83.75,225.30 83.88,225.30 84.00,225.30 84.12,225.30 84.25,225.30 84.38,225.30 84.50,225.30 84.62,225.30 84.75,225.30 84.88,225.30 85.00,225.30 85.12,225.30 85.25,225.30 85.38,225.30 85.50,225.30 85.62,225.30 85.75,225.30 85.88,225.30 86.00,225.30 86.12,225.30 86.25,225.30 86.38,225.30 86.50,225.30 86.62,225.30 86.75,225.30 86.88,225.30 87.00,225.30 87.12,225.30 87.25,225.30 87.38,225.30 87.50,225.30 87.62,225.30 87.75,225.30 87.88,225.30 88.00,225.30 88.12,225.30 88.25,225.30 88.38,225.30 88.50,225.30 88.62,225.30 88.75,225.30 88.88,225.30 89.00,225.30 89.12,225.30 89.25,225.30 89.38,225.30 89.50,225.30 89.62,225.30 89.75,225.30 89.88,225.30 90.00,225.30 90.12,225.30 90.25,225.30 90.38,225.30 90.50,225.30 90.62,225.30 90.75,225.30 90.88,225.30 91.00,225.30 91.12,225.30 91.25,225.30 91.38,225.30 91.50,225.30 91.62,225.30 91.75,225.30 91.88,225.30 92.00,225.30 92.12,225.30 92.25,225.30 92.38,225.30 92.50,225.30 92.62,225.30 92.75,225.30 92.88,225.30 93.00,225.30 93.12,225.30 93.25,225.30 93.38,225.30 93.50,225.30 93.62,225.30 93.75,225.30 93.88,225.30 94.00,225.30 94.12,225.30 94.25,225.30 94.38,225.30 94.50,225.30 94.62,225.30 94.75,225.30 94.88,225.30 95.00,225.30 95.12,225.30 95.25,225.30 95.38,225.30 95.50,225.30 95.62,225.30 95.75,225.30 95.88,225.30 96.00,225.30 96.12,225.30 96.25,225.30 96.38,225.30 96.50,225.30 96.62,225.30 96.75,225.30 96.88,225.30 97.00,225.30 97.12,225.30 97.25,225.30 97.38,225.30 97.50,225.30 97.62,225.30 97.75,225.30 97.88,225.30 98.00,225.30 98.12,225.30 98.25,225.30 98.38,225.30 98.50,225.30 98.62,225.30 98.75,225.30 98.88,225.30 99.00,225.30 99.12,225.30 99.25,225.30 99.38,225.30 99.50,225.30 99.62,225.30 99.75,225.30 99.88,225.30 100.00,225.30 100.12,225.30 100.25,225.30 100.38,225.30 100.50,225.30 100.62,225.30 100.75,225.30 100.88,225.30 101.00,225.30 101.12,225.30 101.25,225.30 101.38,225.30 101.50,225.30 101.62,225.30 101.75,225.30 101.88,225.30 102.00,225.30 102.12,225.30 102.25,225.30 102.38,225.30 102.50,225.30 102.62,225.30 102.75,225.30 102.88,225.30 103.00,225.30 103.12,225.30 103.25,225.30 103.38,225.30 103.50,225.30 103.62,225.30 103.75,225.30 103.88,225.30 104.00,225.30 104.12,225.30 104.25,225.30 104.38,225.30 104.50,225.30 104.62,225.30 104.75,225.30 104.88,225.30 105.00,225.30 105.12,225.30 105.25,225.30 105.38,225.30 105.50,225.30 105.62,225.30 105.75,225.30 105.88,225.30 106.00,225.30 106.12,225.30 106.25,225.30 106.38,225.30 106.50,225.30 106.62,225.30 106.75,225.30 106.88,225.30 107.00,225.30 107.12,225.30 107.25,225.30 107.38,225.30 107.50,225.30 107.62,225.30 107.75,225.30 107.88,225.30 108.00,225.30 108.12,225.30 108.25,225.30 108.38,225.30 108.50,225.30 108.62,225.30 108.75,225.30 108.88,225.30 109.00,225.30 109.12,225.30 109.25,225.30 109.38,225.30 109.50,225.30 109.62,225.30 109.75,225.30 109.88,225.30 110.00,225.30 110.12,225.30 110.25,225.30 110.38,225.30 110.50,225.30 110.62,225.30 110.75,225.30 110.88,225.30 111.00,225.30 111.12,225.30 111.25,225.30 111.38,225.30 111.50,225.30 111.62,225.30 111.75,225.30 111.88,225.30 112.00,225.30 112.12,225.30 112.25,225.30 112.38,225.30 112.50,225.30 112.62,225.30 112.75,225.30 112.88,225.30 113.00,225.30 113.12,225.30 113.25,225.30 113.38,225.30 113.50,225.30 113.62,225.30 113.75,225.30 113.88,225.30 114.00,225.30 114.12,225.30 114.25,225.30 114.38,225.30 114.50,225.30 114.62,225.30 114.75,225.30 114.88,225.30 115.00,225.30 115.12,225.30 115.25,225.30 115.38,225.30 115.50,225.30 115.62,225.30 115.75,225.30 115.88,225.30 116.00,225.30 116.12,225.30 116.25,225.30 116.38,225.30 116.50,225.30 116.62,225.30 116.75,225.30 116.88,225.30 117.00,225.30 117.12,225.30 117.25,225.30 117.38,225.30 117.50,225.30 117.62,225.30 117.75,225.30 117.88,225.30 118.00,225.30 118.12,225.30 118.25,225.30 118.38,225.30 118.50,225.30 118.62,225.30 118.75,225.30 118.88,225.30 119.00,225.30 119.12,225.30 119.25,225.30 119.38,225.30 119.50,225.30 119.62,225.30 119.75,225.30 119.88,225.30 120.00,225.30 120.12,225.30 120.25,225.30 120.38,225.30 120.50,225.30 120.62,225.30 120.75,225.30 120.88,225.30 121.00,225.30 121.12,225.30 121.25,225.30 121.38,225.30 121.50,225.30 121.63,225.30 121.75,225.30 121.88,225.30 122.00,225.30 122.12,225.30 122.25,225.30 122.38,225.30 122.50,225.30 122.62,225.30 122.75,225.30 122.88,225.30 123.00,225.30 123.12,225.30 123.25,225.30 123.38,225.30 123.50,225.30 123.62,225.30 123.75,225.30 123.88,225.30 124.00,225.30 124.13,225.30 124.25,225.30 124.38,225.30 124.50,225.30 124.62,225.30 124.75,225.30 124.88,225.30 125.00,225.30 125.12,225.30 125.25,225.30 125.38,225.30 125.50,225.30 125.62,225.30 125.75,225.30 125.88,225.30 126.00,225.30 126.12,225.30 126.25,225.30 126.38,225.30 126.50,225.30 126.63,225.30 126.75,225.30 126.88,225.30 127.00,225.30 127.12,225.30 127.25,225.30 127.38,225.30 127.50,225.30 127.62,225.30 127.75,225.30 127.88,225.30 128.00,225.30 128.12,225.30 128.25,225.30 128.38,225.30 128.50,225.30 128.62,225.30 128.75,225.30 128.88,225.30 129.00,225.30 129.12,225.30 129.25,225.29 129.38,225.29 129.50,225.27 129.62,225.25 129.75,225.19 129.88,225.09 130.00,224.89 130.12,224.55 130.25,223.96 130.38,222.99 130.50,221.44 130.62,219.06 130.75,215.56 130.88,210.57 131.00,203.76 131.12,194.82 131.25,183.57 131.38,170.03 131.50,154.48 131.62,137.51 131.75,120.00 131.88,103.11 132.00,88.13 132.12,76.31 132.25,68.73 132.38,66.12 132.50,66.92 132.62,69.28 132.75,73.13 132.88,78.36 133.00,84.83 133.12,92.35 133.25,100.71 133.38,109.71 133.50,119.13 133.62,128.75 133.75,138.38 133.88,147.82 134.00,156.92 134.12,165.56 134.25,173.62 134.38,181.04 134.50,187.77 134.62,193.80 134.75,199.12 134.88,203.76 135.00,207.75 135.12,211.15 135.25,214.00 135.38,216.36 135.50,218.31 135.62,219.88 135.75,221.14 135.88,222.14 136.00,222.92 136.12,223.53 136.25,224.00 136.38,224.35 136.50,224.61 136.62,224.81 136.75,224.95 136.88,225.06 137.00,225.13 137.12,225.18 137.25,225.22 137.38,225.25 137.50,225.26 137.62,225.28 137.75,225.28 137.88,225.29 138.00,225.29 138.12,225.30 138.25,225.30 138.38,225.30 138.50,225.30 138.62,225.30 138.75,225.30 138.88,225.30 139.00,225.30 139.12,225.30 139.25,225.30 139.38,225.30 139.50,225.30 139.62,225.30 139.75,225.30 139.88,225.30 140.00,225.30 140.12,225.30 140.25,225.30 140.38,225.30 140.50,225.30 140.62,225.30 140.75,225.30 140.88,225.30 141.00,225.30 141.12,225.30 141.25,225.30 141.38,225.30 141.50,225.30 141.62,225.30 141.75,225.30 141.88,225.30 142.00,225.30 142.12,225.30 142.25,225.30 142.38,225.30 142.50,225.30 142.62,225.30 142.75,225.30 142.88,225.30 143.00,225.30 143.12,225.30 143.25,225.30 143.38,225.30 143.50,225.30 143.62,225.30 143.75,225.30 143.88,225.30 144.00,225.30 144.12,225.30 144.25,225.30 144.38,225.30 144.50,225.30 144.62,225.30 144.75,225.30 144.88,225.30 145.00,225.30 145.12,225.30 145.25,225.30 145.38,225.30 145.50,225.30 145.62,225.30 145.75,225.30 145.88,225.30 146.00,225.30 146.12,225.30 146.25,225.30 146.38,225.30 146.50,225.30 146.62,225.30 146.75,225.30 146.88,225.30 147.00,225.30 147.12,225.30 147.25,225.30 147.38,225.30 147.50,225.30 147.62,225.30 147.75,225.30 147.88,225.30 148.00,225.30 148.12,225.30 148.25,225.30 148.38,225.30 148.50,225.30 148.62,225.30 148.75,225.30 148.88,225.30 149.00,225.30 149.12,225.30 149.25,225.30 149.38,225.30 149.50,225.30 149.62,225.30 149.75,225.30 149.88,225.30 150.00,225.30 150.12,225.30 150.25,225.30 150.38,225.30 150.50,225.30 150.62,225.30 150.75,225.30 150.88,225.30 151.00,225.30 151.12,225.30 151.25,225.30 151.38,225.30 151.50,225.30 151.62,225.30 151.75,225.30 151.88,225.30 152.00,225.30 152.12,225.30 152.25,225.30 152.38,225.30 152.50,225.30 152.62,225.30 152.75,225.30 152.88,225.30 153.00,225.30 153.12,225.30 153.25,225.30 153.38,225.30 153.50,225.30 153.62,225.30 153.75,225.30 153.88,225.30 154.00,225.30 154.12,225.30 154.25,225.30 154.38,225.30 154.50,225.30 154.62,225.30 154.75,225.30 154.88,225.30 155.00,225.30 155.12,225.30 155.25,225.30 155.38,225.30 155.50,225.30 155.62,225.30 155.75,225.30 155.88,225.30 156.00,225.30 156.12,225.30 156.25,225.30 156.38,225.30 156.50,225.30 156.62,225.30 156.75,225.30 156.88,225.30 157.00,225.30 157.12,225.30 157.25,225.30 157.38,225.30 157.50,225.30 157.62,225.30 157.75,225.30 157.88,225.30 158.00,225.30 158.12,225.30 158.25,225.30 158.38,225.30 158.50,225.30 158.62,225.30 158.75,225.30 158.88,225.30 159.00,225.30 159.12,225.30 159.25,225.30 159.38,225.30 159.50,225.30 159.62,225.30 159.75,225.30 159.88,225.30 160.00,225.30 160.12,225.30 160.25,225.30 160.38,225.30 160.50,225.30 160.62,225.30 160.75,225.30 160.88,225.30 161.00,225.30 161.12,225.30 161.25,225.30 161.38,225.30 161.50,225.30 161.62,225.30 161.75,225.30 161.88,225.30 162.00,225.30 162.12,225.30 162.25,225.30 162.38,225.30 162.50,225.30 162.62,225.30 162.75,225.30 162.88,225.30 163.00,225.30 163.12,225.30 163.25,225.30 163.38,225.30 163.50,225.30 163.62,225.30 163.75,225.30 163.88,225.30 164.00,225.30 164.12,225.30 164.25,225.30 164.38,225.30 164.50,225.30 164.62,225.30 164.75,225.30 164.88,225.30 165.00,225.30 165.12,225.30 165.25,225.30 165.38,225.30 165.50,225.30 165.62,225.30 165.75,225.30 165.88,225.30 166.00,225.30 166.12,225.30 166.25,225.30 166.38,225.30 166.50,225.30 166.62,225.30 166.75,225.30 166.88,225.30 167.00,225.30 167.12,225.30 167.25,225.30 167.38,225.30 167.50,225.30 167.62,225.30 167.75,225.30 167.88,225.30 168.00,225.30 168.12,225.30 168.25,225.30 168.38,225.30 168.50,225.30 168.62,225.30 168.75,225.30 168.88,225.30 169.00,225.30 169.12,225.30 169.25,225.30 169.38,225.30 169.50,225.30 169.62,225.30 169.75,225.30 169.88,225.30 170.00,225.30 170.12,225.30 170.25,225.30 170.38,225.30 170.50,225.30 170.62,225.30 170.75,225.30 170.88,225.30 171.00,225.30 171.12,225.30 171.25,225.30 171.38,225.30 171.50,225.30 171.62,225.30 171.75,225.30 171.88,225.30 172.00,225.30 172.12,225.30 172.25,225.30 172.38,225.30 172.50,225.30 172.62,225.30 172.75,225.30 172.88,225.30 173.00,225.30 173.12,225.30 173.25,225.30 173.38,225.30 173.50,225.30 173.62,225.30 173.75,225.30 173.88,225.30 174.00,225.30 174.12,225.30 174.25,225.30 174.38,225.30 174.50,225.30 174.62,225.30 174.75,225.30 174.88,225.30 175.00,225.30 175.12,225.30 175.25,225.30 175.38,225.30 175.50,225.30 175.62,225.30 175.75,225.30 175.88,225.30 176.00,225.30 176.12,225.30 176.25,225.30 176.38,225.30 176.50,225.30 176.62,225.30 176.75,225.30 176.88,225.30 177.00,225.30 177.12,225.30 177.25,225.30 177.38,225.30 177.50,225.30 177.62,225.30 177.75,225.30 177.88,225.30 178.00,225.30 178.12,225.30 178.25,225.30 178.38,225.30 178.50,225.30 178.62,225.30 178.75,225.30 178.88,225.30 179.00,225.30 179.12,225.30 179.25,225.30 179.38,225.30 179.50,225.30 179.62,225.30 179.75,225.30 179.88,225.30 180.00,225.30 180.12,225.30 180.25,225.30 180.38,225.30 180.50,225.30 180.62,225.30 180.75,225.30 180.88,225.30 181.00,225.30 181.12,225.30 181.25,225.30 181.38,225.30 181.50,225.30 181.62,225.30 181.75,225.30 181.88,225.30 182.00,225.30 182.12,225.30 182.25,225.30 182.38,225.30 182.50,225.30 182.62,225.30 182.75,225.30 182.88,225.30 183.00,225.30 183.12,225.30 183.25,225.30 183.38,225.30 183.50,225.30 183.62,225.30 183.75,225.30 183.88,225.30 184.00,225.30 184.12,225.30 184.25,225.30 184.38,225.30 184.50,225.30 184.62,225.30 184.75,225.30 184.88,225.30 185.00,225.30 185.12,225.30 185.25,225.30 185.38,225.30 185.50,225.30 185.62,225.30 185.75,225.30 185.88,225.30 186.00,225.30 186.12,225.30 186.25,225.30 186.38,225.30 186.50,225.30 186.62,225.30 186.75,225.30 186.88,225.30 187.00,225.30 187.12,225.30 187.25,225.30 187.38,225.30 187.50,225.30 187.62,225.30 187.75,225.30 187.88,225.30 188.00,225.30 188.12,225.30 188.25,225.30 188.38,225.30 188.50,225.30 188.62,225.30 188.75,225.30 188.88,225.30 189.00,225.30 189.12,225.30 189.25,225.30 189.38,225.30 189.50,225.30 189.62,225.30 189.75,225.30 189.88,225.30 190.00,225.30 190.12,225.30 190.25,225.30 190.38,225.30 190.50,225.30 190.62,225.30 190.75,225.30 190.88,225.30 191.00,225.30 191.12,225.30 191.25,225.30 191.38,225.30 191.50,225.30 191.62,225.30 191.75,225.30 191.88,225.30 192.00,225.30 192.12,225.30 192.25,225.30 192.38,225.30 192.50,225.30 192.62,225.30 192.75,225.30 192.88,225.30 193.00,225.30 193.12,225.30 193.25,225.30 193.38,225.30 193.50,225.30 193.62,225.30 193.75,225.30 193.88,225.30 194.00,225.30 194.12,225.30 194.25,225.30 194.38,225.30 194.50,225.30 194.62,225.30 194.75,225.30 194.88,225.30 195.00,225.30 195.12,225.30 195.25,225.30 195.38,225.30 195.50,225.30 195.62,225.30 195.75,225.30 195.88,225.30 196.00,225.30 196.12,225.30 196.25,225.30 196.38,225.30 196.50,225.30 196.62,225.30 196.75,225.30 196.88,225.30 197.00,225.30 197.12,225.30 197.25,225.30 197.38,225.30 197.50,225.30 197.62,225.30 197.75,225.30 197.88,225.30 198.00,225.30 198.12,225.30 198.25,225.30 198.38,225.30 198.50,225.30 198.62,225.30 198.75,225.30 198.88,225.30 199.00,225.30 199.12,225.30 199.25,225.30 199.38,225.30 199.50,225.30 199.62,225.30 199.75,225.30 199.88,225.30 200.00,225.30 200.12,225.30 200.25,225.30 200.38,225.30 200.50,225.30 200.62,225.30 200.75,225.30 200.88,225.30 201.00,225.30 201.13,225.30 201.25,225.30 201.38,225.30 201.50,225.30 201.62,225.30 201.75,225.30 201.88,225.30 202.00,225.30 202.12,225.30 202.25,225.30 202.38,225.30 202.50,225.30 202.62,225.30 202.75,225.30 202.88,225.30 203.00,225.30 203.12,225.30 203.25,225.30 203.38,225.30 203.50,225.30 203.63,225.30 203.75,225.30 203.88,225.30 204.00,225.30 204.12,225.30 204.25,225.30 204.38,225.30 204.50,225.30 204.62,225.30 204.75,225.30 204.88,225.30 205.00,225.30 205.12,225.30 205.25,225.30 205.38,225.30 205.50,225.30 205.62,225.30 205.75,225.30 205.88,225.30 206.00,225.30 206.13,225.30 206.25,225.30 206.38,225.30 206.50,225.30 206.62,225.30 206.75,225.30 206.88,225.30 207.00,225.30 207.12,225.30 207.25,225.30 207.38,225.30 207.50,225.30 207.62,225.30 207.75,225.30 207.88,225.30 208.00,225.30 208.12,225.30 208.25,225.30 208.38,225.30 208.50,225.30 208.63,225.30 208.75,225.30 208.88,225.30 209.00,225.30 209.12,225.30 209.25,225.30 209.38,225.30 209.50,225.30 209.62,225.30 209.75,225.30 209.88,225.30 210.00,225.30 210.12,225.30 210.25,225.30 210.38,225.30 210.50,225.30 210.62,225.30 210.75,225.30 210.88,225.30 211.00,225.30 211.13,225.30 211.25,225.30 211.38,225.30 211.50,225.30 211.62,225.30 211.75,225.30 211.88,225.30 212.00,225.30 212.12,225.30 212.25,225.30 212.38,225.30 212.50,225.30 212.62,225.30 212.75,225.30 212.88,225.30 213.00,225.30 213.12,225.30 213.25,225.30 213.38,225.30 213.50,225.30 213.63,225.30 213.75,225.30 213.88,225.30 214.00,225.30 214.12,225.30 214.25,225.30 214.38,225.30 214.50,225.30 214.62,225.30 214.75,225.30 214.88,225.30 215.00,225.30 215.12,225.30 215.25,225.30 215.38,225.30 215.50,225.30 215.62,225.30 215.75,225.30 215.88,225.30 216.00,225.30 216.13,225.30 216.25,225.30 216.38,225.30 216.50,225.30 216.62,225.30 216.75,225.30 216.88,225.30 217.00,225.30 217.12,225.30 217.25,225.30 217.38,225.30 217.50,225.30 217.62,225.30 217.75,225.30 217.88,225.30 218.00,225.30 218.12,225.30 218.25,225.30 218.38,225.30 218.50,225.30 218.63,225.30 218.75,225.30 218.88,225.30 219.00,225.30 219.12,225.30 219.25,225.30 219.38,225.30 219.50,225.30 219.62,225.30 219.75,225.30 219.88,225.30 220.00,225.30 220.12,225.30 220.25,225.30 220.38,225.30 220.50,225.30 220.62,225.30 220.75,225.30 220.88,225.30 221.00,225.30 221.13,225.30 221.25,225.30 221.38,225.30 221.50,225.30 221.62,225.30 221.75,225.30 221.88,225.30 222.00,225.30 222.12,225.30 222.25,225.30 222.38,225.30 222.50,225.30 222.62,225.30 222.75,225.30 222.88,225.30 223.00,225.30 223.12,225.30 223.25,225.30 223.38,225.30 223.50,225.30 223.63,225.30 223.75,225.30 223.88,225.30 224.00,225.30 224.12,225.30 224.25,225.30 224.38,225.30 224.50,225.30 224.62,225.30 224.75,225.30 224.88,225.30 225.00,225.30 225.12,225.30 225.25,225.30 225.38,225.30 225.50,225.30 225.62,225.30 225.75,225.30 225.88,225.30 226.00,225.30 226.13,225.30 226.25,225.30 226.38,225.30 226.50,225.30 226.62,225.30 226.75,225.30 226.88,225.30 227.00,225.30 227.12,225.30 227.25,225.30 227.38,225.30 227.50,225.30 227.62,225.30 227.75,225.30 227.88,225.30 228.00,225.30 228.12,225.30 228.25,225.30 228.38,225.30 228.50,225.30 228.63,225.30 228.75,225.30 228.88,225.30 229.00,225.30 229.12,225.30 229.25,225.30 229.38,225.30 229.50,225.30 229.62,225.30 229.75,225.30 229.88,225.30 230.00,225.30 230.12,225.30 230.25,225.30 230.38,225.30 230.50,225.30 230.62,225.30 230.75,225.30 230.88,225.30 231.00,225.30 231.13,225.30 231.25,225.30 231.38,225.30 231.50,225.30 231.62,225.30 231.75,225.30 231.88,225.30 232.00,225.30 232.12,225.30 232.25,225.30 232.38,225.30 232.50,225.30 232.62,225.30 232.75,225.30 232.88,225.30 233.00,225.30 233.12,225.30 233.25,225.30 233.38,225.30 233.50,225.30 233.63,225.30 233.75,225.30 233.88,225.30 234.00,225.30 234.13,225.30 234.25,225.30 234.38,225.30 234.50,225.30 234.62,225.30 234.75,225.30 234.88,225.30 235.00,225.30 235.12,225.30 235.25,225.30 235.38,225.30 235.50,225.30 235.62,225.30 235.75,225.30 235.88,225.30 236.00,225.30 236.13,225.30 236.25,225.30 236.38,225.30 236.50,225.30 236.63,225.30 236.75,225.30 236.88,225.30 237.00,225.30 237.12,225.30 237.25,225.30 237.38,225.30 237.50,225.30 237.62,225.30 237.75,225.30 237.88,225.30 238.00,225.30 238.12,225.30 238.25,225.30 238.38,225.30 238.50,225.30 238.63,225.30 238.75,225.30 238.88,225.30 239.00,225.30 239.13,225.30 239.25,225.30 239.38,225.30 239.50,225.30 239.62,225.30 239.75,225.30 239.88,225.30 240.00,225.30 240.12,225.30 240.25,225.30 240.38,225.30 240.50,225.30 240.62,225.30 240.75,225.30 240.88,225.30 241.00,225.30 241.13,225.30 241.25,225.30 241.38,225.30 241.50,225.30 241.63,225.30 241.75,225.30 241.88,225.30 242.00,225.30 242.12,225.30 242.25,225.30 242.38,225.30 242.50,225.30 242.62,225.30 242.75,225.30 242.88,225.30 243.00,225.30 243.12,225.30 243.25,225.30 243.38,225.30 243.50,225.30 243.63,225.30 243.75,225.30 243.88,225.30 244.00,225.30 244.13,225.30 244.25,225.30 244.38,225.30 244.50,225.30 244.62,225.30 244.75,225.30 244.88,225.30 245.00,225.30 245.12,225.30 245.25,225.30 245.38,225.30 245.50,225.30 245.62,225.30 245.75,225.30 245.88,225.30 246.00,225.30 246.13,225.30 246.25,225.30 246.38,225.30 246.50,225.30 246.63,225.30 246.75,225.30 246.88,225.30 247.00,225.30 247.12,225.30 247.25,225.30 247.38,225.30 247.50,225.30 247.62,225.30 247.75,225.30 247.88,225.30 248.00,225.30 248.12,225.30 248.25,225.30 248.38,225.30 248.50,225.30 248.63,225.30 248.75,225.30 248.88,225.30 249.00,225.30 249.13,225.30 249.25,225.30 249.38,225.30 249.50,225.30 249.62,225.30 249.75,225.30 249.88,225.30 250.00,225.30 250.12,225.30 250.25,225.30 250.38,225.30 250.50,225.30 250.62,225.30 250.75,225.30 250.88,225.30 251.00,225.30 251.13,225.30 251.25,225.30 251.38,225.30 251.50,225.30 251.63,225.30 251.75,225.30 251.88,225.30 252.00,225.30 252.12,225.30 252.25,225.30 252.38,225.30 252.50,225.30 252.62,225.30 252.75,225.30 252.88,225.30 253.00,225.30 253.12,225.30 253.25,225.30 253.38,225.30 253.50,225.30 253.63,225.30 253.75,225.30 253.88,225.30 254.00,225.30 254.13,225.30 254.25,225.30 254.38,225.30 254.50,225.30 254.62,225.30 254.75,225.30 254.88,225.30 255.00,225.30 255.12,225.30 255.25,225.30 255.38,225.30 255.50,225.30 255.62,225.30 255.75,225.30 255.88,225.30 256.00,225.30 256.12,225.30 256.25,225.30 256.38,225.30 256.50,225.30 256.62,225.30 256.75,225.30 256.88,225.30 257.00,225.30 257.12,225.30 257.25,225.30 257.38,225.30 257.50,225.30 257.62,225.30 257.75,225.30 257.88,225.30 258.00,225.30 258.12,225.30 258.25,225.30 258.38,225.30 258.50,225.30 258.62,225.30 258.75,225.30 258.88,225.30 259.00,225.30 259.12,225.30 259.25,225.30 259.38,225.30 259.50,225.30 259.62,225.30 259.75,225.30 259.88,225.30 260.00,225.30 260.12,225.30 260.25,225.30 260.38,225.30 260.50,225.30 260.62,225.30 260.75,225.30 260.88,225.30 261.00,225.30 261.12,225.30 261.25,225.30 261.38,225.30 261.50,225.30 261.62,225.30 261.75,225.30 261.88,225.30 262.00,225.30 262.12,225.30 262.25,225.30 262.38,225.30 262.50,225.30 262.62,225.30 262.75,225.30 262.88,225.30 263.00,225.30 263.12,225.30 263.25,225.30 263.38,225.30 263.50,225.30 263.62,225.30 263.75,225.30 263.88,225.30 264.00,225.30 264.12,225.30 264.25,225.30 264.38,225.30 264.50,225.30 264.62,225.30 264.75,225.30 264.88,225.30 265.00,225.30 265.12,225.30 265.25,225.30 265.38,225.30 265.50,225.30 265.62,225.30 265.75,225.30 265.88,225.30 266.00,225.30 266.12,225.30 266.25,225.30 266.38,225.30 266.50,225.30 266.62,225.30 266.75,225.30 266.88,225.30 267.00,225.30 267.12,225.30 267.25,225.30 267.38,225.30 267.50,225.30 267.62,225.30 267.75,225.30 267.88,225.30 268.00,225.30 268.12,225.30 268.25,225.30 268.38,225.30 268.50,225.30 268.62,225.30 268.75,225.30 268.88,225.30 269.00,225.30 269.12,225.30 269.25,225.30 269.38,225.30 269.50,225.30 269.62,225.30 269.75,225.30 269.88,225.30 270.00,225.30 270.12,225.30 270.25,225.30 270.38,225.30 270.50,225.30 270.62,225.30 270.75,225.30 270.88,225.30 271.00,225.30 271.12,225.30 271.25,225.30 271.38,225.30 271.50,225.30 271.62,225.30 271.75,225.30 271.88,225.30 272.00,225.30 272.12,225.30 272.25,225.30 272.38,225.30 272.50,225.30 272.62,225.30 272.75,225.30 272.88,225.30 273.00,225.30 273.12,225.30 273.25,225.30 273.38,225.30 273.50,225.30 273.62,225.30 273.75,225.30 273.88,225.30 274.00,225.30 274.12,225.30 274.25,225.30 274.38,225.30 274.50,225.30 274.62,225.30 274.75,225.30 274.88,225.30 275.00,225.30 275.12,225.30 275.25,225.30 275.38,225.30 275.50,225.30 275.62,225.30 275.75,225.30 275.88,225.30 276.00,225.30 276.12,225.30 276.25,225.30 276.38,225.30 276.50,225.30 276.62,225.30 276.75,225.30 276.88,225.30 277.00,225.30 277.12,225.30 277.25,225.30 277.38,225.30 277.50,225.30 277.62,225.30 277.75,225.30 277.88,225.30 278.00,225.30 278.12,225.30 278.25,225.30 278.38,225.30 278.50,225.30 278.62,225.30 278.75,225.30 278.88,225.30 279.00,225.30 279.12,225.30 279.25,225.30 279.38,225.30 279.50,225.30 279.62,225.30 279.75,225.30 279.88,225.30 280.00,225.30 280.12,225.30 280.25,225.30 280.38,225.30 280.50,225.30 280.62,225.30 280.75,225.30 280.88,225.30 281.00,225.30 281.12,225.30 281.25,225.30 281.38,225.30 281.50,225.30 281.62,225.30 281.75,225.30 281.88,225.30 282.00,225.30 282.12,225.30 282.25,225.30 282.38,225.30 282.50,225.30 282.62,225.30 282.75,225.30 282.88,225.30 283.00,225.30 283.12,225.30 283.25,225.30 283.38,225.30 283.50,225.30 283.62,225.30 283.75,225.30 283.88,225.30 284.00,225.30 284.12,225.30 284.25,225.30 284.38,225.30 284.50,225.30 284.62,225.30 284.75,225.30 284.88,225.30 285.00,225.30 285.12,225.30 285.25,225.30 285.38,225.30 285.50,225.30 285.62,225.30 285.75,225.30 285.88,225.30 286.00,225.30 286.12,225.30 286.25,225.30 286.38,225.30 286.50,225.30 286.62,225.30 286.75,225.30 286.88,225.30 287.00,225.30 287.12,225.30 287.25,225.30 287.38,225.30 287.50,225.30 287.62,225.30 287.75,225.30 287.88,225.30 288.00,225.30 288.12,225.30 288.25,225.30 288.38,225.30 288.50,225.30 288.62,225.30 288.75,225.30 288.88,225.30 289.00,225.30 289.12,225.30 289.25,225.30 289.38,225.30 289.50,225.30 289.62,225.30 289.75,225.30 289.88,225.30 290.00,225.30 290.12,225.30 290.25,225.30 290.38,225.30 290.50,225.30 290.62,225.30 290.75,225.30 290.88,225.30 291.00,225.30 291.12,225.30 291.25,225.30 291.38,225.30 291.50,225.30 291.62,225.30 291.75,225.30 291.88,225.30 292.00,225.30 292.12,225.30 292.25,225.30 292.38,225.30 292.50,225.30 292.62,225.30 292.75,225.30 292.88,225.30 293.00,225.30 293.12,225.30 293.25,225.30 293.38,225.30 293.50,225.30 293.62,225.30 293.75,225.30 293.88,225.30 294.00,225.30 294.12,225.30 294.25,225.30 294.38,225.30 294.50,225.30 294.62,225.30 294.75,225.30 294.88,225.30 295.00,225.30 295.12,225.30 295.25,225.30 295.38,225.30 295.50,225.30 295.62,225.30 295.75,225.30 295.88,225.30 296.00,225.30 296.12,225.30 296.25,225.30 296.38,225.30 296.50,225.30" stroke="#e0566e" stroke-width="1" stroke-dasharray="3,2"/>
</g>
<g transform="translate(0,0)">
<line x1="208.8" y1="11.00" x2="241.0" y2="11.00" stroke="#cfdbe2" stroke-width="2"/>
<text x="243.3" y="16.00" font-size="14.1" fill="#262626">Raw waveform</text>
<line x1="208.8" y1="28.50" x2="241.0" y2="28.50" stroke="#36c4eb" stroke-width="1.0"/>
<text x="243.3" y="33.20" font-size="14.1" fill="#262626">FWDN</text>
<line x1="208.8" y1="45.50" x2="240.5" y2="45.50" stroke="#e0566e" stroke-width="1" stroke-dasharray="3.5,1.9"/>
<text x="243.3" y="50.40" font-size="14.1" fill="#262626">Component 1</text>
<line x1="208.8" y1="62.50" x2="240.5" y2="62.50" stroke="#5577d6" stroke-width="1" stroke-dasharray="3.5,1.9"/>
<text x="243.3" y="67.60" font-size="14.1" fill="#262626">Component 2</text>
</g>
<g transform="translate(353,0)">
<line x1="208.8" y1="11.00" x2="241.0" y2="11.00" stroke="#cfdbe2" stroke-width="2"/>
<text x="243.3" y="16.00" font-size="14.1" fill="#262626">Raw waveform</text>
<line x1="208.8" y1="28.50" x2="241.0" y2="28.50" stroke="#36c4eb" stroke-width="1.0"/>
<text x="243.3" y="33.20" font-size="14.1" fill="#262626">FWDN</text>
<line x1="208.8" y1="45.50" x2="240.5" y2="45.50" stroke="#e0566e" stroke-width="1" stroke-dasharray="3.5,1.9"/>
<text x="243.3" y="50.40" font-size="14.1" fill="#262626">Component 1</text>
</g>
<g transform="translate(0,0)" font-size="21.5"><text x="162.6" y="284.3">(</text><text x="169.6" y="283.3" font-weight="bold" font-size="21.5">a</text><text x="179.7" y="284.3">)</text></g>
<g transform="translate(352,0)" font-size="21.5"><text x="162.6" y="284.3">(</text><text x="169.6" y="283.3" font-weight="bold" font-size="22.3">b</text><text x="182.3" y="284.3">)</text></g>
</svg>
</body></html>
